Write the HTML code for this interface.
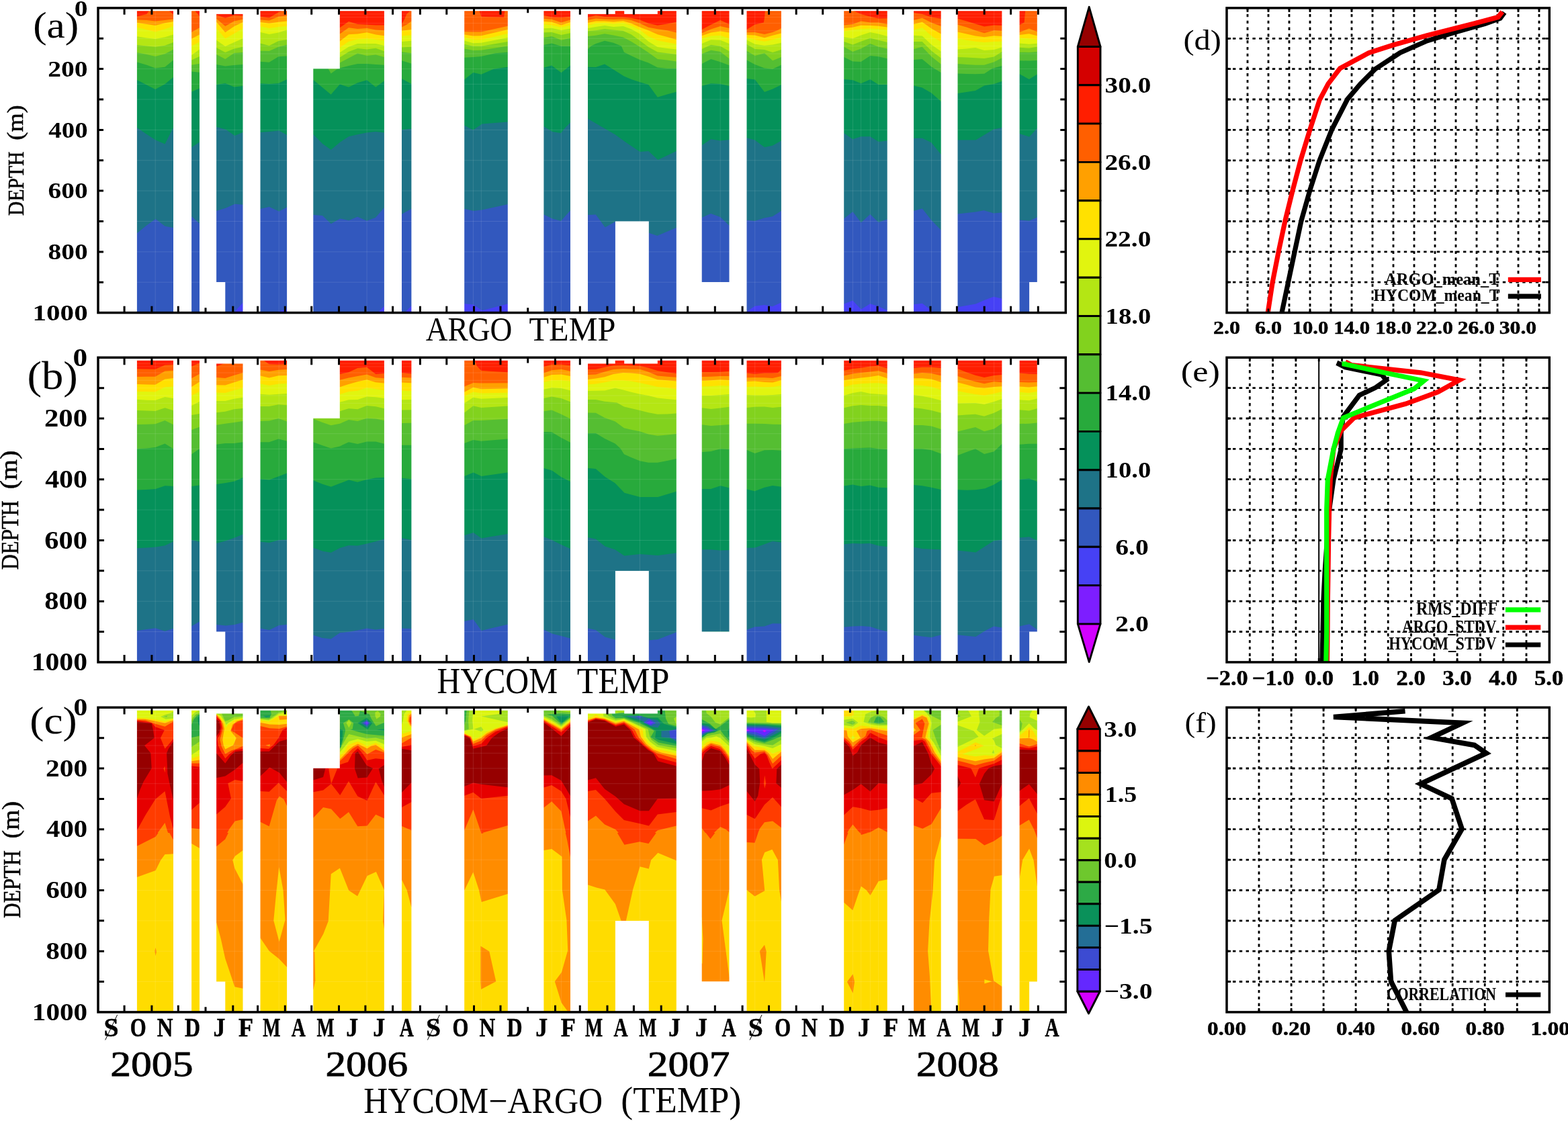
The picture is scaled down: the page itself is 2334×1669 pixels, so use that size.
<!DOCTYPE html>
<html lang="en"><head><meta charset="utf-8"><title>HYCOM vs ARGO temperature</title>
<style>html,body{margin:0;padding:0;background:#fff;overflow:hidden}svg{display:block}text{font-family:"Liberation Serif",serif;fill:#000;white-space:pre}</style>
</head><body>
<svg width="2334" height="1669" viewBox="0 0 2334 1669">
<rect width="2334" height="1669" fill="#fff"/>
<clipPath id="ka1"><rect x="202.4" y="13.3" width="57.1" height="452.3"/></clipPath>
<g clip-path="url(#ka1)">
<rect x="200.9" y="13.3" width="60.1" height="455.3" fill="#FF1E00"/>
<polygon points="199.9,24.6 203.9,24.6 218.4,20.9 221.7,16.1 231.2,12.9 245.5,12.9 251.4,16.1 258,21.5 262,21.5 262,470.6 199.9,470.6" fill="#FF5F00"/>
<polygon points="199.9,29.4 203.9,29.4 218.4,30.1 231.2,31.4 245.5,30.1 258,28.5 262,28.5 262,470.6 199.9,470.6" fill="#FFA000"/>
<polygon points="199.9,33.8 203.9,33.8 218.4,36 231.2,38 245.5,34.3 258,32.1 262,32.1 262,470.6 199.9,470.6" fill="#FFE100"/>
<polygon points="199.9,40.7 203.9,40.7 218.4,44.2 231.2,47.5 245.5,43.3 258,39.1 262,39.1 262,470.6 199.9,470.6" fill="#E1F50F"/>
<polygon points="199.9,54.3 203.9,54.3 218.4,56.5 231.2,58.1 245.5,55.2 258,51.5 262,51.5 262,470.6 199.9,470.6" fill="#B4E614"/>
<polygon points="199.9,67.1 203.9,67.1 218.4,68.4 231.2,69.7 245.5,67.7 258,62.9 262,62.9 262,470.6 199.9,470.6" fill="#82D21E"/>
<polygon points="199.9,78.3 203.9,78.3 218.4,81 231.2,84 245.5,80.3 258,73.7 262,73.7 262,470.6 199.9,470.6" fill="#55BE32"/>
<polygon points="199.9,92.5 203.9,92.5 218.4,96.8 231.2,101.4 245.5,99.8 258,89.5 262,89.5 262,470.6 199.9,470.6" fill="#28AA3C"/>
<polygon points="199.9,118.9 203.9,118.9 218.4,126.5 231.2,133.1 245.5,125.2 258,114.9 262,114.9 262,470.6 199.9,470.6" fill="#05915A"/>
<polygon points="199.9,190 203.9,190 217.7,199.6 231.6,208.5 245.5,214.6 257.5,190.9 262,190.9 262,470.6 199.9,470.6" fill="#1E7387"/>
<polygon points="199.9,347.2 203.9,347.2 217.7,336.1 231.6,325.9 245.5,336.7 257.5,338.9 262,338.9 262,470.6 199.9,470.6" fill="#3258BE"/>
</g>
<clipPath id="ka2"><rect x="283.6" y="13.3" width="14.9" height="452.3"/></clipPath>
<g clip-path="url(#ka2)">
<rect x="282.1" y="13.3" width="17.9" height="455.3" fill="#FF1E00"/>
<polygon points="281.1,12.9 285.1,12.9 290.4,16.2 297,24.2 301,24.2 301,470.6 281.1,470.6" fill="#FF5F00"/>
<polygon points="281.1,47.9 285.1,47.9 297,41.3 301,41.3 301,470.6 281.1,470.6" fill="#FFA000"/>
<polygon points="281.1,57.8 285.1,57.8 297,51.5 301,51.5 301,470.6 281.1,470.6" fill="#FFE100"/>
<polygon points="281.1,68.4 285.1,68.4 297,62.5 301,62.5 301,470.6 281.1,470.6" fill="#E1F50F"/>
<polygon points="281.1,82.3 285.1,82.3 297,73.4 301,73.4 301,470.6 281.1,470.6" fill="#B4E614"/>
<polygon points="281.1,89.5 285.1,89.5 297,84 301,84 301,470.6 281.1,470.6" fill="#82D21E"/>
<polygon points="281.1,96.8 285.1,96.8 297,94.8 301,94.8 301,470.6 281.1,470.6" fill="#55BE32"/>
<polygon points="281.1,106.5 285.1,106.5 297,107.8 301,107.8 301,470.6 281.1,470.6" fill="#28AA3C"/>
<polygon points="281.1,136.8 285.1,136.8 297,131.6 301,131.6 301,470.6 281.1,470.6" fill="#05915A"/>
<polygon points="281.1,219.2 285.2,219.2 296.9,211.8 301,211.8 301,470.6 281.1,470.6" fill="#1E7387"/>
<polygon points="281.1,322.2 285.2,322.2 296.9,332.8 301,332.8 301,470.6 281.1,470.6" fill="#3258BE"/>
</g>
<clipPath id="ka3"><rect x="320.6" y="17.9" width="42.4" height="447.7"/></clipPath>
<g clip-path="url(#ka3)">
<rect x="319.1" y="17.9" width="45.4" height="450.7" fill="#FF1E00"/>
<polygon points="318.1,22.2 322.1,22.2 335.3,26.8 348.5,22.8 361.5,23.5 365.5,23.5 365.5,470.6 318.1,470.6" fill="#FF5F00"/>
<polygon points="318.1,27.7 322.1,27.7 335.3,39.1 348.5,31.4 361.5,28.8 365.5,28.8 365.5,470.6 318.1,470.6" fill="#FFA000"/>
<polygon points="318.1,32.5 322.1,32.5 335.3,48.3 348.5,39.3 361.5,33 365.5,33 365.5,470.6 318.1,470.6" fill="#FFE100"/>
<polygon points="318.1,42 322.1,42 335.3,57.6 348.5,49.9 361.5,42.6 365.5,42.6 365.5,470.6 318.1,470.6" fill="#E1F50F"/>
<polygon points="318.1,59.8 322.1,59.8 335.3,69.1 348.5,63.1 361.5,57.2 365.5,57.2 365.5,470.6 318.1,470.6" fill="#B4E614"/>
<polygon points="318.1,71.1 322.1,71.1 335.3,77.9 348.5,72.4 361.5,69.7 365.5,69.7 365.5,470.6 318.1,470.6" fill="#82D21E"/>
<polygon points="318.1,81 322.1,81 335.3,88 348.5,79 361.5,77.9 365.5,77.9 365.5,470.6 318.1,470.6" fill="#55BE32"/>
<polygon points="318.1,96.1 322.1,96.1 335.3,98.5 348.5,97.1 361.5,96.1 365.5,96.1 365.5,470.6 318.1,470.6" fill="#28AA3C"/>
<polygon points="318.1,125.9 322.1,125.9 335.3,123.9 348.5,129.6 361.5,127.9 365.5,127.9 365.5,470.6 318.1,470.6" fill="#05915A"/>
<polygon points="318.1,189.1 322.2,189.1 336.1,192.8 349.4,202 361.6,197 365.5,197 365.5,470.6 318.1,470.6" fill="#1E7387"/>
<polygon points="318.1,313.9 322.2,313.9 336.1,309.8 349.4,303.7 361.6,304.7 365.5,304.7 365.5,470.6 318.1,470.6" fill="#3258BE"/>
<polygon points="318.1,485.9 322.2,485.9 349.4,464.1 361.6,450.4 365.5,450.4 365.5,470.6 318.1,470.6" fill="#4641F5"/>
</g>
<clipPath id="ka4"><rect x="386" y="13.3" width="42.6" height="452.3"/></clipPath>
<g clip-path="url(#ka4)">
<rect x="384.5" y="13.3" width="45.6" height="455.3" fill="#FF1E00"/>
<polygon points="383.5,24.8 387.5,24.8 400.7,26.4 414.6,18.2 419.9,16.1 427.1,12.9 431.1,12.9 431.1,470.6 383.5,470.6" fill="#FF5F00"/>
<polygon points="383.5,29.4 387.5,29.4 400.7,30.4 414.6,24.8 427.1,23.5 431.1,23.5 431.1,470.6 383.5,470.6" fill="#FFA000"/>
<polygon points="383.5,33 387.5,33 400.7,34.7 414.6,32.7 427.1,31.4 431.1,31.4 431.1,470.6 383.5,470.6" fill="#FFE100"/>
<polygon points="383.5,39.3 387.5,39.3 400.7,42 414.6,40 427.1,39.1 431.1,39.1 431.1,470.6 383.5,470.6" fill="#E1F50F"/>
<polygon points="383.5,47.9 387.5,47.9 400.7,51 414.6,48.6 427.1,44.6 431.1,44.6 431.1,470.6 383.5,470.6" fill="#B4E614"/>
<polygon points="383.5,64.4 387.5,64.4 400.7,68.1 414.6,61.1 427.1,58.9 431.1,58.9 431.1,470.6 383.5,470.6" fill="#82D21E"/>
<polygon points="383.5,75.7 387.5,75.7 400.7,76.1 414.6,69.7 427.1,66.8 431.1,66.8 431.1,470.6 383.5,470.6" fill="#55BE32"/>
<polygon points="383.5,91.8 387.5,91.8 400.7,92.8 414.6,84.3 427.1,83.6 431.1,83.6 431.1,470.6 383.5,470.6" fill="#28AA3C"/>
<polygon points="383.5,124.2 387.5,124.2 400.7,124.9 414.6,123.9 427.1,118.3 431.1,118.3 431.1,470.6 383.5,470.6" fill="#05915A"/>
<polygon points="383.5,197 387.5,197 400.8,195.9 415.3,194.6 427.1,201.1 431.1,201.1 431.1,470.6 383.5,470.6" fill="#1E7387"/>
<polygon points="383.5,311.1 387.5,311.1 400.8,308 415.3,314.8 427.1,308.4 431.1,308.4 431.1,470.6 383.5,470.6" fill="#3258BE"/>
<polygon points="383.5,485.9 387.5,485.9 413.8,464.1 427.1,460 431.1,460 431.1,470.6 383.5,470.6" fill="#4641F5"/>
</g>
<clipPath id="ka5"><rect x="464.8" y="13.3" width="108.6" height="452.3"/></clipPath>
<g clip-path="url(#ka5)">
<rect x="463.3" y="13.3" width="111.6" height="455.3" fill="#FF1E00"/>
<polygon points="462.3,41.3 466.3,41.3 505.8,41.3 519,32.1 532.3,36 546.1,36.7 559.3,37.4 571.9,37.4 575.9,37.4 575.9,470.6 462.3,470.6" fill="#FF5F00"/>
<polygon points="462.3,50.6 466.3,50.6 505.8,50.6 519,41.3 532.3,43 546.1,42 559.3,44.4 571.9,45.3 575.9,45.3 575.9,470.6 462.3,470.6" fill="#FFA000"/>
<polygon points="462.3,61.5 466.3,61.5 505.8,61.5 519,51.2 532.3,50.6 546.1,48.3 559.3,51.5 571.9,53.2 575.9,53.2 575.9,470.6 462.3,470.6" fill="#FFE100"/>
<polygon points="462.3,71.1 466.3,71.1 505.8,71.1 519,61.8 532.3,58.5 546.1,57.6 559.3,58.9 571.9,60.5 575.9,60.5 575.9,470.6 462.3,470.6" fill="#E1F50F"/>
<polygon points="462.3,78.3 466.3,78.3 505.8,78.3 519,69.7 532.3,65.1 546.1,65.1 559.3,65.1 571.9,68.1 575.9,68.1 575.9,470.6 462.3,470.6" fill="#B4E614"/>
<polygon points="462.3,85.6 466.3,85.6 505.8,85.6 519,77 532.3,72.1 546.1,73.4 559.3,71.7 571.9,76.3 575.9,76.3 575.9,470.6 462.3,470.6" fill="#82D21E"/>
<polygon points="462.3,93.5 466.3,93.5 505.8,93.5 519,86.6 532.3,79.6 546.1,82.9 559.3,81.6 571.9,84.9 575.9,84.9 575.9,470.6 462.3,470.6" fill="#55BE32"/>
<polygon points="462.3,97.5 466.3,97.5 488.4,102.1 492.6,109.6 502.3,102.5 505.8,101.4 519,98.1 532.3,95.1 546.1,95.1 559.3,96.1 571.9,96.8 575.9,96.8 575.9,470.6 462.3,470.6" fill="#28AA3C"/>
<polygon points="462.3,118.9 466.3,118.9 479.4,129.8 492.6,140.8 505.8,125.5 519,129.8 532.3,123.2 546.1,119.3 559.3,129.8 571.9,120.6 575.9,120.6 575.9,470.6 462.3,470.6" fill="#05915A"/>
<polygon points="462.3,200.2 466.5,200.2 480,214 492.7,222.9 506.2,211.8 519.2,203.3 532.1,200.2 546,197.4 559,196.1 571.9,197.4 575.9,197.4 575.9,470.6 462.3,470.6" fill="#1E7387"/>
<polygon points="462.3,320 466.5,320 480,320.9 492.7,333.3 506.2,325.4 519.2,328.3 532.1,322.8 546,328.7 559,324.1 571.9,309.3 575.9,309.3 575.9,470.6 462.3,470.6" fill="#3258BE"/>
<polygon points="462.3,504.4 466.5,504.4 563.6,464.1 571.9,455.9 575.9,455.9 575.9,470.6 462.3,470.6" fill="#4641F5"/>
</g>
<clipPath id="ka6"><rect x="596.5" y="13.3" width="17.4" height="452.3"/></clipPath>
<g clip-path="url(#ka6)">
<rect x="595" y="13.3" width="20.4" height="455.3" fill="#FF1E00"/>
<polygon points="594,36 598,36 602,28.8 605.3,20.9 610.6,16.1 612.6,12.9 616.4,12.9 616.4,470.6 594,470.6" fill="#FF5F00"/>
<polygon points="594,40.4 598,40.4 605.3,36.7 612.6,31.4 616.4,31.4 616.4,470.6 594,470.6" fill="#FFA000"/>
<polygon points="594,45.7 598,45.7 612.6,44 616.4,44 616.4,470.6 594,470.6" fill="#FFE100"/>
<polygon points="594,53.6 598,53.6 612.6,52.3 616.4,52.3 616.4,470.6 594,470.6" fill="#E1F50F"/>
<polygon points="594,62.1 598,62.1 612.6,60.7 616.4,60.7 616.4,470.6 594,470.6" fill="#B4E614"/>
<polygon points="594,70.4 598,70.4 612.6,69.7 616.4,69.7 616.4,470.6 594,470.6" fill="#82D21E"/>
<polygon points="594,77.3 598,77.3 612.6,79.2 616.4,79.2 616.4,470.6 594,470.6" fill="#55BE32"/>
<polygon points="594,90.2 598,90.2 612.6,94.8 616.4,94.8 616.4,470.6 594,470.6" fill="#28AA3C"/>
<polygon points="594,117.3 598,117.3 612.6,124.9 616.4,124.9 616.4,470.6 594,470.6" fill="#05915A"/>
<polygon points="594,193.3 597.8,193.3 612.2,191.8 616.4,191.8 616.4,470.6 594,470.6" fill="#1E7387"/>
<polygon points="594,318.9 597.8,318.9 612.2,311.1 616.4,311.1 616.4,470.6 594,470.6" fill="#3258BE"/>
<polygon points="594,471.1 597.8,471.1 603.9,464.1 612.2,455.4 616.4,455.4 616.4,470.6 594,470.6" fill="#4641F5"/>
</g>
<clipPath id="ka7"><rect x="689.7" y="13.3" width="67.6" height="452.3"/></clipPath>
<g clip-path="url(#ka7)">
<rect x="688.2" y="13.3" width="70.6" height="455.3" fill="#FF1E00"/>
<polygon points="687.2,12.9 691.2,12.9 711,12.9 713.6,16.2 716.3,24.8 729.5,25.2 742.7,25.5 750,25.7 751.5,16.1 755.9,12.9 759.8,12.9 759.8,470.6 687.2,470.6" fill="#FF5F00"/>
<polygon points="687.2,47.3 691.2,47.3 704.4,47.5 716.3,47.5 755.9,38.7 759.8,38.7 759.8,470.6 687.2,470.6" fill="#FFA000"/>
<polygon points="687.2,51.5 691.2,51.5 704.4,53.6 716.3,53.2 755.9,44 759.8,44 759.8,470.6 687.2,470.6" fill="#FFE100"/>
<polygon points="687.2,55.5 691.2,55.5 704.4,59.2 716.3,59.2 755.9,49.9 759.8,49.9 759.8,470.6 687.2,470.6" fill="#E1F50F"/>
<polygon points="687.2,60.5 691.2,60.5 704.4,64.2 716.3,63.8 755.9,55.9 759.8,55.9 759.8,470.6 687.2,470.6" fill="#B4E614"/>
<polygon points="687.2,66 691.2,66 704.4,68.7 716.3,68.7 755.9,62.1 759.8,62.1 759.8,470.6 687.2,470.6" fill="#82D21E"/>
<polygon points="687.2,72.6 691.2,72.6 704.4,75 716.3,74.7 755.9,68.4 759.8,68.4 759.8,470.6 687.2,470.6" fill="#55BE32"/>
<polygon points="687.2,85.8 691.2,85.8 704.4,84.9 716.3,84 737.4,79.2 755.9,77.7 759.8,77.7 759.8,470.6 687.2,470.6" fill="#28AA3C"/>
<polygon points="687.2,118.6 691.2,118.6 704.4,108 716.3,110.7 734.8,102.8 755.9,99.8 759.8,99.8 759.8,470.6 687.2,470.6" fill="#05915A"/>
<polygon points="687.2,186.7 691.2,186.7 704.3,193.5 717.6,184.5 755.5,181.5 759.8,181.5 759.8,470.6 687.2,470.6" fill="#1E7387"/>
<polygon points="687.2,311.1 691.2,311.1 704.7,313.9 717.6,312.4 755.5,304.3 759.8,304.3 759.8,470.6 687.2,470.6" fill="#3258BE"/>
<polygon points="687.2,452.2 691.2,452.2 704.7,453.5 717.6,462.2 730.6,459.1 743.5,455.4 755.5,452.6 759.8,452.6 759.8,470.6 687.2,470.6" fill="#4641F5"/>
</g>
<clipPath id="ka8"><rect x="807.9" y="13.3" width="42.6" height="452.3"/></clipPath>
<g clip-path="url(#ka8)">
<rect x="806.4" y="13.3" width="45.6" height="455.3" fill="#FF1E00"/>
<polygon points="805.4,22.8 809.4,22.8 821.2,25.5 835.4,26.1 849,24.8 853,24.8 853,470.6 805.4,470.6" fill="#FF5F00"/>
<polygon points="805.4,27.7 809.4,27.7 821.2,28.8 835.4,33.4 849,29.4 853,29.4 853,470.6 805.4,470.6" fill="#FFA000"/>
<polygon points="805.4,32.1 809.4,32.1 821.2,32.7 835.4,37.4 849,33 853,33 853,470.6 805.4,470.6" fill="#FFE100"/>
<polygon points="805.4,36 809.4,36 821.2,37.4 835.4,40.7 849,37.4 853,37.4 853,470.6 805.4,470.6" fill="#E1F50F"/>
<polygon points="805.4,42.3 809.4,42.3 821.2,41.7 835.4,44.9 849,42.6 853,42.6 853,470.6 805.4,470.6" fill="#B4E614"/>
<polygon points="805.4,48.6 809.4,48.6 821.2,47.9 835.4,51.9 849,49.3 853,49.3 853,470.6 805.4,470.6" fill="#82D21E"/>
<polygon points="805.4,56.1 809.4,56.1 821.2,54.1 835.4,59.8 849,56.8 853,56.8 853,470.6 805.4,470.6" fill="#55BE32"/>
<polygon points="805.4,67.1 809.4,67.1 821.2,64.4 835.4,68.7 849,68.7 853,68.7 853,470.6 805.4,470.6" fill="#28AA3C"/>
<polygon points="805.4,100.8 809.4,100.8 821.2,97.5 835.4,108.3 849,97.5 853,97.5 853,470.6 805.4,470.6" fill="#05915A"/>
<polygon points="805.4,188.2 809.5,188.2 822.1,195.9 835,198.3 841.5,190 848.9,182.6 853,182.6 853,470.6 805.4,470.6" fill="#1E7387"/>
<polygon points="805.4,319.5 809.5,319.5 822.1,325.6 835,329.1 848.9,313.5 853,313.5 853,470.6 805.4,470.6" fill="#3258BE"/>
</g>
<clipPath id="ka9"><rect x="873.5" y="13.3" width="134.8" height="452.3"/></clipPath>
<g clip-path="url(#ka9)">
<rect x="872" y="13.3" width="137.8" height="455.3" fill="#FF1E00"/>
<polygon points="871,26.1 875,26.1 886.9,22.8 900.1,25.1 927.6,25.5 939.5,26.8 952.4,29.4 965.2,34.7 978.8,37.8 993,35.6 1006.8,32.7 1010.8,32.7 1010.8,470.6 871,470.6" fill="#FF5F00"/>
<polygon points="871,30.1 875,30.1 886.9,27.5 900.1,28.5 913.1,29 927.6,28.5 939.5,30.1 952.4,34.7 965.2,40.7 978.8,43.3 993,45.3 1006.8,48.6 1010.8,48.6 1010.8,470.6 871,470.6" fill="#FFA000"/>
<polygon points="871,34.1 875,34.1 886.9,31.4 900.1,31.4 913.1,32.5 927.6,31.2 939.5,34.7 952.4,40.4 965.2,45.3 978.8,51.2 993,54.9 1006.8,58.9 1010.8,58.9 1010.8,470.6 871,470.6" fill="#FFE100"/>
<polygon points="871,37.8 875,37.8 886.9,34.7 900.1,34.3 913.1,35.6 927.6,34.1 939.5,38.3 952.4,44.6 965.2,53.9 978.8,60.2 993,63.1 1006.8,65.8 1010.8,65.8 1010.8,470.6 871,470.6" fill="#E1F50F"/>
<polygon points="871,42 875,42 886.9,40 900.1,38 913.1,40 927.6,39.1 939.5,43.3 952.4,50.6 965.2,61.8 978.8,70 993,72.1 1006.8,73.4 1010.8,73.4 1010.8,470.6 871,470.6" fill="#B4E614"/>
<polygon points="871,46.2 875,46.2 886.9,45.3 900.1,43.3 913.1,44.6 927.6,46 939.5,51.2 952.4,60.5 965.2,70 978.8,77.4 993,79.2 1006.8,81 1010.8,81 1010.8,470.6 871,470.6" fill="#82D21E"/>
<polygon points="871,54.1 875,54.1 886.9,52.8 900.1,50.2 913.1,52.6 927.6,55.5 939.5,61.8 952.4,69.7 965.2,78.3 978.8,88 993,89.5 1006.8,91.5 1010.8,91.5 1010.8,470.6 871,470.6" fill="#55BE32"/>
<polygon points="871,73 875,73 880,68.4 886.9,65.1 900.1,60.7 913.1,63.8 924.9,68.4 928.9,77.7 939.5,82.9 952.4,88.9 965.2,93.5 978.8,100.4 993,102.1 1006.8,102.1 1010.8,102.1 1010.8,470.6 871,470.6" fill="#28AA3C"/>
<polygon points="871,99.8 875,99.8 886.9,100.1 900.1,95.5 913.1,103.4 928.9,113.6 939.5,117.9 952.4,122.3 965.2,125.9 978.8,144.8 993,140.4 1006.8,136.7 1010.8,136.7 1010.8,470.6 871,470.6" fill="#05915A"/>
<polygon points="871,177.1 875.4,177.1 900.7,191.8 915.5,200.2 932.1,212.2 952.5,226.1 965.4,225.1 979.3,238.1 1006.7,225.1 1010.8,225.1 1010.8,470.6 871,470.6" fill="#1E7387"/>
<polygon points="871,320 875.4,320 886.8,319.5 900.7,338.5 915.9,330 965.8,346.8 978.4,350.9 1006.7,338.9 1010.8,338.9 1010.8,470.6 871,470.6" fill="#3258BE"/>
</g>
<clipPath id="ka10"><rect x="1043.2" y="13.3" width="43.8" height="406.7"/></clipPath>
<g clip-path="url(#ka10)">
<rect x="1041.7" y="13.3" width="46.8" height="409.7" fill="#FF1E00"/>
<polygon points="1040.7,44 1044.7,44 1058.3,36.7 1072.2,30.1 1085.4,36 1089.5,36 1089.5,425 1040.7,425" fill="#FF5F00"/>
<polygon points="1040.7,49.3 1044.7,49.3 1058.3,43.6 1072.2,39.1 1085.4,42 1089.5,42 1089.5,425 1040.7,425" fill="#FFA000"/>
<polygon points="1040.7,53.2 1044.7,53.2 1058.3,48.6 1072.2,46.6 1085.4,48.6 1089.5,48.6 1089.5,425 1040.7,425" fill="#FFE100"/>
<polygon points="1040.7,57.2 1044.7,57.2 1058.3,53.6 1072.2,52.8 1085.4,57.2 1089.5,57.2 1089.5,425 1040.7,425" fill="#E1F50F"/>
<polygon points="1040.7,65.1 1044.7,65.1 1058.3,59.2 1072.2,59.8 1085.4,65.1 1089.5,65.1 1089.5,425 1040.7,425" fill="#B4E614"/>
<polygon points="1040.7,73 1044.7,73 1058.3,66.8 1072.2,68.7 1085.4,76.3 1089.5,76.3 1089.5,425 1040.7,425" fill="#82D21E"/>
<polygon points="1040.7,80.3 1044.7,80.3 1058.3,74.7 1072.2,77 1085.4,87.2 1089.5,87.2 1089.5,425 1040.7,425" fill="#55BE32"/>
<polygon points="1040.7,95.1 1044.7,95.1 1058.3,88 1072.2,92.2 1085.4,97.2 1089.5,97.2 1089.5,425 1040.7,425" fill="#28AA3C"/>
<polygon points="1040.7,128.1 1044.7,128.1 1058.3,124.2 1072.2,124.9 1085.4,127.9 1089.5,127.9 1089.5,425 1040.7,425" fill="#05915A"/>
<polygon points="1040.7,216.4 1044.6,216.4 1058.1,207.2 1072.3,209.4 1085.6,208.1 1089.5,208.1 1089.5,425 1040.7,425" fill="#1E7387"/>
<polygon points="1040.7,324.1 1044.6,324.1 1058.1,318 1072.3,323.2 1085.6,336.1 1089.5,336.1 1089.5,425 1040.7,425" fill="#3258BE"/>
</g>
<clipPath id="ka11"><rect x="1110" y="13.3" width="54.4" height="452.3"/></clipPath>
<g clip-path="url(#ka11)">
<rect x="1108.5" y="13.3" width="57.4" height="455.3" fill="#FF1E00"/>
<polygon points="1107.5,44 1111.5,44 1123.7,36.4 1136.9,33.4 1138.2,24.8 1138.9,16.1 1162.9,10.3 1166.9,10.3 1166.9,470.6 1107.5,470.6" fill="#FF5F00"/>
<polygon points="1107.5,48.3 1111.5,48.3 1123.7,47.9 1138,51 1150.1,47.9 1158.7,44.6 1162.9,42 1166.9,42 1166.9,470.6 1107.5,470.6" fill="#FFA000"/>
<polygon points="1107.5,51.9 1111.5,51.9 1123.7,52.6 1138,56.3 1150.1,52.8 1162.9,49.6 1166.9,49.6 1166.9,470.6 1107.5,470.6" fill="#FFE100"/>
<polygon points="1107.5,55.9 1111.5,55.9 1123.7,59.2 1138,61.8 1150.1,59.2 1162.9,55.5 1166.9,55.5 1166.9,470.6 1107.5,470.6" fill="#E1F50F"/>
<polygon points="1107.5,59.4 1111.5,59.4 1123.7,65.8 1138,67.7 1150.1,66.4 1162.9,63.8 1166.9,63.8 1166.9,470.6 1107.5,470.6" fill="#B4E614"/>
<polygon points="1107.5,66 1111.5,66 1123.7,73 1138,74 1150.1,77.9 1162.9,74 1166.9,74 1166.9,470.6 1107.5,470.6" fill="#82D21E"/>
<polygon points="1107.5,75.7 1111.5,75.7 1123.7,82.9 1138,79.2 1150.1,90.2 1162.9,84.9 1166.9,84.9 1166.9,470.6 1107.5,470.6" fill="#55BE32"/>
<polygon points="1107.5,89.5 1111.5,89.5 1123.7,96.1 1138,101.4 1150.1,102.8 1162.9,96.8 1166.9,96.8 1166.9,470.6 1107.5,470.6" fill="#28AA3C"/>
<polygon points="1107.5,117 1111.5,117 1123.7,118.6 1138,137.1 1150.1,132.5 1162.9,126.3 1166.9,126.3 1166.9,470.6 1107.5,470.6" fill="#05915A"/>
<polygon points="1107.5,205.2 1111.5,205.2 1123.5,208.5 1138,219.2 1150,216.8 1162.9,209.4 1166.9,209.4 1166.9,470.6 1107.5,470.6" fill="#1E7387"/>
<polygon points="1107.5,327.8 1111.5,327.8 1123.5,329.1 1138,324.6 1150,322.2 1162.9,313.9 1166.9,313.9 1166.9,470.6 1107.5,470.6" fill="#3258BE"/>
<polygon points="1107.5,464.1 1111.5,464.1 1123.5,455.8 1138,454.1 1150,456.3 1162.9,450.4 1166.9,450.4 1166.9,470.6 1107.5,470.6" fill="#4641F5"/>
</g>
<clipPath id="ka12"><rect x="1254.7" y="13.3" width="67.5" height="452.3"/></clipPath>
<g clip-path="url(#ka12)">
<rect x="1253.2" y="13.3" width="70.5" height="455.3" fill="#FF1E00"/>
<polygon points="1252.2,12.9 1256.2,12.9 1269.7,12.9 1271,16.2 1281.6,20.9 1295.4,24.8 1307.7,27.5 1320.7,27.2 1324.7,27.2 1324.7,470.6 1252.2,470.6" fill="#FF5F00"/>
<polygon points="1252.2,37.4 1256.2,37.4 1269.4,36 1281.6,31.4 1295.4,33.4 1307.7,33.4 1320.7,36 1324.7,36 1324.7,470.6 1252.2,470.6" fill="#FFA000"/>
<polygon points="1252.2,42 1256.2,42 1269.4,40.7 1281.6,37.8 1295.4,38 1307.7,38.7 1320.7,40.4 1324.7,40.4 1324.7,470.6 1252.2,470.6" fill="#FFE100"/>
<polygon points="1252.2,46.6 1256.2,46.6 1269.4,44.4 1281.6,43.3 1295.4,42.6 1307.7,43.3 1320.7,44.6 1324.7,44.6 1324.7,470.6 1252.2,470.6" fill="#E1F50F"/>
<polygon points="1252.2,55.2 1256.2,55.2 1269.4,57.2 1281.6,52.6 1295.4,47.9 1307.7,50.6 1320.7,53.9 1324.7,53.9 1324.7,470.6 1252.2,470.6" fill="#B4E614"/>
<polygon points="1252.2,62.1 1256.2,62.1 1269.4,66.4 1281.6,61.8 1295.4,56.8 1307.7,59.8 1320.7,63.1 1324.7,63.1 1324.7,470.6 1252.2,470.6" fill="#82D21E"/>
<polygon points="1252.2,69.7 1256.2,69.7 1269.4,77 1281.6,72.4 1295.4,65.1 1307.7,69.7 1320.7,72.6 1324.7,72.6 1324.7,470.6 1252.2,470.6" fill="#55BE32"/>
<polygon points="1252.2,84.9 1256.2,84.9 1269.4,91.5 1281.6,91.9 1295.4,82.9 1307.7,84.3 1320.7,87.2 1324.7,87.2 1324.7,470.6 1252.2,470.6" fill="#28AA3C"/>
<polygon points="1252.2,117.9 1256.2,117.9 1269.4,119.3 1281.6,124.2 1295.4,118.3 1307.7,125.9 1320.7,125.9 1324.7,125.9 1324.7,470.6 1252.2,470.6" fill="#05915A"/>
<polygon points="1252.2,198.3 1256.3,198.3 1269.3,207.2 1281.8,203.3 1295.2,203.3 1307.7,210.9 1320.5,209.4 1324.7,209.4 1324.7,470.6 1252.2,470.6" fill="#1E7387"/>
<polygon points="1252.2,325.6 1256.3,325.6 1269.3,315.2 1281.8,331.5 1295.2,318.9 1307.7,330.9 1320.5,326.5 1324.7,326.5 1324.7,470.6 1252.2,470.6" fill="#3258BE"/>
<polygon points="1252.2,452.6 1256.3,452.6 1269.3,447.4 1281.8,460.4 1295.2,452.2 1307.7,456.3 1320.5,461.9 1324.7,461.9 1324.7,470.6 1252.2,470.6" fill="#4641F5"/>
</g>
<clipPath id="ka13"><rect x="1358.6" y="13.3" width="43.6" height="452.3"/></clipPath>
<g clip-path="url(#ka13)">
<rect x="1357.1" y="13.3" width="46.6" height="455.3" fill="#FF1E00"/>
<polygon points="1356.1,18.9 1360.1,18.9 1372.7,20.9 1386.5,25.5 1400.7,27.7 1404.7,27.7 1404.7,470.6 1356.1,470.6" fill="#FF5F00"/>
<polygon points="1356.1,30.1 1360.1,30.1 1372.7,26.8 1386.5,33.8 1400.7,39.1 1404.7,39.1 1404.7,470.6 1356.1,470.6" fill="#FFA000"/>
<polygon points="1356.1,36 1360.1,36 1372.7,32.7 1386.5,42.6 1400.7,50.6 1404.7,50.6 1404.7,470.6 1356.1,470.6" fill="#FFE100"/>
<polygon points="1356.1,44.6 1360.1,44.6 1372.7,41.3 1386.5,53.6 1400.7,62.5 1404.7,62.5 1404.7,470.6 1356.1,470.6" fill="#E1F50F"/>
<polygon points="1356.1,52.8 1360.1,52.8 1372.7,53.6 1386.5,66.4 1400.7,76.6 1404.7,76.6 1404.7,470.6 1356.1,470.6" fill="#B4E614"/>
<polygon points="1356.1,62.1 1360.1,62.1 1372.7,62.1 1386.5,75.7 1400.7,86.6 1404.7,86.6 1404.7,470.6 1356.1,470.6" fill="#82D21E"/>
<polygon points="1356.1,73 1360.1,73 1372.7,69.7 1386.5,84.3 1400.7,95.5 1404.7,95.5 1404.7,470.6 1356.1,470.6" fill="#55BE32"/>
<polygon points="1356.1,88.9 1360.1,88.9 1372.7,88 1386.5,99.5 1400.7,108 1404.7,108 1404.7,470.6 1356.1,470.6" fill="#28AA3C"/>
<polygon points="1356.1,127.6 1360.1,127.6 1372.7,130.5 1386.5,138.4 1400.7,151 1404.7,151 1404.7,470.6 1356.1,470.6" fill="#05915A"/>
<polygon points="1356.1,205.7 1359.9,205.7 1372.8,205.7 1386.3,212.2 1400.6,229.8 1404.7,229.8 1404.7,470.6 1356.1,470.6" fill="#1E7387"/>
<polygon points="1356.1,313.9 1359.9,313.9 1372.8,310.6 1386.3,327.8 1400.6,342.6 1404.7,342.6 1404.7,470.6 1356.1,470.6" fill="#3258BE"/>
<polygon points="1356.1,453.2 1359.9,453.2 1372.8,451.7 1386.3,461.9 1389.5,464.1 1400.6,471.1 1404.7,471.1 1404.7,470.6 1356.1,470.6" fill="#4641F5"/>
</g>
<clipPath id="ka14"><rect x="1424" y="13.3" width="68.9" height="452.3"/></clipPath>
<g clip-path="url(#ka14)">
<rect x="1422.5" y="13.3" width="71.9" height="455.3" fill="#FF1E00"/>
<polygon points="1421.5,27.7 1425.5,27.7 1438.7,31.4 1451.9,35.6 1465.1,39.6 1479.7,37.4 1491.3,38 1495.4,38 1495.4,470.6 1421.5,470.6" fill="#FF5F00"/>
<polygon points="1421.5,36.7 1425.5,36.7 1438.7,40.4 1451.9,45.3 1465.1,49.3 1479.7,45.3 1491.3,46 1495.4,46 1495.4,470.6 1421.5,470.6" fill="#FFA000"/>
<polygon points="1421.5,47.5 1425.5,47.5 1438.7,50.6 1451.9,53.6 1465.1,55.2 1479.7,53.2 1491.3,53.9 1495.4,53.9 1495.4,470.6 1421.5,470.6" fill="#FFE100"/>
<polygon points="1421.5,57.6 1425.5,57.6 1438.7,59.8 1451.9,61.8 1465.1,62.9 1479.7,62.1 1491.3,61.5 1495.4,61.5 1495.4,470.6 1421.5,470.6" fill="#E1F50F"/>
<polygon points="1421.5,73.4 1425.5,73.4 1438.7,72.4 1451.9,71.1 1465.1,75 1479.7,74 1491.3,70.4 1495.4,70.4 1495.4,470.6 1421.5,470.6" fill="#B4E614"/>
<polygon points="1421.5,84.9 1425.5,84.9 1438.7,85.6 1451.9,86.2 1465.1,86.9 1479.7,84.5 1491.3,77 1495.4,77 1495.4,470.6 1421.5,470.6" fill="#82D21E"/>
<polygon points="1421.5,95.1 1425.5,95.1 1438.7,95.9 1451.9,96.8 1465.1,96.8 1479.7,92.2 1491.3,86.2 1495.4,86.2 1495.4,470.6 1421.5,470.6" fill="#55BE32"/>
<polygon points="1421.5,109.4 1425.5,109.4 1438.7,110 1451.9,110.3 1465.1,109.8 1477,102.1 1491.3,97.9 1495.4,97.9 1495.4,470.6 1421.5,470.6" fill="#28AA3C"/>
<polygon points="1421.5,139.1 1425.5,139.1 1438.7,137.1 1451.9,135.1 1465.1,127.6 1479.7,124.9 1491.3,121 1495.4,121 1495.4,470.6 1421.5,470.6" fill="#05915A"/>
<polygon points="1421.5,208.6 1425.7,208.6 1452.4,208.6 1466.2,200.3 1479.1,192.6 1491.6,190 1495.4,190 1495.4,470.6 1421.5,470.6" fill="#1E7387"/>
<polygon points="1421.5,318.4 1425.7,318.4 1452.4,315.5 1464.5,313.3 1479.1,317.6 1491.6,316.4 1495.4,316.4 1495.4,470.6 1421.5,470.6" fill="#3258BE"/>
<polygon points="1421.5,457.2 1425.7,457.2 1452.4,452.4 1466.2,446.6 1479.1,441.7 1491.6,444.8 1495.4,444.8 1495.4,470.6 1421.5,470.6" fill="#4641F5"/>
</g>
<clipPath id="ka15"><rect x="1516.1" y="13.3" width="29.2" height="452.3"/></clipPath>
<g clip-path="url(#ka15)">
<rect x="1514.6" y="13.3" width="32.2" height="455.3" fill="#FF1E00"/>
<polygon points="1513.6,37 1517.6,37 1524.6,33.4 1526.2,16.1 1543.7,10.3 1547.8,10.3 1547.8,470.6 1513.6,470.6" fill="#FF5F00"/>
<polygon points="1513.6,47.9 1517.6,47.9 1531.8,42.6 1543.7,47.3 1547.8,47.3 1547.8,470.6 1513.6,470.6" fill="#FFA000"/>
<polygon points="1513.6,51.9 1517.6,51.9 1531.8,50.2 1543.7,53.2 1547.8,53.2 1547.8,470.6 1513.6,470.6" fill="#FFE100"/>
<polygon points="1513.6,56.5 1517.6,56.5 1531.8,57.6 1543.7,59.2 1547.8,59.2 1547.8,470.6 1513.6,470.6" fill="#E1F50F"/>
<polygon points="1513.6,64.4 1517.6,64.4 1531.8,65.8 1543.7,64.7 1547.8,64.7 1547.8,470.6 1513.6,470.6" fill="#B4E614"/>
<polygon points="1513.6,70.8 1517.6,70.8 1531.8,71.7 1543.7,69.7 1547.8,69.7 1547.8,470.6 1513.6,470.6" fill="#82D21E"/>
<polygon points="1513.6,77.7 1517.6,77.7 1531.8,77.9 1543.7,77 1547.8,77 1547.8,470.6 1513.6,470.6" fill="#55BE32"/>
<polygon points="1513.6,90.2 1517.6,90.2 1531.8,90.5 1543.7,89.9 1547.8,89.9 1547.8,470.6 1513.6,470.6" fill="#28AA3C"/>
<polygon points="1513.6,110.3 1517.6,110.3 1531.8,117.9 1543.7,110.7 1547.8,110.7 1547.8,470.6 1513.6,470.6" fill="#05915A"/>
<polygon points="1513.6,199 1517.6,199 1532.1,203.8 1543.8,190.9 1547.8,190.9 1547.8,470.6 1513.6,470.6" fill="#1E7387"/>
<polygon points="1513.6,327.4 1517.6,327.4 1532.1,328.8 1543.8,323.6 1547.8,323.6 1547.8,470.6 1513.6,470.6" fill="#3258BE"/>
</g>
<path d="M146 21H1586.3 M146 25.5H1586.3 M146 34.6H1586.3 M146 45.9H1586.3 M146 57.3H1586.3 M146 68.6H1586.3 M146 80H1586.3 M146 102.6H1586.3 M146 125.3H1586.3 M146 148H1586.3 M146 193.4H1586.3 M146 238.8H1586.3 M146 284.1H1586.3 M146 329.5H1586.3 M146 374.9H1586.3 M146 420.2H1586.3 M231.2 11.9V465.6 M349.2 11.9V465.6 M415.2 11.9V465.6 M546.1 11.9V465.6 M704.4 11.9V465.6 M716.3 11.9V465.6 M821.2 11.9V465.6 M835.4 11.9V465.6 M952.4 11.9V465.6 M1072.2 11.9V465.6 M1123.7 11.9V465.6 M1269.4 11.9V465.6 M1281.6 11.9V465.6 M1295.4 11.9V465.6 M1307.7 11.9V465.6 M1386.5 11.9V465.6 M1479.7 11.9V465.6" stroke="#fff" stroke-opacity="0.11" stroke-width="1" fill="none"/>
<rect x="146" y="11.9" width="57.9" height="453.7" fill="#fff"/>
<rect x="258" y="11.9" width="27.1" height="453.7" fill="#fff"/>
<rect x="297" y="11.9" width="25.1" height="453.7" fill="#fff"/>
<rect x="361.5" y="11.9" width="26" height="453.7" fill="#fff"/>
<rect x="427.1" y="11.9" width="39.2" height="453.7" fill="#fff"/>
<rect x="571.9" y="11.9" width="26.1" height="453.7" fill="#fff"/>
<rect x="612.4" y="11.9" width="78.8" height="453.7" fill="#fff"/>
<rect x="755.8" y="11.9" width="53.6" height="453.7" fill="#fff"/>
<rect x="849" y="11.9" width="26" height="453.7" fill="#fff"/>
<rect x="1006.8" y="11.9" width="37.9" height="453.7" fill="#fff"/>
<rect x="1085.5" y="11.9" width="26" height="453.7" fill="#fff"/>
<rect x="1162.9" y="11.9" width="93.3" height="453.7" fill="#fff"/>
<rect x="1320.7" y="11.9" width="39.4" height="453.7" fill="#fff"/>
<rect x="1400.7" y="11.9" width="24.8" height="453.7" fill="#fff"/>
<rect x="1491.4" y="11.9" width="26.2" height="453.7" fill="#fff"/>
<rect x="1543.8" y="11.9" width="42.5" height="453.7" fill="#fff"/>
<rect x="146" y="11.9" width="1440.3" height="4.4" fill="#fff"/>
<rect x="321.1" y="11.9" width="41.4" height="9" fill="#fff"/>
<rect x="321.1" y="420" width="14.2" height="45.6" fill="#fff"/>
<rect x="465.3" y="11.9" width="40.5" height="90.4" fill="#fff"/>
<rect x="874" y="11.9" width="41.7" height="9" fill="#fff"/>
<rect x="929.2" y="11.9" width="49.6" height="9" fill="#fff"/>
<rect x="915.9" y="329.5" width="49.9" height="136.1" fill="#fff"/>
<rect x="1043.7" y="420" width="42.8" height="45.6" fill="#fff"/>
<rect x="1532.1" y="420" width="12.7" height="45.6" fill="#fff"/>
<clipPath id="kb1"><rect x="202.4" y="533.8" width="57.1" height="452.3"/></clipPath>
<g clip-path="url(#kb1)">
<rect x="200.9" y="533.8" width="60.1" height="455.3" fill="#FF1E00"/>
<polygon points="199.9,549.2 203.9,549.2 218.4,549.4 231.2,549.8 245.5,543.5 258,542.8 262,542.8 262,991.1 199.9,991.1" fill="#FF5F00"/>
<polygon points="199.9,560.9 203.9,560.9 218.4,560.7 231.2,560.7 245.5,552.5 258,551.7 262,551.7 262,991.1 199.9,991.1" fill="#FFA000"/>
<polygon points="199.9,571.9 203.9,571.9 218.4,572.6 231.2,572.8 245.5,564.4 258,563 262,563 262,991.1 199.9,991.1" fill="#FFE100"/>
<polygon points="199.9,582.9 203.9,582.9 218.4,583.1 231.2,583.4 245.5,576.3 258,575.5 262,575.5 262,991.1 199.9,991.1" fill="#E1F50F"/>
<polygon points="199.9,594.7 203.9,594.7 218.4,595.7 231.2,596.1 245.5,591.1 258,593 262,593 262,991.1 199.9,991.1" fill="#B4E614"/>
<polygon points="199.9,610.9 203.9,610.9 218.4,611.5 231.2,611.9 245.5,607.2 258,611.1 262,611.1 262,991.1 199.9,991.1" fill="#82D21E"/>
<polygon points="199.9,632 203.9,632 218.4,631.7 231.2,631.3 245.5,626.1 258,632.3 262,632.3 262,991.1 199.9,991.1" fill="#55BE32"/>
<polygon points="199.9,668.3 203.9,668.3 218.4,667.4 231.2,666.1 245.5,660.4 258,668.3 262,668.3 262,991.1 199.9,991.1" fill="#28AA3C"/>
<polygon points="199.9,729.4 203.9,729.4 217.7,729 231.6,727.9 245.5,723.3 257.5,723.9 262,723.9 262,991.1 199.9,991.1" fill="#05915A"/>
<polygon points="199.9,816.3 203.9,816.3 217.7,815.4 231.6,814.5 245.5,812.3 257.5,806.5 262,806.5 262,991.1 199.9,991.1" fill="#1E7387"/>
<polygon points="199.9,939 203.9,939 217.7,937.1 231.6,935.3 245.5,939.7 257.5,936 262,936 262,991.1 199.9,991.1" fill="#3258BE"/>
</g>
<clipPath id="kb2"><rect x="283.6" y="533.8" width="14.9" height="452.3"/></clipPath>
<g clip-path="url(#kb2)">
<rect x="282.1" y="533.8" width="17.9" height="455.3" fill="#FF1E00"/>
<polygon points="281.1,545.5 285.1,545.5 297,540.6 301,540.6 301,991.1 281.1,991.1" fill="#FF5F00"/>
<polygon points="281.1,563.3 285.1,563.3 297,556.7 301,556.7 301,991.1 281.1,991.1" fill="#FFA000"/>
<polygon points="281.1,575.9 285.1,575.9 297,568.6 301,568.6 301,991.1 281.1,991.1" fill="#FFE100"/>
<polygon points="281.1,589.1 285.1,589.1 297,583.1 301,583.1 301,991.1 281.1,991.1" fill="#E1F50F"/>
<polygon points="281.1,604 285.1,604 297,597.9 301,597.9 301,991.1 281.1,991.1" fill="#B4E614"/>
<polygon points="281.1,618.1 285.1,618.1 297,615.9 301,615.9 301,991.1 281.1,991.1" fill="#82D21E"/>
<polygon points="281.1,639.9 285.1,639.9 297,635.7 301,635.7 301,991.1 281.1,991.1" fill="#55BE32"/>
<polygon points="281.1,676.3 285.1,676.3 297,667.9 301,667.9 301,991.1 281.1,991.1" fill="#28AA3C"/>
<polygon points="281.1,723.9 285.2,723.9 296.9,722.6 301,722.6 301,991.1 281.1,991.1" fill="#05915A"/>
<polygon points="281.1,803.9 285.2,803.9 296.9,806.5 301,806.5 301,991.1 281.1,991.1" fill="#1E7387"/>
<polygon points="281.1,932.3 285.2,932.3 296.9,925.5 301,925.5 301,991.1 281.1,991.1" fill="#3258BE"/>
</g>
<clipPath id="kb3"><rect x="320.6" y="538.4" width="42.4" height="447.7"/></clipPath>
<g clip-path="url(#kb3)">
<rect x="319.1" y="538.4" width="45.4" height="450.7" fill="#FF1E00"/>
<polygon points="318.1,545.5 322.1,545.5 332.7,541.4 361.5,536.9 365.5,536.9 365.5,991.1 318.1,991.1" fill="#FF5F00"/>
<polygon points="318.1,562 322.1,562 335.3,563 348.5,558.7 361.5,555.1 365.5,555.1 365.5,991.1 318.1,991.1" fill="#FFA000"/>
<polygon points="318.1,573.2 322.1,573.2 335.3,573.6 348.5,569.3 361.5,565.3 365.5,565.3 365.5,991.1 318.1,991.1" fill="#FFE100"/>
<polygon points="318.1,584.4 322.1,584.4 335.3,585.1 348.5,581.1 361.5,577.8 365.5,577.8 365.5,991.1 318.1,991.1" fill="#E1F50F"/>
<polygon points="318.1,597 322.1,597 335.3,597 348.5,593.7 361.5,591.7 365.5,591.7 365.5,991.1 318.1,991.1" fill="#B4E614"/>
<polygon points="318.1,614.2 322.1,614.2 335.3,612.8 348.5,609.3 361.5,608 365.5,608 365.5,991.1 318.1,991.1" fill="#82D21E"/>
<polygon points="318.1,632.7 322.1,632.7 335.3,630.7 348.5,629.1 361.5,627 365.5,627 365.5,991.1 318.1,991.1" fill="#55BE32"/>
<polygon points="318.1,661.7 322.1,661.7 335.3,660 348.5,660 361.5,658.2 365.5,658.2 365.5,991.1 318.1,991.1" fill="#28AA3C"/>
<polygon points="318.1,721.1 322.2,721.1 336.1,718.9 349.4,716.5 361.6,710.9 365.5,710.9 365.5,991.1 318.1,991.1" fill="#05915A"/>
<polygon points="318.1,808.9 322.2,808.9 336.1,805.2 349.4,800.6 361.6,795.4 365.5,795.4 365.5,991.1 318.1,991.1" fill="#1E7387"/>
<polygon points="318.1,930.1 322.2,930.1 336.1,931.6 349.4,930.1 361.6,926.8 365.5,926.8 365.5,991.1 318.1,991.1" fill="#3258BE"/>
</g>
<clipPath id="kb4"><rect x="386" y="533.8" width="42.6" height="452.3"/></clipPath>
<g clip-path="url(#kb4)">
<rect x="384.5" y="533.8" width="45.6" height="455.3" fill="#FF1E00"/>
<polygon points="383.5,532.9 387.5,532.9 393.4,537.2 400.7,542.2 414.6,542.8 427.1,541.9 431.1,541.9 431.1,991.1 383.5,991.1" fill="#FF5F00"/>
<polygon points="383.5,550.4 387.5,550.4 400.7,553 414.6,550.8 427.1,550.1 431.1,550.1 431.1,991.1 383.5,991.1" fill="#FFA000"/>
<polygon points="383.5,559.6 387.5,559.6 400.7,562.6 414.6,559.3 427.1,559.1 431.1,559.1 431.1,991.1 383.5,991.1" fill="#FFE100"/>
<polygon points="383.5,571.2 387.5,571.2 400.7,573.9 414.6,571.5 427.1,571 431.1,571 431.1,991.1 383.5,991.1" fill="#E1F50F"/>
<polygon points="383.5,586.8 387.5,586.8 400.7,587.7 414.6,586.8 427.1,586 431.1,586 431.1,991.1 383.5,991.1" fill="#B4E614"/>
<polygon points="383.5,604.9 387.5,604.9 400.7,604.9 414.6,602.3 427.1,603.2 431.1,603.2 431.1,991.1 383.5,991.1" fill="#82D21E"/>
<polygon points="383.5,627 387.5,627 400.7,626.5 414.6,623 427.1,627.4 431.1,627.4 431.1,991.1 383.5,991.1" fill="#55BE32"/>
<polygon points="383.5,658.2 387.5,658.2 400.7,658.2 414.6,653.4 427.1,656.8 431.1,656.8 431.1,991.1 383.5,991.1" fill="#28AA3C"/>
<polygon points="383.5,713.3 387.5,713.3 400.8,714.6 415.3,709.1 427.1,704.5 431.1,704.5 431.1,991.1 383.5,991.1" fill="#05915A"/>
<polygon points="383.5,806.5 387.5,806.5 400.8,808 415.3,803.9 427.1,803.4 431.1,803.4 431.1,991.1 383.5,991.1" fill="#1E7387"/>
<polygon points="383.5,935.6 387.5,935.6 400.8,938 415.3,931 427.1,930.1 431.1,930.1 431.1,991.1 383.5,991.1" fill="#3258BE"/>
</g>
<clipPath id="kb5"><rect x="464.8" y="533.8" width="108.6" height="452.3"/></clipPath>
<g clip-path="url(#kb5)">
<rect x="463.3" y="533.8" width="111.6" height="455.3" fill="#FF1E00"/>
<polygon points="462.3,557 466.3,557 505.8,557 519,554.3 532.3,548.1 546.1,546.8 559.3,557 571.9,556 575.9,556 575.9,991.1 462.3,991.1" fill="#FF5F00"/>
<polygon points="462.3,565.7 466.3,565.7 505.8,565.7 519,562.6 532.3,560 546.1,557.4 559.3,562.3 571.9,563.3 575.9,563.3 575.9,991.1 462.3,991.1" fill="#FFA000"/>
<polygon points="462.3,576.3 466.3,576.3 505.8,576.3 519,571.9 532.3,568.3 546.1,565.3 559.3,569.3 571.9,570.6 575.9,570.6 575.9,991.1 462.3,991.1" fill="#FFE100"/>
<polygon points="462.3,587.1 466.3,587.1 505.8,587.1 519,583.1 532.3,581.8 546.1,577.2 559.3,579.2 571.9,581.1 575.9,581.1 575.9,991.1 462.3,991.1" fill="#E1F50F"/>
<polygon points="462.3,598.7 466.3,598.7 505.8,598.7 519,595.3 532.3,595 546.1,590.4 559.3,591.3 571.9,593 575.9,593 575.9,991.1 462.3,991.1" fill="#B4E614"/>
<polygon points="462.3,612.2 466.3,612.2 505.8,612.2 519,608.2 532.3,609.3 546.1,604 559.3,605.3 571.9,608.2 575.9,608.2 575.9,991.1 462.3,991.1" fill="#82D21E"/>
<polygon points="462.3,623.4 466.3,623.4 479.4,628.7 492.6,633.3 505.8,630.7 519,625.1 532.3,627 546.1,622.8 559.3,623.4 571.9,626.1 575.9,626.1 575.9,991.1 462.3,991.1" fill="#55BE32"/>
<polygon points="462.3,658.2 466.3,658.2 479.4,663 492.6,667.4 505.8,664.4 519,658.2 532.3,661.1 546.1,657.5 559.3,657.5 571.9,660.8 575.9,660.8 575.9,991.1 462.3,991.1" fill="#28AA3C"/>
<polygon points="462.3,715.2 466.5,715.2 480,720.7 492.7,724.8 506.2,719.6 519.2,714.6 532.1,717.8 546,714.1 559,711.5 571.9,710.9 575.9,710.9 575.9,991.1 462.3,991.1" fill="#05915A"/>
<polygon points="462.3,815.4 466.5,815.4 480,820.6 492.7,822.8 506.2,815.8 519.2,812.1 532.1,812.6 546,809.5 559,806.2 571.9,802.5 575.9,802.5 575.9,991.1 462.3,991.1" fill="#1E7387"/>
<polygon points="462.3,945.8 466.5,945.8 480,950.1 492.7,951.3 506.2,942.1 519.2,940.8 532.1,938.4 546,935.6 559,937.5 571.9,936 575.9,936 575.9,991.1 462.3,991.1" fill="#3258BE"/>
</g>
<clipPath id="kb6"><rect x="596.5" y="533.8" width="17.4" height="452.3"/></clipPath>
<g clip-path="url(#kb6)">
<rect x="595" y="533.8" width="20.4" height="455.3" fill="#FF1E00"/>
<polygon points="594,555.1 598,555.1 612.6,556.4 616.4,556.4 616.4,991.1 594,991.1" fill="#FF5F00"/>
<polygon points="594,561.7 598,561.7 612.6,562.6 616.4,562.6 616.4,991.1 594,991.1" fill="#FFA000"/>
<polygon points="594,569.6 598,569.6 612.6,570.2 616.4,570.2 616.4,991.1 594,991.1" fill="#FFE100"/>
<polygon points="594,581.5 598,581.5 612.6,582.1 616.4,582.1 616.4,991.1 594,991.1" fill="#E1F50F"/>
<polygon points="594,595.3 598,595.3 612.6,595 616.4,595 616.4,991.1 594,991.1" fill="#B4E614"/>
<polygon points="594,610.6 598,610.6 612.6,610.2 616.4,610.2 616.4,991.1 594,991.1" fill="#82D21E"/>
<polygon points="594,630 598,630 612.6,629.8 616.4,629.8 616.4,991.1 594,991.1" fill="#55BE32"/>
<polygon points="594,662.8 598,662.8 612.6,662.8 616.4,662.8 616.4,991.1 594,991.1" fill="#28AA3C"/>
<polygon points="594,711.8 597.8,711.8 612.2,713.3 616.4,713.3 616.4,991.1 594,991.1" fill="#05915A"/>
<polygon points="594,801 597.8,801 612.2,803.9 616.4,803.9 616.4,991.1 594,991.1" fill="#1E7387"/>
<polygon points="594,935.6 597.8,935.6 612.2,936 616.4,936 616.4,991.1 594,991.1" fill="#3258BE"/>
</g>
<clipPath id="kb7"><rect x="689.7" y="533.8" width="67.6" height="452.3"/></clipPath>
<g clip-path="url(#kb7)">
<rect x="688.2" y="533.8" width="70.6" height="455.3" fill="#FF1E00"/>
<polygon points="687.2,532.9 691.2,532.9 705.7,532.9 707,537.2 709.7,544.8 716.3,551.7 729.5,552.7 742.7,553.4 755.9,554.3 759.8,554.3 759.8,991.1 687.2,991.1" fill="#FF5F00"/>
<polygon points="687.2,575.5 691.2,575.5 704.4,569.9 716.3,570.6 755.9,570.2 759.8,570.2 759.8,991.1 687.2,991.1" fill="#FFA000"/>
<polygon points="687.2,583.8 691.2,583.8 704.4,576.8 716.3,579.2 755.9,578.5 759.8,578.5 759.8,991.1 687.2,991.1" fill="#FFE100"/>
<polygon points="687.2,590 691.2,590 704.4,583.4 716.3,585.5 755.9,584.7 759.8,584.7 759.8,991.1 687.2,991.1" fill="#E1F50F"/>
<polygon points="687.2,600.3 691.2,600.3 704.4,591.7 716.3,593.7 755.9,592.1 759.8,592.1 759.8,991.1 687.2,991.1" fill="#B4E614"/>
<polygon points="687.2,614.6 691.2,614.6 704.4,604.3 716.3,606.9 755.9,604.5 759.8,604.5 759.8,991.1 687.2,991.1" fill="#82D21E"/>
<polygon points="687.2,633.3 691.2,633.3 704.4,626.1 716.3,626.1 755.9,623.8 759.8,623.8 759.8,991.1 687.2,991.1" fill="#55BE32"/>
<polygon points="687.2,660 691.2,660 704.4,654.9 716.3,656.8 755.9,653.4 759.8,653.4 759.8,991.1 687.2,991.1" fill="#28AA3C"/>
<polygon points="687.2,708.9 691.2,708.9 704.7,703.5 716.7,708.9 755.5,703.5 759.8,703.5 759.8,991.1 687.2,991.1" fill="#05915A"/>
<polygon points="687.2,796.9 691.2,796.9 704.7,792.9 716.7,801.5 730.6,799.1 743.5,796.9 755.5,795.1 759.8,795.1 759.8,991.1 687.2,991.1" fill="#1E7387"/>
<polygon points="687.2,924.9 691.2,924.9 704.7,922.3 716.7,939 730.6,935.6 743.5,932.5 755.5,929.7 759.8,929.7 759.8,991.1 687.2,991.1" fill="#3258BE"/>
</g>
<clipPath id="kb8"><rect x="807.9" y="533.8" width="42.6" height="452.3"/></clipPath>
<g clip-path="url(#kb8)">
<rect x="806.4" y="533.8" width="45.6" height="455.3" fill="#FF1E00"/>
<polygon points="805.4,546.1 809.4,546.1 821.2,542.8 835.4,542.8 849,544.2 853,544.2 853,991.1 805.4,991.1" fill="#FF5F00"/>
<polygon points="805.4,555.4 809.4,555.4 821.2,551.2 835.4,549.8 849,552.7 853,552.7 853,991.1 805.4,991.1" fill="#FFA000"/>
<polygon points="805.4,561.7 809.4,561.7 821.2,558 835.4,557.4 849,560 853,560 853,991.1 805.4,991.1" fill="#FFE100"/>
<polygon points="805.4,568.9 809.4,568.9 821.2,566.2 835.4,566.2 849,567.5 853,567.5 853,991.1 805.4,991.1" fill="#E1F50F"/>
<polygon points="805.4,579.8 809.4,579.8 821.2,577.2 835.4,578.1 849,581.5 853,581.5 853,991.1 805.4,991.1" fill="#B4E614"/>
<polygon points="805.4,593 809.4,593 821.2,590.4 835.4,593 849,598.3 853,598.3 853,991.1 805.4,991.1" fill="#82D21E"/>
<polygon points="805.4,612.2 809.4,612.2 821.2,610.6 835.4,616.8 849,623.4 853,623.4 853,991.1 805.4,991.1" fill="#55BE32"/>
<polygon points="805.4,643 809.4,643 821.2,643.2 835.4,651.8 849,658.7 853,658.7 853,991.1 805.4,991.1" fill="#28AA3C"/>
<polygon points="805.4,697.1 809.5,697.1 822.1,700.8 835,710 848.9,717 853,717 853,991.1 805.4,991.1" fill="#05915A"/>
<polygon points="805.4,799.1 809.5,799.1 822.1,804.3 835,810.8 848.9,816.9 853,816.9 853,991.1 805.4,991.1" fill="#1E7387"/>
<polygon points="805.4,937.5 809.5,937.5 822.1,943.4 835,946.7 848.9,950.4 853,950.4 853,991.1 805.4,991.1" fill="#3258BE"/>
</g>
<clipPath id="kb9"><rect x="873.5" y="533.8" width="134.8" height="452.3"/></clipPath>
<g clip-path="url(#kb9)">
<rect x="872" y="533.8" width="137.8" height="455.3" fill="#FF1E00"/>
<polygon points="871,550.1 875,550.1 886.9,549.8 900.1,546.8 913.1,544.2 927.6,543.8 939.5,544.2 952.4,544.8 965.2,547.7 978.8,552.1 993,554.3 1006.8,556 1010.8,556 1010.8,991.1 871,991.1" fill="#FF5F00"/>
<polygon points="871,558 875,558 886.9,557.4 900.1,553.4 913.1,550.1 927.6,549 939.5,549.4 952.4,549.8 965.2,553.8 978.8,559.6 993,560.7 1006.8,561.7 1010.8,561.7 1010.8,991.1 871,991.1" fill="#FFA000"/>
<polygon points="871,564.9 875,564.9 886.9,563.6 900.1,561.3 913.1,557 927.6,555.1 939.5,555.4 952.4,556.7 965.2,560.4 978.8,565.3 993,566.2 1006.8,567.5 1010.8,567.5 1010.8,991.1 871,991.1" fill="#FFE100"/>
<polygon points="871,572.6 875,572.6 886.9,571.5 900.1,569.3 913.1,566.6 927.6,566.6 939.5,567.5 952.4,569.9 965.2,572.8 978.8,575.9 993,577.2 1006.8,579.4 1010.8,579.4 1010.8,991.1 871,991.1" fill="#E1F50F"/>
<polygon points="871,582.1 875,582.1 886.9,581.8 900.1,581.5 915.7,577.8 927.6,580.5 939.5,583.8 952.4,586.8 965.2,589.1 978.8,592.6 993,594 1006.8,595.3 1010.8,595.3 1010.8,991.1 871,991.1" fill="#B4E614"/>
<polygon points="871,595 875,595 886.9,595 900.1,597.7 918.3,599.6 928.9,605.6 939.5,608 952.4,610.9 965.2,614.2 978.8,616.8 993,616.4 1006.8,615.5 1010.8,615.5 1010.8,991.1 871,991.1" fill="#82D21E"/>
<polygon points="871,614.6 875,614.6 886.9,614.8 900.1,622.1 915.7,627.4 928.9,637.3 939.5,639.7 952.4,642.3 965.2,646.5 978.8,648.8 993,647.6 1006.8,646.1 1010.8,646.1 1010.8,991.1 871,991.1" fill="#55BE32"/>
<polygon points="871,644.9 875,644.9 886.9,644.9 900.1,653.1 915.7,660.4 923.6,667.7 928.9,676.3 939.5,680.9 952.4,686.2 965.2,688.8 978.8,688.8 993,685.9 1006.8,682.9 1010.8,682.9 1010.8,991.1 871,991.1" fill="#28AA3C"/>
<polygon points="871,697.1 875.4,697.1 886.8,698 900.7,710 915.5,719.2 929.4,733.7 952.5,740 979.3,740 1006.7,731.8 1010.8,731.8 1010.8,991.1 871,991.1" fill="#05915A"/>
<polygon points="871,800.3 875.4,800.3 886.8,802.5 900.7,813.6 915.5,818.2 929.4,827.4 952.5,825 979.3,826.9 1006.7,823.2 1010.8,823.2 1010.8,991.1 871,991.1" fill="#1E7387"/>
<polygon points="871,935.6 875.4,935.6 886.8,938 900.7,948.6 915.9,952.6 965.8,953.2 979.3,951.9 1006.7,941.2 1010.8,941.2 1010.8,991.1 871,991.1" fill="#3258BE"/>
</g>
<clipPath id="kb10"><rect x="1043.2" y="533.8" width="43.8" height="406.7"/></clipPath>
<g clip-path="url(#kb10)">
<rect x="1041.7" y="533.8" width="46.8" height="409.7" fill="#FF1E00"/>
<polygon points="1040.7,554.1 1044.7,554.1 1058.3,554.1 1072.2,553.8 1085.4,552.7 1089.5,552.7 1089.5,945.5 1040.7,945.5" fill="#FF5F00"/>
<polygon points="1040.7,560.9 1044.7,560.9 1058.3,560.7 1072.2,560 1085.4,560 1089.5,560 1089.5,945.5 1040.7,945.5" fill="#FFA000"/>
<polygon points="1040.7,567 1044.7,567 1058.3,566.2 1072.2,565.3 1085.4,566 1089.5,566 1089.5,945.5 1040.7,945.5" fill="#FFE100"/>
<polygon points="1040.7,575.2 1044.7,575.2 1058.3,574.9 1072.2,573.9 1085.4,574.5 1089.5,574.5 1089.5,945.5 1040.7,945.5" fill="#E1F50F"/>
<polygon points="1040.7,589.1 1044.7,589.1 1058.3,589.1 1072.2,588.1 1085.4,587.1 1089.5,587.1 1089.5,945.5 1040.7,945.5" fill="#B4E614"/>
<polygon points="1040.7,607.2 1044.7,607.2 1058.3,608.9 1072.2,607.6 1085.4,605.8 1089.5,605.8 1089.5,945.5 1040.7,945.5" fill="#82D21E"/>
<polygon points="1040.7,632.3 1044.7,632.3 1058.3,634 1072.2,633.1 1085.4,632 1089.5,632 1089.5,945.5 1040.7,945.5" fill="#55BE32"/>
<polygon points="1040.7,673 1044.7,673 1058.3,671.9 1072.2,668.3 1085.4,668.7 1089.5,668.7 1089.5,945.5 1040.7,945.5" fill="#28AA3C"/>
<polygon points="1040.7,728.1 1044.6,728.1 1058.1,727.9 1072.3,723.3 1085.6,726.3 1089.5,726.3 1089.5,945.5 1040.7,945.5" fill="#05915A"/>
<polygon points="1040.7,818.2 1044.6,818.2 1058.1,818.2 1072.3,819.5 1085.6,819.1 1089.5,819.1 1089.5,945.5 1040.7,945.5" fill="#1E7387"/>
<polygon points="1040.7,940.4 1044.6,940.4 1085.6,941.5 1089.5,941.5 1089.5,945.5 1040.7,945.5" fill="#3258BE"/>
</g>
<clipPath id="kb11"><rect x="1110" y="533.8" width="54.4" height="452.3"/></clipPath>
<g clip-path="url(#kb11)">
<rect x="1108.5" y="533.8" width="57.4" height="455.3" fill="#FF1E00"/>
<polygon points="1107.5,555.6 1111.5,555.6 1123.7,556.7 1138,555.6 1150.1,555.4 1158,555.1 1162.9,550.1 1166.9,550.1 1166.9,991.1 1107.5,991.1" fill="#FF5F00"/>
<polygon points="1107.5,562.3 1111.5,562.3 1123.7,562 1138,562.3 1150.1,563 1162.9,560 1166.9,560 1166.9,991.1 1107.5,991.1" fill="#FFA000"/>
<polygon points="1107.5,567.9 1111.5,567.9 1123.7,567.5 1138,568.9 1150.1,569.6 1162.9,566 1166.9,566 1166.9,991.1 1107.5,991.1" fill="#FFE100"/>
<polygon points="1107.5,575.9 1111.5,575.9 1123.7,575.5 1138,576.3 1150.1,575.9 1162.9,573.9 1166.9,573.9 1166.9,991.1 1107.5,991.1" fill="#E1F50F"/>
<polygon points="1107.5,588.1 1111.5,588.1 1123.7,588.4 1138,588.4 1150.1,588.1 1162.9,587.1 1166.9,587.1 1166.9,991.1 1107.5,991.1" fill="#B4E614"/>
<polygon points="1107.5,606.9 1111.5,606.9 1123.7,605.8 1138,605.6 1150.1,606.9 1162.9,605.8 1166.9,605.8 1166.9,991.1 1107.5,991.1" fill="#82D21E"/>
<polygon points="1107.5,630.7 1111.5,630.7 1123.7,630.7 1138,631.1 1150.1,631.7 1162.9,632 1166.9,632 1166.9,991.1 1107.5,991.1" fill="#55BE32"/>
<polygon points="1107.5,670 1111.5,670 1123.7,674.9 1138,670.3 1150.1,670 1162.9,670.7 1166.9,670.7 1166.9,991.1 1107.5,991.1" fill="#28AA3C"/>
<polygon points="1107.5,728.5 1111.5,728.5 1123.5,731.3 1138,725.7 1150,722.9 1162.9,724.8 1166.9,724.8 1166.9,991.1 1107.5,991.1" fill="#05915A"/>
<polygon points="1107.5,815.8 1111.5,815.8 1123.5,815.4 1138,810.2 1150,805.8 1162.9,807.6 1166.9,807.6 1166.9,991.1 1107.5,991.1" fill="#1E7387"/>
<polygon points="1107.5,937.8 1111.5,937.8 1123.5,933.2 1138,932.5 1150,928.2 1162.9,928.6 1166.9,928.6 1166.9,991.1 1107.5,991.1" fill="#3258BE"/>
</g>
<clipPath id="kb12"><rect x="1254.7" y="533.8" width="67.5" height="452.3"/></clipPath>
<g clip-path="url(#kb12)">
<rect x="1253.2" y="533.8" width="70.5" height="455.3" fill="#FF1E00"/>
<polygon points="1252.2,551.7 1256.2,551.7 1269.4,549 1281.6,547.7 1295.4,545.5 1307.7,544.8 1320.7,548.5 1324.7,548.5 1324.7,991.1 1252.2,991.1" fill="#FF5F00"/>
<polygon points="1252.2,559.6 1256.2,559.6 1269.4,556.4 1281.6,555.1 1295.4,553.4 1307.7,552.1 1320.7,556 1324.7,556 1324.7,991.1 1252.2,991.1" fill="#FFA000"/>
<polygon points="1252.2,566.2 1256.2,566.2 1269.4,564 1281.6,562.6 1295.4,560.9 1307.7,559.1 1320.7,563.3 1324.7,563.3 1324.7,991.1 1252.2,991.1" fill="#FFE100"/>
<polygon points="1252.2,575.9 1256.2,575.9 1269.4,572.6 1281.6,571.2 1295.4,570.6 1307.7,570.2 1320.7,572.3 1324.7,572.3 1324.7,991.1 1252.2,991.1" fill="#E1F50F"/>
<polygon points="1252.2,589.1 1256.2,589.1 1269.4,585.1 1281.6,583.1 1295.4,586 1307.7,586.8 1320.7,587.7 1324.7,587.7 1324.7,991.1 1252.2,991.1" fill="#B4E614"/>
<polygon points="1252.2,607.2 1256.2,607.2 1269.4,604.3 1281.6,602.9 1295.4,604 1307.7,604 1320.7,605.6 1324.7,605.6 1324.7,991.1 1252.2,991.1" fill="#82D21E"/>
<polygon points="1252.2,630.9 1256.2,630.9 1269.4,628.7 1281.6,627.8 1295.4,626.7 1307.7,626.7 1320.7,628.3 1324.7,628.3 1324.7,991.1 1252.2,991.1" fill="#55BE32"/>
<polygon points="1252.2,668.3 1256.2,668.3 1269.4,667.4 1281.6,667 1295.4,666.6 1307.7,668.3 1320.7,669 1324.7,669 1324.7,991.1 1252.2,991.1" fill="#28AA3C"/>
<polygon points="1252.2,723.5 1256.3,723.5 1269.3,721.5 1281.8,723.9 1295.2,722.6 1307.7,725.7 1320.5,726.3 1324.7,726.3 1324.7,991.1 1252.2,991.1" fill="#05915A"/>
<polygon points="1252.2,810.2 1256.3,810.2 1269.3,808.9 1281.8,809.5 1295.2,808.9 1307.7,812.6 1320.5,813.9 1324.7,813.9 1324.7,991.1 1252.2,991.1" fill="#1E7387"/>
<polygon points="1252.2,933.8 1256.3,933.8 1269.3,932.5 1281.8,931.9 1295.2,932.9 1307.7,937.1 1320.5,940.3 1324.7,940.3 1324.7,991.1 1252.2,991.1" fill="#3258BE"/>
</g>
<clipPath id="kb13"><rect x="1358.6" y="533.8" width="43.6" height="452.3"/></clipPath>
<g clip-path="url(#kb13)">
<rect x="1357.1" y="533.8" width="46.6" height="455.3" fill="#FF1E00"/>
<polygon points="1356.1,548.1 1360.1,548.1 1372.7,546.8 1386.5,546.8 1400.7,548.1 1404.7,548.1 1404.7,991.1 1356.1,991.1" fill="#FF5F00"/>
<polygon points="1356.1,556.4 1360.1,556.4 1372.7,555.1 1386.5,556 1400.7,559.3 1404.7,559.3 1404.7,991.1 1356.1,991.1" fill="#FFA000"/>
<polygon points="1356.1,563.3 1360.1,563.3 1372.7,563.3 1386.5,564.4 1400.7,568.9 1404.7,568.9 1404.7,991.1 1356.1,991.1" fill="#FFE100"/>
<polygon points="1356.1,573.2 1360.1,573.2 1372.7,574.1 1386.5,575.9 1400.7,580.5 1404.7,580.5 1404.7,991.1 1356.1,991.1" fill="#E1F50F"/>
<polygon points="1356.1,588.1 1360.1,588.1 1372.7,589.7 1386.5,592.4 1400.7,596.3 1404.7,596.3 1404.7,991.1 1356.1,991.1" fill="#B4E614"/>
<polygon points="1356.1,606.9 1360.1,606.9 1372.7,608.5 1386.5,610.9 1400.7,614.8 1404.7,614.8 1404.7,991.1 1356.1,991.1" fill="#82D21E"/>
<polygon points="1356.1,633.1 1360.1,633.1 1372.7,633.1 1386.5,634.4 1400.7,638.9 1404.7,638.9 1404.7,991.1 1356.1,991.1" fill="#55BE32"/>
<polygon points="1356.1,668.3 1360.1,668.3 1372.7,668.3 1386.5,670.3 1400.7,675.6 1404.7,675.6 1404.7,991.1 1356.1,991.1" fill="#28AA3C"/>
<polygon points="1356.1,722 1359.9,722 1372.8,723.3 1386.3,725.7 1400.6,729 1404.7,729 1404.7,991.1 1356.1,991.1" fill="#05915A"/>
<polygon points="1356.1,814.5 1359.9,814.5 1372.8,816.9 1386.3,817.8 1400.6,818.2 1404.7,818.2 1404.7,991.1 1356.1,991.1" fill="#1E7387"/>
<polygon points="1356.1,945.8 1359.9,945.8 1372.8,947.6 1386.3,948.9 1400.6,945.2 1404.7,945.2 1404.7,991.1 1356.1,991.1" fill="#3258BE"/>
</g>
<clipPath id="kb14"><rect x="1424" y="533.8" width="68.9" height="452.3"/></clipPath>
<g clip-path="url(#kb14)">
<rect x="1422.5" y="533.8" width="71.9" height="455.3" fill="#FF1E00"/>
<polygon points="1421.5,549 1425.5,549 1438.7,554.3 1451.9,558.7 1465.1,562 1479.7,559.1 1491.3,558 1495.4,558 1495.4,991.1 1421.5,991.1" fill="#FF5F00"/>
<polygon points="1421.5,560 1425.5,560 1438.7,564.6 1451.9,568.3 1465.1,571.2 1479.7,568.3 1491.3,569.3 1495.4,569.3 1495.4,991.1 1421.5,991.1" fill="#FFA000"/>
<polygon points="1421.5,569.3 1425.5,569.3 1438.7,572.8 1451.9,576.5 1465.1,577.8 1479.7,575.9 1491.3,575.2 1495.4,575.2 1495.4,991.1 1421.5,991.1" fill="#FFE100"/>
<polygon points="1421.5,582.1 1425.5,582.1 1438.7,584.7 1451.9,587.1 1465.1,588.7 1479.7,586 1491.3,583.1 1495.4,583.1 1495.4,991.1 1421.5,991.1" fill="#E1F50F"/>
<polygon points="1421.5,600.6 1425.5,600.6 1438.7,600.3 1451.9,600 1465.1,601.9 1479.7,597.9 1491.3,594 1495.4,594 1495.4,991.1 1421.5,991.1" fill="#B4E614"/>
<polygon points="1421.5,618.5 1425.5,618.5 1438.7,617.5 1451.9,616.8 1465.1,619.8 1479.7,614.8 1491.3,608.9 1495.4,608.9 1495.4,991.1 1421.5,991.1" fill="#82D21E"/>
<polygon points="1421.5,642.6 1425.5,642.6 1438.7,639.3 1451.9,636 1465.1,642.3 1479.7,638.6 1491.3,630.4 1495.4,630.4 1495.4,991.1 1421.5,991.1" fill="#55BE32"/>
<polygon points="1421.5,678 1425.5,678 1438.7,673 1451.9,668.3 1465.1,676 1479.7,672.3 1491.3,661.1 1495.4,661.1 1495.4,991.1 1421.5,991.1" fill="#28AA3C"/>
<polygon points="1421.5,729.3 1425.7,729.3 1439.5,729.8 1452.4,729.3 1466.2,727.2 1479.1,721.7 1491.6,714.3 1495.4,714.3 1495.4,991.1 1421.5,991.1" fill="#05915A"/>
<polygon points="1421.5,819.5 1425.7,819.5 1439.5,820.9 1452.4,822.6 1466.2,813.4 1479.1,805.2 1491.6,803.4 1495.4,803.4 1495.4,991.1 1421.5,991.1" fill="#1E7387"/>
<polygon points="1421.5,945.3 1425.7,945.3 1439.5,946.7 1452.4,947.9 1466.2,939.3 1479.1,932.4 1491.6,934.5 1495.4,934.5 1495.4,991.1 1421.5,991.1" fill="#3258BE"/>
</g>
<clipPath id="kb15"><rect x="1516.1" y="533.8" width="29.2" height="452.3"/></clipPath>
<g clip-path="url(#kb15)">
<rect x="1514.6" y="533.8" width="32.2" height="455.3" fill="#FF1E00"/>
<polygon points="1513.6,555.6 1517.6,555.6 1531.8,556.7 1543.7,557 1547.8,557 1547.8,991.1 1513.6,991.1" fill="#FF5F00"/>
<polygon points="1513.6,568.9 1517.6,568.9 1531.8,569.6 1543.7,568.9 1547.8,568.9 1547.8,991.1 1513.6,991.1" fill="#FFA000"/>
<polygon points="1513.6,575.5 1517.6,575.5 1531.8,576.5 1543.7,575.2 1547.8,575.2 1547.8,991.1 1513.6,991.1" fill="#FFE100"/>
<polygon points="1513.6,583.8 1517.6,583.8 1531.8,585.1 1543.7,583.1 1547.8,583.1 1547.8,991.1 1513.6,991.1" fill="#E1F50F"/>
<polygon points="1513.6,595.3 1517.6,595.3 1531.8,596.3 1543.7,593.4 1547.8,593.4 1547.8,991.1 1513.6,991.1" fill="#B4E614"/>
<polygon points="1513.6,610.2 1517.6,610.2 1531.8,611.5 1543.7,608.2 1547.8,608.2 1547.8,991.1 1513.6,991.1" fill="#82D21E"/>
<polygon points="1513.6,631.1 1517.6,631.1 1531.8,630.7 1543.7,629.4 1547.8,629.4 1547.8,991.1 1513.6,991.1" fill="#55BE32"/>
<polygon points="1513.6,661.7 1517.6,661.7 1531.8,660.8 1543.7,660.8 1547.8,660.8 1547.8,991.1 1513.6,991.1" fill="#28AA3C"/>
<polygon points="1513.6,713.8 1517.6,713.8 1532.1,712.6 1543.8,716.9 1547.8,716.9 1547.8,991.1 1513.6,991.1" fill="#05915A"/>
<polygon points="1513.6,800.5 1517.6,800.5 1532.1,799.3 1543.8,804.8 1547.8,804.8 1547.8,991.1 1513.6,991.1" fill="#1E7387"/>
<polygon points="1513.6,932.4 1517.6,932.4 1532.1,929.3 1543.8,937.2 1547.8,937.2 1547.8,991.1 1513.6,991.1" fill="#3258BE"/>
</g>
<path d="M146 541.4H1586.3 M146 545.9H1586.3 M146 555H1586.3 M146 566.3H1586.3 M146 577.7H1586.3 M146 589H1586.3 M146 600.3H1586.3 M146 623H1586.3 M146 645.7H1586.3 M146 668.4H1586.3 M146 713.7H1586.3 M146 759.1H1586.3 M146 804.5H1586.3 M146 849.8H1586.3 M146 895.2H1586.3 M146 940.5H1586.3 M231.2 532.3V985.9 M349.2 532.3V985.9 M415.2 532.3V985.9 M546.1 532.3V985.9 M704.4 532.3V985.9 M716.3 532.3V985.9 M821.2 532.3V985.9 M835.4 532.3V985.9 M952.4 532.3V985.9 M1072.2 532.3V985.9 M1123.7 532.3V985.9 M1269.4 532.3V985.9 M1281.6 532.3V985.9 M1295.4 532.3V985.9 M1307.7 532.3V985.9 M1386.5 532.3V985.9 M1479.7 532.3V985.9" stroke="#fff" stroke-opacity="0.11" stroke-width="1" fill="none"/>
<rect x="146" y="532.3" width="57.9" height="453.6" fill="#fff"/>
<rect x="258" y="532.3" width="27.1" height="453.6" fill="#fff"/>
<rect x="297" y="532.3" width="25.1" height="453.6" fill="#fff"/>
<rect x="361.5" y="532.3" width="26" height="453.6" fill="#fff"/>
<rect x="427.1" y="532.3" width="39.2" height="453.6" fill="#fff"/>
<rect x="571.9" y="532.3" width="26.1" height="453.6" fill="#fff"/>
<rect x="612.4" y="532.3" width="78.8" height="453.6" fill="#fff"/>
<rect x="755.8" y="532.3" width="53.6" height="453.6" fill="#fff"/>
<rect x="849" y="532.3" width="26" height="453.6" fill="#fff"/>
<rect x="1006.8" y="532.3" width="37.9" height="453.6" fill="#fff"/>
<rect x="1085.5" y="532.3" width="26" height="453.6" fill="#fff"/>
<rect x="1162.9" y="532.3" width="93.3" height="453.6" fill="#fff"/>
<rect x="1320.7" y="532.3" width="39.4" height="453.6" fill="#fff"/>
<rect x="1400.7" y="532.3" width="24.8" height="453.6" fill="#fff"/>
<rect x="1491.4" y="532.3" width="26.2" height="453.6" fill="#fff"/>
<rect x="1543.8" y="532.3" width="42.5" height="453.6" fill="#fff"/>
<rect x="146" y="532.3" width="1440.3" height="4.5" fill="#fff"/>
<rect x="321.1" y="532.3" width="41.4" height="9.1" fill="#fff"/>
<rect x="321.1" y="940.5" width="14.2" height="45.4" fill="#fff"/>
<rect x="465.3" y="532.3" width="40.5" height="90.5" fill="#fff"/>
<rect x="874" y="532.3" width="41.7" height="9.1" fill="#fff"/>
<rect x="929.2" y="532.3" width="49.6" height="9.1" fill="#fff"/>
<rect x="915.9" y="850" width="49.9" height="135.9" fill="#fff"/>
<rect x="1043.7" y="940.5" width="42.8" height="45.4" fill="#fff"/>
<rect x="1532.1" y="940.5" width="12.7" height="45.4" fill="#fff"/>
<clipPath id="kc1t"><rect x="202.4" y="1054.8" width="57.1" height="185.2"/></clipPath>
<clipPath id="kc1b"><rect x="202.4" y="1240" width="57.1" height="267.1"/></clipPath>
<g clip-path="url(#kc1t)">
<rect x="200.9" y="1054.8" width="60.1" height="187.2" fill="#E60000"/>
<polygon points="203.9,1074.4 213.8,1075.7 225.7,1077 228.3,1088.3 229.6,1098.8 215.1,1110.1 224.3,1121.3 225.7,1143.8 213.8,1163.6 208.5,1175.5 203.9,1188.7 199.9,1188.7 199.9,1074.4" fill="#960000"/>
<polygon points="258,1104.1 250.8,1114.7 248.1,1121.3 249.4,1151.7 252.1,1164.9 258,1191.3 262,1191.3 262,1104.1" fill="#960000"/>
<polygon points="203.9,1057.9 199.9,1053.8 262,1053.8 258,1057.9 262,1053.8 262,1100.2 258,1100.2 245.5,1114.7 238.9,1098.8 244.8,1087 231.2,1082.3 225.7,1076.1 216.4,1074.4 203.9,1073.1 199.9,1073.1 199.9,1053.8" fill="#FF3C00"/>
<polygon points="203.9,1057.9 199.9,1053.8 262,1053.8 258,1057.9 262,1053.8 262,1074.4 258,1074.4 245.5,1081.7 231.2,1077.7 216.4,1072.4 203.9,1071.8 199.9,1071.8 199.9,1053.8" fill="#FF8C00"/>
<polygon points="203.9,1057.9 199.9,1053.8 262,1053.8 258,1057.9 262,1053.8 262,1072.4 258,1072.4 245.5,1076.4 231.2,1073.7 216.4,1070.8 203.9,1070.4 199.9,1070.4 199.9,1053.8" fill="#FFDC00"/>
<polygon points="203.9,1057.9 199.9,1053.8 262,1053.8 258,1057.9 262,1053.8 262,1070.4 258,1070.4 245.5,1074 231.2,1071.1 216.4,1069.5 203.9,1069.1 199.9,1069.1 199.9,1053.8" fill="#DCF50F"/>
<polygon points="238.9,1067.1 246.8,1063.8 253.4,1061.9 258,1059.2 262,1059.2 262,1069.5 258,1069.5 246.8,1070.8" fill="#A5E11E"/>
<polygon points="243.5,1066.5 249.4,1065.6 248.1,1067.8" fill="#6EC82D"/>
<polygon points="203.9,1236.2 216.4,1213.8 231.2,1190 245.5,1178.1 248.1,1191.3 253.4,1217.7 258,1233.6 262,1233.6 262,1241.5 258,1241.5 203.9,1241.5 199.9,1241.5 199.9,1236.2" fill="#FF3C00"/>
<polygon points="233.6,1241.5 245.5,1225 248.8,1236.2 250.8,1241.5" fill="#FF8C00"/>
<polygon points="243.5,1144.4 245.5,1140.5 246.1,1150.4" fill="#FF3C00"/>
</g>
<g clip-path="url(#kc1b)">
<rect x="200.9" y="1239" width="60.1" height="272.1" fill="#FFDC00"/>
<polygon points="203.9,1231 257.5,1231 262,1231 262,1271.3 257.5,1271.3 245.5,1272.1 239,1280.9 231.6,1296.1 217.7,1300.9 203.9,1305.9 199.9,1305.9 199.9,1231" fill="#FF8C00"/>
<polygon points="203.9,1231 241.8,1231 231.6,1245.8 217.7,1252.8 203.9,1259.7 199.9,1259.7 199.9,1231" fill="#FF3C00"/>
<polygon points="247.3,1231 257.5,1231 262,1231 262,1249.5 257.5,1249.5 249.2,1234.7" fill="#FF3C00"/>
<polygon points="203.9,1231 207.6,1231 203.9,1235.6 199.9,1235.6 199.9,1231" fill="#E60000"/>
<polygon points="230.3,1415.9 231.6,1410.8 232.9,1416.9 231.6,1423.3" fill="#FF8C00"/>
</g>
<clipPath id="kc2t"><rect x="283.6" y="1054.8" width="14.9" height="185.2"/></clipPath>
<clipPath id="kc2b"><rect x="283.6" y="1240" width="14.9" height="267.1"/></clipPath>
<g clip-path="url(#kc2t)">
<rect x="282.1" y="1054.8" width="17.9" height="187.2" fill="#E60000"/>
<polygon points="285.1,1057.9 281.1,1053.8 301,1053.8 297,1057.9 301,1053.8 301,1141.8 297,1141.8 285.1,1140.5 281.1,1140.5 281.1,1053.8" fill="#FF3C00"/>
<polygon points="285.1,1057.9 281.1,1053.8 301,1053.8 297,1057.9 301,1053.8 301,1136.5 297,1136.5 285.1,1136.5 281.1,1136.5 281.1,1053.8" fill="#FF8C00"/>
<polygon points="285.1,1057.9 281.1,1053.8 301,1053.8 297,1057.9 301,1053.8 301,1131.6 297,1131.6 285.1,1133.2 281.1,1133.2 281.1,1053.8" fill="#FFDC00"/>
<polygon points="285.1,1057.9 281.1,1053.8 301,1053.8 297,1057.9 301,1053.8 301,1125.3 297,1125.3 285.1,1129.2 281.1,1129.2 281.1,1053.8" fill="#DCF50F"/>
<polygon points="285.1,1057.9 281.1,1053.8 301,1053.8 297,1057.9 301,1053.8 301,1116 297,1116 285.1,1123.9 281.1,1123.9 281.1,1053.8" fill="#A5E11E"/>
<polygon points="285.1,1057.9 281.1,1053.8 301,1053.8 297,1057.9 301,1053.8 301,1104.1 297,1104.1 289.1,1109.4 285.1,1112.1 281.1,1112.1 281.1,1053.8" fill="#6EC82D"/>
<polygon points="285.1,1057.9 281.1,1053.8 301,1053.8 297,1057.9 301,1053.8 301,1095.5 297,1095.5 285.1,1098.2 281.1,1098.2 281.1,1053.8" fill="#2DAA46"/>
<polygon points="285.1,1057.9 281.1,1053.8 301,1053.8 297,1057.9 301,1053.8 301,1063.8 297,1063.8 293,1065.8 288.4,1071.1 285.1,1079 281.1,1079 281.1,1053.8" fill="#6EC82D"/>
<polygon points="285.1,1057.9 281.1,1053.8 301,1053.8 297,1057.9 301,1053.8 301,1061.2 297,1061.2 291.7,1063.8 287.8,1067.8 285.1,1072.4 281.1,1072.4 281.1,1053.8" fill="#A5E11E"/>
<polygon points="285.1,1057.9 281.1,1053.8 295.7,1053.8 295.7,1057.9 290.4,1060.5 287.1,1063.8 285.1,1065.8 281.1,1065.8 281.1,1053.8" fill="#DCF50F"/>
<polygon points="297,1064.5 294.4,1069.1 295,1076.4 297,1081 301,1081 301,1064.5" fill="#0A915A"/>
<polygon points="285.1,1205.8 297,1195.3 301,1195.3 301,1241.5 297,1241.5 285.1,1241.5 281.1,1241.5 281.1,1205.8" fill="#FF3C00"/>
<polygon points="285.1,1232.9 297,1234.2 301,1234.2 301,1241.5 297,1241.5 285.1,1241.5 281.1,1241.5 281.1,1232.9" fill="#FF8C00"/>
</g>
<g clip-path="url(#kc2b)">
<rect x="282.1" y="1239" width="17.9" height="272.1" fill="#FFDC00"/>
<polygon points="285.2,1231 296.9,1231 301,1231 301,1262.8 296.9,1262.8 285.2,1256 281.1,1256 281.1,1231" fill="#FF8C00"/>
<polygon points="285.2,1231 296.9,1231 301,1231 301,1234.3 296.9,1234.3 285.2,1232.5 281.1,1232.5 281.1,1231" fill="#FF3C00"/>
</g>
<clipPath id="kc3t"><rect x="320.6" y="1059.4" width="42.4" height="180.6"/></clipPath>
<clipPath id="kc3b"><rect x="320.6" y="1240" width="42.4" height="267.1"/></clipPath>
<g clip-path="url(#kc3t)">
<rect x="319.1" y="1059.4" width="45.4" height="182.6" fill="#E60000"/>
<polygon points="322.1,1071.1 326.1,1073.7 328,1083 326.1,1090.9 322.1,1096.2 318.1,1096.2 318.1,1071.1" fill="#960000"/>
<polygon points="322.1,1121.3 335.3,1136.5 343.2,1125.3 349.8,1119.3 361.5,1118 365.5,1118 365.5,1135.8 361.5,1135.8 349.8,1145.7 335.3,1155.6 322.1,1158.3 318.1,1158.3 318.1,1121.3" fill="#960000"/>
<polygon points="322.1,1062.5 318.1,1058.4 365.5,1058.4 361.5,1062.5 365.5,1058.4 365.5,1114.7 361.5,1114.7 349.8,1116.7 341.9,1122.6 335.3,1129.2 328.7,1118.7 324.7,1109.4 323.4,1100.2 327.4,1093.6 330,1083 328,1072.4 323.4,1068.5 322.1,1065.8 318.1,1065.8 318.1,1058.4" fill="#FF3C00"/>
<polygon points="322.1,1062.5 318.1,1058.4 365.5,1058.4 361.5,1062.5 365.5,1058.4 365.5,1072.4 361.5,1072.4 353.8,1074.4 348.5,1077.7 343.9,1087.6 349.8,1090.9 361.5,1098.8 365.5,1098.8 365.5,1110.7 361.5,1110.7 352.5,1114.7 344.6,1117.3 335.3,1122.6 330,1112.1 327.4,1101.5 328.7,1096.2 332,1084.3 329.4,1073.7 324.7,1068.5 322.1,1064.5 318.1,1064.5 318.1,1058.4" fill="#FF8C00"/>
<polygon points="322.1,1062.5 318.1,1058.4 365.5,1058.4 361.5,1062.5 365.5,1058.4 365.5,1071.1 361.5,1071.1 352.5,1073.7 345.9,1079 343.2,1088.3 351.8,1098.8 347.2,1109.4 335.3,1115.4 332.7,1109.4 331.3,1101.5 332.7,1092.2 334,1085.6 332,1076.4 326.1,1067.8 322.1,1063.8 318.1,1063.8 318.1,1058.4" fill="#FFDC00"/>
<polygon points="322.1,1062.5 318.1,1058.4 365.5,1058.4 361.5,1062.5 365.5,1058.4 365.5,1069.8 361.5,1069.8 348.5,1072.4 339.3,1079 336,1084.3 334,1075.1 327.4,1067.1 322.1,1063.2 318.1,1058.4 318.1,1058.4" fill="#DCF50F"/>
<polygon points="322.1,1062.5 318.1,1058.4 365.5,1058.4 361.5,1062.5 365.5,1058.4 365.5,1068.5 361.5,1068.5 348.5,1071.1 340.6,1075.7 336.6,1079 334.6,1074.4 328.7,1065.8 322.1,1062.9 318.1,1058.4 318.1,1058.4" fill="#A5E11E"/>
<polygon points="330,1062.5 330,1058.4 365.5,1058.4 361.5,1062.5 365.5,1058.4 365.5,1066.5 361.5,1066.5 348.5,1067.8 339.3,1072.4 335.3,1073.7" fill="#6EC82D"/>
<polygon points="339.3,1166.2 349.8,1160.9 361.5,1162.9 365.5,1162.9 365.5,1241.5 361.5,1241.5 322.1,1241.5 318.1,1241.5 318.1,1212.4 322.1,1212.4 335.3,1201.2 343.9,1188.7" fill="#FF3C00"/>
<polygon points="337.3,1241.5 341.9,1233.6 349.8,1222.4 361.5,1220.1 365.5,1220.1 365.5,1241.5 361.5,1241.5" fill="#FF8C00"/>
</g>
<g clip-path="url(#kc3b)">
<rect x="319.1" y="1239" width="45.4" height="272.1" fill="#FF8C00"/>
<polygon points="322.2,1373.4 328.7,1397.4 335.2,1427 349.4,1469.2 361.6,1471.8 365.5,1471.8 365.5,1506.6 361.6,1506.6 322.2,1506.6 318.1,1506.6 318.1,1373.4" fill="#FFDC00"/>
<polygon points="361.6,1266.1 350,1274.5 346.3,1280.6 349.4,1293 361.6,1316.4 365.5,1316.4 365.5,1266.1" fill="#FFDC00"/>
<polygon points="322.2,1231 344.4,1231 335.2,1249.5 322.2,1260.2 318.1,1260.2 318.1,1231" fill="#FF3C00"/>
</g>
<clipPath id="kc4t"><rect x="386" y="1054.8" width="42.6" height="185.2"/></clipPath>
<clipPath id="kc4b"><rect x="386" y="1240" width="42.6" height="267.1"/></clipPath>
<g clip-path="url(#kc4t)">
<rect x="384.5" y="1054.8" width="45.6" height="187.2" fill="#E60000"/>
<polygon points="387.5,1118.7 400.7,1118.7 415.9,1104.1 427.1,1100.8 431.1,1100.8 431.1,1164.2 427.1,1164.2 415.9,1150.4 401.4,1142.4 387.5,1155.6 383.5,1155.6 383.5,1118.7" fill="#960000"/>
<polygon points="387.5,1057.9 383.5,1053.8 431.1,1053.8 427.1,1057.9 431.1,1053.8 431.1,1083.6 427.1,1083.6 420.5,1087 414.6,1098.8 408,1108.1 400,1115 387.5,1114 383.5,1114 383.5,1053.8" fill="#FF3C00"/>
<polygon points="387.5,1057.9 383.5,1053.8 431.1,1053.8 427.1,1057.9 431.1,1053.8 431.1,1081.7 427.1,1081.7 415.9,1085 401.4,1084.3 387.5,1081 383.5,1081 383.5,1053.8" fill="#FF8C00"/>
<polygon points="395.4,1109.4 402,1108.1 401.4,1111.4" fill="#FF8C00"/>
<polygon points="387.5,1057.9 383.5,1053.8 431.1,1053.8 427.1,1057.9 431.1,1053.8 431.1,1077.7 427.1,1077.7 415.9,1079 401.4,1078.4 387.5,1075.7 383.5,1075.7 383.5,1053.8" fill="#FFDC00"/>
<polygon points="414.6,1065.8 427.1,1065.8 431.1,1065.8 431.1,1071.1 427.1,1071.1 415.9,1071.8" fill="#FF8C00"/>
<polygon points="387.5,1057.9 383.5,1053.8 431.1,1053.8 427.1,1057.9 431.1,1053.8 431.1,1065.2 427.1,1065.2 414.6,1065.6 408,1069.8 400,1074.4 387.5,1072.4 383.5,1072.4 383.5,1053.8" fill="#DCF50F"/>
<polygon points="387.5,1057.9 383.5,1053.8 431.1,1053.8 427.1,1057.9 431.1,1053.8 431.1,1060.5 427.1,1060.5 414.6,1063.2 406.6,1069.1 400,1072.4 387.5,1071.1 383.5,1071.1 383.5,1053.8" fill="#A5E11E"/>
<polygon points="387.5,1057.9 383.5,1053.8 425.1,1053.8 425.1,1057.9 414.6,1061.2 406.6,1067.1 400,1071.1 387.5,1069.8 383.5,1069.8 383.5,1053.8" fill="#6EC82D"/>
<polygon points="387.5,1057.9 383.5,1053.8 402.7,1053.8 402.7,1057.9 404,1063.2 401.4,1069.1 387.5,1068.5 383.5,1068.5 383.5,1053.8" fill="#2DAA46"/>
<polygon points="392.1,1065.8 401.4,1065.2 402,1067.1 396.1,1068.2" fill="#0A915A"/>
<polygon points="387.5,1178.1 400.7,1178.8 414.6,1165.6 427.1,1178.1 431.1,1178.1 431.1,1241.5 427.1,1241.5 387.5,1241.5 383.5,1241.5 383.5,1178.1" fill="#FF3C00"/>
<polygon points="387.5,1223.7 400.7,1230.3 411.9,1191.3 415.9,1185.4 422.5,1190 427.1,1199.9 431.1,1199.9 431.1,1241.5 427.1,1241.5 387.5,1241.5 383.5,1241.5 383.5,1223.7" fill="#FF8C00"/>
</g>
<g clip-path="url(#kc4b)">
<rect x="384.5" y="1239" width="45.6" height="272.1" fill="#FF8C00"/>
<polygon points="387.5,1396.5 400.8,1415.9 415.3,1427.4 427.1,1440 431.1,1440 431.1,1506.6 427.1,1506.6 387.5,1506.6 383.5,1506.6 383.5,1396.5" fill="#FFDC00"/>
<polygon points="415.3,1291.1 421.5,1325.3 424.5,1369.7 415.6,1402.1 407.3,1370.6 411,1330.9" fill="#FFDC00"/>
</g>
<clipPath id="kc5t"><rect x="464.8" y="1054.8" width="108.6" height="185.2"/></clipPath>
<clipPath id="kc5b"><rect x="464.8" y="1240" width="108.6" height="267.1"/></clipPath>
<g clip-path="url(#kc5t)">
<rect x="463.3" y="1054.8" width="111.6" height="187.2" fill="#E60000"/>
<polygon points="466.3,1144 484.4,1144 481.1,1157 466.3,1161.6 462.3,1161.6 462.3,1144" fill="#960000"/>
<polygon points="528.7,1121.3 532.7,1118.7 536.6,1125.3 545.9,1139.8 555.1,1143.8 546.5,1157.6 532.7,1158.5 528,1144.4" fill="#960000"/>
<polygon points="571.9,1139.1 563.7,1144.4 568.3,1162.2 571.9,1171.5 575.9,1171.5 575.9,1139.1" fill="#960000"/>
<polygon points="505.8,1057.9 505.8,1053.8 575.9,1053.8 571.9,1057.9 575.9,1053.8 575.9,1130.5 571.9,1130.5 559.1,1129.2 546.5,1131.9 539.3,1121.3 532.7,1114 524.7,1121.3 518.1,1134.5 505.8,1138.5" fill="#FF3C00"/>
<polygon points="489.1,1144 502.3,1144 493,1166.9" fill="#FF3C00"/>
<polygon points="466.3,1179.2 481.1,1176.5 493,1166.9 506.2,1184 519,1162.9 532.3,1185.4 546.5,1192 559.3,1164.2 571.9,1184 575.9,1184 575.9,1241.5 571.9,1241.5 466.3,1241.5 462.3,1241.5 462.3,1179.2" fill="#FF3C00"/>
<polygon points="505.8,1057.9 505.8,1053.8 575.9,1053.8 571.9,1057.9 575.9,1053.8 575.9,1120.6 571.9,1120.6 559.3,1116 546.5,1122.9 539.3,1116 532.7,1110.1 524.7,1114.7 519.4,1120 512.8,1126.6 505.8,1133.2" fill="#FF8C00"/>
<polygon points="505.8,1057.9 505.8,1053.8 575.9,1053.8 571.9,1057.9 575.9,1053.8 575.9,1118 571.9,1118 565.7,1113.4 559.3,1109.1 552.5,1110.7 546.5,1114.4 539.3,1110.7 532.7,1107.4 526.1,1110.7 519.4,1116 512.8,1123.3 505.8,1130.5" fill="#FFDC00"/>
<polygon points="505.8,1057.9 505.8,1053.8 575.9,1053.8 571.9,1057.9 575.9,1053.8 575.9,1114.7 571.9,1114.7 565.7,1109.4 559.3,1106.1 546.5,1110.7 539.3,1107 532.7,1104.1 526.1,1106.1 518.1,1109.4 512.8,1118.7 505.8,1125.3" fill="#DCF50F"/>
<polygon points="505.8,1057.9 505.8,1053.8 575.9,1053.8 571.9,1057.9 575.9,1053.8 575.9,1108.1 571.9,1108.1 559.3,1102.8 545.9,1104.1 532.7,1100.2 526.1,1102.1 519.4,1104.1 512.8,1112.1 505.8,1120" fill="#A5E11E"/>
<polygon points="505.8,1057.9 505.8,1053.8 575.9,1053.8 571.9,1057.9 575.9,1053.8 575.9,1101.5 571.9,1101.5 559.3,1098.6 545.9,1099.5 532.7,1096.2 519.4,1092.9 515.5,1098.8 511.5,1105.4 505.8,1116" fill="#6EC82D"/>
<polygon points="505.8,1057.9 505.8,1053.8 575.9,1053.8 571.9,1057.9 575.9,1053.8 575.9,1095.5 571.9,1095.5 559.3,1094.2 545.9,1092.9 532.7,1089.6 519.4,1085.6 514.2,1087 511.5,1098.8 507.6,1112.1 505.8,1114.7" fill="#2DAA46"/>
<polygon points="505.8,1085.6 510.2,1087 509.5,1101.5 506.9,1112.1 505.8,1113.4" fill="#0A915A"/>
<polygon points="510.9,1076.4 519.4,1071.1 526.1,1076.4 524.7,1085.6 514.2,1087" fill="#6EC82D"/>
<polygon points="515.5,1076.4 519.4,1071.8 523.1,1076.6 519.4,1083.6" fill="#A5E11E"/>
<polygon points="523.4,1057.9 523.4,1053.8 575.9,1053.8 571.9,1057.9 575.9,1053.8 575.9,1075.7 571.9,1075.7 559.7,1081 552.5,1069.8 549.8,1063.2 536,1058.5 534,1065.8 528.7,1066.5 526.1,1061.9" fill="#6EC82D"/>
<polygon points="558.4,1060.5 562.4,1058.2 566.7,1063.2 565.7,1067.1 560.4,1070.4 558.4,1065.8" fill="#A5E11E"/>
<polygon points="532.4,1076.6 545.9,1068.7 554.5,1076.6 547.2,1085.9" fill="#0A915A"/>
<polygon points="560.4,1086.3 571.9,1085.4 575.9,1085.4 575.9,1088 571.9,1088" fill="#0A915A"/>
<polygon points="537.3,1076.4 545.9,1071.4 551.8,1076.4 546.5,1083" fill="#236E96"/>
<polygon points="540.6,1076.4 545.9,1073.1 549.6,1076.4 546.1,1080.6" fill="#3C4BD2"/>
<polygon points="543.5,1076.4 545.9,1074.4 548.2,1076.4 546.1,1078.8" fill="#6428FF"/>
<polygon points="466.3,1217.7 481.1,1201.9 493,1204.5 506.2,1219.1 519,1209.1 532.3,1230.3 546.5,1229.6 559.3,1212.7 571.9,1218.4 575.9,1218.4 575.9,1241.5 571.9,1241.5 466.3,1241.5 462.3,1241.5 462.3,1217.7" fill="#FF8C00"/>
</g>
<g clip-path="url(#kc5b)">
<rect x="463.3" y="1239" width="111.6" height="272.1" fill="#FFDC00"/>
<polygon points="466.5,1231 571.9,1231 575.9,1231 575.9,1325.3 571.9,1325.3 559.9,1297.9 546.6,1304.1 532.1,1334.2 519.2,1325.7 505.9,1292.4 492.7,1301.3 488.7,1371.6 481.3,1390.4 466.5,1416.9 462.3,1416.9 462.3,1231" fill="#FF8C00"/>
<polygon points="466.5,1416.9 468.3,1416.9 469.3,1460.3 466.5,1473.3 462.3,1473.3 462.3,1416.9" fill="#FF8C00"/>
<polygon points="571.9,1325.3 570.1,1371.6 571.9,1382.7 575.9,1382.7 575.9,1325.3" fill="#FF8C00"/>
</g>
<clipPath id="kc6t"><rect x="596.5" y="1054.8" width="17.4" height="185.2"/></clipPath>
<clipPath id="kc6b"><rect x="596.5" y="1240" width="17.4" height="267.1"/></clipPath>
<g clip-path="url(#kc6t)">
<rect x="595" y="1054.8" width="20.4" height="187.2" fill="#E60000"/>
<polygon points="598,1114.7 612.6,1117.3 616.4,1117.3 616.4,1164.9 612.6,1164.9 598,1180.1 594,1180.1 594,1114.7" fill="#960000"/>
<polygon points="598,1057.9 594,1053.8 616.4,1053.8 612.6,1057.9 616.4,1053.8 616.4,1109.1 612.6,1109.1 598,1112.1 594,1112.1 594,1053.8" fill="#FF3C00"/>
<polygon points="598,1057.9 594,1053.8 616.4,1053.8 612.6,1057.9 616.4,1053.8 616.4,1098.2 612.6,1098.2 598,1106.8 594,1106.8 594,1053.8" fill="#FF8C00"/>
<polygon points="598,1057.9 594,1053.8 616.4,1053.8 612.6,1057.9 616.4,1053.8 616.4,1092.9 612.6,1092.9 598,1098.2 594,1098.2 594,1053.8" fill="#FFDC00"/>
<polygon points="598,1057.9 594,1053.8 616.4,1053.8 612.6,1057.9 616.4,1053.8 616.4,1088.3 612.6,1088.3 598,1092.9 594,1092.9 594,1053.8" fill="#DCF50F"/>
<polygon points="598,1057.9 594,1053.8 605.3,1053.8 605.3,1057.9 601.3,1063.2 600,1072.4 598,1079 594,1079 594,1053.8" fill="#A5E11E"/>
<polygon points="612.6,1059.2 606.6,1063.2 605.3,1072.4 609.3,1080.3 612.6,1084.3 616.4,1084.3 616.4,1059.2" fill="#FFDC00"/>
<polygon points="612.6,1061.9 608.6,1065.8 607.7,1073.7 610.6,1079.7 612.6,1081.7 616.4,1081.7 616.4,1061.9" fill="#FF8C00"/>
<polygon points="612.6,1064.5 609.9,1068.5 609.3,1074.4 611.9,1078.4 616.4,1078.4 616.4,1079 612.6,1079 616.4,1079 616.4,1064.5" fill="#FF3C00"/>
<polygon points="598,1201.9 612.6,1194 616.4,1194 616.4,1241.5 612.6,1241.5 598,1241.5 594,1241.5 594,1201.9" fill="#FF3C00"/>
<polygon points="598,1229.9 612.6,1236.2 616.4,1236.2 616.4,1241.5 612.6,1241.5 598,1241.5 594,1241.5 594,1229.9" fill="#FF8C00"/>
</g>
<g clip-path="url(#kc6b)">
<rect x="595" y="1239" width="20.4" height="272.1" fill="#FFDC00"/>
<polygon points="597.8,1231 612.2,1231 616.4,1231 616.4,1350.3 612.2,1350.3 605.7,1325.3 597.8,1309.6 594,1309.6 594,1231" fill="#FF8C00"/>
<polygon points="602,1231 612.2,1231 616.4,1231 616.4,1236.2 612.2,1236.2" fill="#FF3C00"/>
</g>
<clipPath id="kc7t"><rect x="689.7" y="1054.8" width="67.6" height="185.2"/></clipPath>
<clipPath id="kc7b"><rect x="689.7" y="1240" width="67.6" height="267.1"/></clipPath>
<g clip-path="url(#kc7t)">
<rect x="688.2" y="1054.8" width="70.6" height="187.2" fill="#960000"/>
<polygon points="691.2,1170.8 704.4,1165.6 716.3,1167.8 755.9,1172.2 759.8,1172.2 759.8,1241.5 755.9,1241.5 691.2,1241.5 687.2,1241.5 687.2,1170.8" fill="#E60000"/>
<polygon points="691.2,1184.7 704.4,1179.7 716.3,1188.9 755.9,1184.7 759.8,1184.7 759.8,1241.5 755.9,1241.5 691.2,1241.5 687.2,1241.5 687.2,1184.7" fill="#FF3C00"/>
<polygon points="691.2,1236.2 704.4,1205.2 712.3,1228.3 716.3,1240.2 716.3,1241.5 691.2,1241.5 687.2,1241.5 687.2,1236.2" fill="#FF8C00"/>
<polygon points="716.3,1240.5 755.9,1229 759.8,1229 759.8,1241.5 755.9,1241.5 716.3,1241.5" fill="#FF8C00"/>
<polygon points="691.2,1057.9 687.2,1053.8 759.8,1053.8 755.9,1057.9 759.8,1053.8 759.8,1084.3 755.9,1084.3 742.7,1090.9 732.1,1098.8 724.2,1110.1 716.3,1112.1 704.4,1114.7 699.1,1098.8 691.2,1095.5 687.2,1095.5 687.2,1053.8" fill="#E60000"/>
<polygon points="691.2,1057.9 687.2,1053.8 759.8,1053.8 755.9,1057.9 759.8,1053.8 759.8,1082.3 755.9,1082.3 737.4,1089.6 724.2,1098.8 716.3,1107.4 704.4,1110.7 699.8,1098.2 691.2,1094.2 687.2,1094.2 687.2,1053.8" fill="#FF3C00"/>
<polygon points="691.2,1057.9 687.2,1053.8 759.8,1053.8 755.9,1057.9 759.8,1053.8 759.8,1081 755.9,1081 737.4,1087 724.2,1094.9 716.3,1102.8 704.4,1107.4 700.4,1097.5 691.2,1093.3 687.2,1093.3 687.2,1053.8" fill="#FF8C00"/>
<polygon points="691.2,1057.9 687.2,1053.8 759.8,1053.8 755.9,1057.9 759.8,1053.8 759.8,1079.7 755.9,1079.7 737.4,1085.6 724.2,1092.2 716.3,1098.8 704.4,1104.1 701.1,1096.9 691.2,1092.2 687.2,1092.2 687.2,1053.8" fill="#FFDC00"/>
<polygon points="691.2,1057.9 687.2,1053.8 759.8,1053.8 755.9,1057.9 759.8,1053.8 759.8,1078.4 755.9,1078.4 737.4,1084.3 724.2,1089.6 716.3,1096.2 704.4,1101.5 701.7,1095.5 691.2,1090.9 687.2,1090.9 687.2,1053.8" fill="#DCF50F"/>
<polygon points="691.2,1057.9 687.2,1053.8 704.4,1053.8 704.4,1057.9 703.1,1072.4 704.4,1085.6 691.2,1088.3 687.2,1088.3 687.2,1053.8" fill="#A5E11E"/>
<polygon points="691.2,1057.9 687.2,1053.8 698.4,1053.8 698.4,1057.9 697.1,1072.4 697.8,1085.6 691.2,1087.6 687.2,1087.6 687.2,1053.8" fill="#6EC82D"/>
<polygon points="691.2,1057.9 687.2,1053.8 694.5,1053.8 694.5,1057.9 693.2,1072.4 691.2,1079 687.2,1079 687.2,1053.8" fill="#2DAA46"/>
<polygon points="716.3,1066.5 742.7,1062.9 748,1057.9 748,1053.8 759.8,1053.8 755.9,1057.9 759.8,1053.8 759.8,1075.3 755.9,1075.3" fill="#A5E11E"/>
<polygon points="705.7,1085.6 716.3,1081.9 719.6,1087 716.3,1089.3" fill="#A5E11E"/>
</g>
<g clip-path="url(#kc7b)">
<rect x="688.2" y="1239" width="70.6" height="272.1" fill="#FFDC00"/>
<polygon points="691.2,1231 755.5,1231 759.8,1231 759.8,1330.9 755.5,1330.9 716.7,1342.9 713,1325.3 704.3,1298.5 691.2,1325.7 687.2,1325.7 687.2,1231" fill="#FF8C00"/>
<polygon points="713,1231 749,1231 734.3,1235.1 716.7,1241.2" fill="#FF3C00"/>
<polygon points="715.4,1408.5 728.3,1416.5 738.3,1461.3 716.1,1472.9 715.4,1462.2" fill="#FF8C00"/>
<polygon points="691.2,1231 693.6,1231 691.2,1236.5 687.2,1236.5 687.2,1231" fill="#E60000"/>
</g>
<clipPath id="kc8t"><rect x="807.9" y="1054.8" width="42.6" height="185.2"/></clipPath>
<clipPath id="kc8b"><rect x="807.9" y="1240" width="42.6" height="267.1"/></clipPath>
<g clip-path="url(#kc8t)">
<rect x="806.4" y="1054.8" width="45.6" height="187.2" fill="#960000"/>
<polygon points="809.4,1154.6 821.2,1154.3 835.4,1162 849,1185 853,1185 853,1241.5 849,1241.5 809.4,1241.5 805.4,1241.5 805.4,1154.6" fill="#E60000"/>
<polygon points="809.4,1172.4 821.2,1169.1 835.4,1178.1 842.4,1189.3 849,1216.4 853,1216.4 853,1241.5 849,1241.5 809.4,1241.5 805.4,1241.5 805.4,1172.4" fill="#FF3C00"/>
<polygon points="809.4,1202.5 821.2,1193.3 835.4,1207.8 842.4,1240.2 842.4,1241.5 809.4,1241.5 805.4,1241.5 805.4,1202.5" fill="#FF8C00"/>
<polygon points="809.4,1057.9 805.4,1053.8 853,1053.8 849,1057.9 853,1053.8 853,1081.9 849,1081.9 835.4,1095.9 821.2,1084.6 809.4,1075.7 805.4,1075.7 805.4,1053.8" fill="#E60000"/>
<polygon points="809.4,1057.9 805.4,1053.8 853,1053.8 849,1057.9 853,1053.8 853,1078.4 849,1078.4 835.4,1090.3 821.2,1081.4 809.4,1073.7 805.4,1073.7 805.4,1053.8" fill="#FF3C00"/>
<polygon points="809.4,1057.9 805.4,1053.8 853,1053.8 849,1057.9 853,1053.8 853,1076.4 849,1076.4 835.4,1087.6 821.2,1079.3 809.4,1072.4 805.4,1072.4 805.4,1053.8" fill="#FF8C00"/>
<polygon points="809.4,1057.9 805.4,1053.8 853,1053.8 849,1057.9 853,1053.8 853,1074.4 849,1074.4 835.4,1085.6 821.2,1077.4 809.4,1071.1 805.4,1071.1 805.4,1053.8" fill="#FFDC00"/>
<polygon points="809.4,1057.9 805.4,1053.8 853,1053.8 849,1057.9 853,1053.8 853,1072.4 849,1072.4 835.4,1083.6 821.2,1075.3 809.4,1069.5 805.4,1069.5 805.4,1053.8" fill="#DCF50F"/>
<polygon points="809.4,1057.9 805.4,1053.8 853,1053.8 849,1057.9 853,1053.8 853,1070.8 849,1070.8 835.4,1081.7 821.2,1073.1 809.4,1067.8 805.4,1067.8 805.4,1053.8" fill="#A5E11E"/>
<polygon points="809.4,1057.9 805.4,1053.8 853,1053.8 849,1057.9 853,1053.8 853,1069.1 849,1069.1 835.4,1079.7 821.2,1070.4 809.4,1065.8 805.4,1065.8 805.4,1053.8" fill="#6EC82D"/>
<polygon points="814,1063.8 821.9,1065.8 835.4,1078.1 849,1067.8 853,1067.8 853,1063.2 849,1063.2 835.4,1061.9 821.9,1062.9" fill="#2DAA46"/>
<polygon points="827.8,1066.5 837.8,1065.2 847.7,1066.1 836,1076.6" fill="#0A915A"/>
<polygon points="832.5,1057.9 832.5,1053.8 853,1053.8 849,1057.9 853,1053.8 853,1060.5 849,1060.5 837.8,1059.2" fill="#A5E11E"/>
</g>
<g clip-path="url(#kc8b)">
<rect x="806.4" y="1239" width="45.6" height="272.1" fill="#FFDC00"/>
<polygon points="809.5,1231 848.9,1231 853,1231 853,1506.6 848.9,1506.6 844.3,1504.7 835.6,1492.7 825.8,1461.3 836,1447.4 845.2,1415 843.4,1369.7 836.9,1325.3 836.5,1275.4 821.2,1263.9 809.5,1266.1 805.4,1266.1 805.4,1231" fill="#FF8C00"/>
<polygon points="839.7,1231 848.9,1231 853,1231 853,1275.4 848.9,1275.4 844.3,1251.3" fill="#FF3C00"/>
</g>
<clipPath id="kc9t"><rect x="873.5" y="1054.8" width="134.8" height="185.2"/></clipPath>
<clipPath id="kc9b"><rect x="873.5" y="1240" width="134.8" height="267.1"/></clipPath>
<g clip-path="url(#kc9t)">
<rect x="872" y="1054.8" width="137.8" height="187.2" fill="#960000"/>
<polygon points="875,1161.6 886.9,1158.3 900.1,1174.8 916.4,1186 928.9,1197.3 952.4,1207.2 965.9,1207.2 978.8,1189.3 1006.8,1188.7 1010.8,1188.7 1010.8,1241.5 1006.8,1241.5 875,1241.5 871,1241.5 871,1161.6" fill="#E60000"/>
<polygon points="875,1178.1 886.9,1176.1 900.1,1189.3 916.4,1208.5 928.9,1221 952.4,1226.3 965.9,1229.6 978.8,1212.4 1006.8,1209.1 1010.8,1209.1 1010.8,1241.5 1006.8,1241.5 875,1241.5 871,1241.5 871,1178.1" fill="#FF3C00"/>
<polygon points="875,1222.4 886.9,1214.4 900.1,1227.6 916.4,1234.9 921,1240.2 921,1241.5 875,1241.5 871,1241.5 871,1222.4" fill="#FF8C00"/>
<polygon points="974.5,1241.5 974.5,1240.2 978.8,1236.2 1006.8,1229.4 1010.8,1229.4 1010.8,1241.5 1006.8,1241.5" fill="#FF8C00"/>
<polygon points="875,1057.9 871,1053.8 1010.8,1053.8 1006.8,1057.9 1010.8,1053.8 1010.8,1140.5 1006.8,1140.5 979.1,1133.2 972.5,1121.3 964.6,1116.7 952.7,1106.1 943.4,1098.2 938.2,1087 928.9,1078.4 916.4,1081.7 900.1,1073.1 886.9,1071.1 875,1075.7 871,1075.7 871,1053.8" fill="#E60000"/>
<polygon points="875,1057.9 871,1053.8 1010.8,1053.8 1006.8,1057.9 1010.8,1053.8 1010.8,1135.2 1006.8,1135.2 980.4,1127.9 975.1,1122 967.2,1116.7 956.6,1108.1 946.1,1097.5 940.8,1087 928.9,1076.6 916.4,1080.1 900.1,1072.2 886.9,1070 875,1074.4 871,1074.4 871,1053.8" fill="#FF3C00"/>
<polygon points="875,1057.9 871,1053.8 1010.8,1053.8 1006.8,1057.9 1010.8,1053.8 1010.8,1129.9 1006.8,1129.9 977.8,1121.3 969.9,1116.7 959.3,1108.1 950,1096.9 944.8,1086.3 928.9,1075.1 916.4,1078.4 900.1,1071.1 886.9,1069.1 875,1073.1 871,1073.1 871,1053.8" fill="#FF8C00"/>
<polygon points="875,1057.9 871,1053.8 1010.8,1053.8 1006.8,1057.9 1010.8,1053.8 1010.8,1125.3 1006.8,1125.3 984.4,1120.6 972.5,1116 961.9,1107.4 954,1096.9 951.4,1086.3 928.9,1073.7 916.4,1076.6 900.1,1070 886.9,1068.2 875,1071.8 871,1071.8 871,1053.8" fill="#FFDC00"/>
<polygon points="875,1057.9 871,1053.8 1010.8,1053.8 1006.8,1057.9 1010.8,1053.8 1010.8,1122 1006.8,1122 991,1118 975.1,1114.7 964.6,1106.1 958,1096.9 956.6,1086.3 928.9,1072.2 916.4,1075.1 900.1,1069.1 891.9,1067.1 886.9,1063.2 882.7,1067.1 875,1069.8 871,1069.8 871,1053.8" fill="#DCF50F"/>
<polygon points="897.2,1057.9 897.2,1053.8 1010.8,1053.8 1006.8,1057.9 1010.8,1053.8 1010.8,1118 1006.8,1118 977.8,1112.1 967.2,1104.1 961.9,1096.9 960.6,1085.6 928.9,1070.8 916.4,1073.1 898.5,1067.1" fill="#A5E11E"/>
<polygon points="902.5,1057.9 902.5,1053.8 1010.8,1053.8 1006.8,1057.9 1010.8,1053.8 1010.8,1114 1006.8,1114 980.4,1109.4 969.9,1101.5 967.2,1096.9 964.6,1085.6 928.9,1069.8 916.4,1071.1 905.1,1065.8" fill="#6EC82D"/>
<polygon points="909.1,1057.9 909.1,1053.8 1010.8,1053.8 1006.8,1057.9 1010.8,1053.8 1010.8,1110.7 1006.8,1110.7 980.4,1105.4 968.5,1097.5 973.8,1088.3 969.9,1085.6 951.4,1076.4 928.9,1068.7 916.4,1069.1 911.7,1065.8" fill="#2DAA46"/>
<polygon points="915.7,1057.9 915.7,1053.8 929.2,1053.8 929.2,1057.9 929.2,1061.2 922.3,1061.6 915.7,1062.5" fill="#A5E11E"/>
<polygon points="989.7,1057.9 989.7,1053.8 1010.8,1053.8 1006.8,1057.9 1010.8,1053.8 1010.8,1081 1006.8,1081 995,1077.7 991,1069.8" fill="#6EC82D"/>
<polygon points="1002.9,1069.8 1006.8,1067.1 1010.8,1067.1 1010.8,1079 1006.8,1079" fill="#A5E11E"/>
<polygon points="924.9,1065.8 951.4,1065.2 964.6,1068.5 979.1,1068.5 988.3,1077.7 1006.8,1083 1010.8,1083 1010.8,1107.4 1006.8,1107.4 980.4,1101.5 975.1,1098.8 976.5,1088.3 969.9,1084.3 951.4,1074.4 931.5,1067.8" fill="#0A915A"/>
<polygon points="931.5,1065.8 951.4,1065.8 959.3,1067.8 967.2,1069.8 979.1,1072.4 983.1,1077.7 979.1,1083.6 969.9,1081.7 956.6,1073.7 951.4,1071.8" fill="#236E96"/>
<polygon points="984.4,1088.3 996.3,1087.6 1006.8,1085.6 1010.8,1085.6 1010.8,1104.1 1006.8,1104.1 997.6,1098.8 984.4,1097.5" fill="#236E96"/>
<polygon points="946.1,1066.5 956.6,1066.1 951.4,1069.1" fill="#3C4BD2"/>
<polygon points="958,1075.7 965.9,1069.8 976.5,1076.4 968.5,1080.6" fill="#3C4BD2"/>
<polygon points="996.3,1088.3 1006.8,1086.3 1010.8,1086.3 1010.8,1100.2 1006.8,1100.2 997.6,1098.2" fill="#3C4BD2"/>
<polygon points="962.6,1075.7 967.2,1073.1 972.5,1076.1 967.9,1078.8" fill="#6428FF"/>
</g>
<g clip-path="url(#kc9b)">
<rect x="872" y="1239" width="137.8" height="272.1" fill="#FFDC00"/>
<polygon points="875.4,1231 1006.7,1231 1010.8,1231 1010.8,1281.3 1006.7,1281.3 979.3,1269.8 969.1,1280.6 965.8,1293.5 952.5,1290.2 942.3,1323.5 931.8,1371 924.7,1371 915.9,1346 900.3,1324.4 887.8,1321.6 875.4,1317.6 871,1317.6 871,1231" fill="#FF8C00"/>
<polygon points="907.2,1231 996.9,1231 979.3,1236.5 965.4,1256 951.9,1253.2 929.4,1257.8 915.9,1235.1" fill="#FF3C00"/>
</g>
<clipPath id="kc10t"><rect x="1043.2" y="1054.8" width="43.8" height="185.2"/></clipPath>
<clipPath id="kc10b"><rect x="1043.2" y="1240" width="43.8" height="221.5"/></clipPath>
<g clip-path="url(#kc10t)">
<rect x="1041.7" y="1054.8" width="46.8" height="187.2" fill="#960000"/>
<polygon points="1044.7,1177.4 1058.3,1177 1072.2,1175.2 1085.4,1168.9 1089.5,1168.9 1089.5,1241.5 1085.4,1241.5 1044.7,1241.5 1040.7,1241.5 1040.7,1177.4" fill="#E60000"/>
<polygon points="1044.7,1203.2 1058.3,1206.5 1072.2,1200.6 1085.4,1195.9 1089.5,1195.9 1089.5,1241.5 1085.4,1241.5 1044.7,1241.5 1040.7,1241.5 1040.7,1203.2" fill="#FF3C00"/>
<polygon points="1044.7,1232.9 1051,1241.5 1044.7,1241.5 1040.7,1241.5 1040.7,1232.9" fill="#FF8C00"/>
<polygon points="1061,1241.5 1072.2,1230.9 1080.8,1234.9 1085.4,1238.9 1089.5,1238.9 1089.5,1241.5 1085.4,1241.5" fill="#FF8C00"/>
<polygon points="1044.7,1057.9 1040.7,1053.8 1089.5,1053.8 1085.4,1057.9 1089.5,1053.8 1089.5,1138.5 1085.4,1138.5 1079.4,1127.9 1072.2,1118 1058.3,1114 1049.1,1121.3 1044.7,1133.2 1040.7,1133.2 1040.7,1053.8" fill="#E60000"/>
<polygon points="1044.7,1057.9 1040.7,1053.8 1089.5,1053.8 1085.4,1057.9 1089.5,1053.8 1089.5,1133.2 1085.4,1133.2 1079.4,1123.9 1072.2,1115.4 1058.3,1110.7 1050.4,1116 1044.7,1121.3 1040.7,1121.3 1040.7,1053.8" fill="#FF3C00"/>
<polygon points="1044.7,1057.9 1040.7,1053.8 1089.5,1053.8 1085.4,1057.9 1089.5,1053.8 1089.5,1129.2 1085.4,1129.2 1079.4,1120 1072.2,1112.1 1058.3,1108.1 1051.7,1112.1 1044.7,1118 1040.7,1118 1040.7,1053.8" fill="#FF8C00"/>
<polygon points="1044.7,1057.9 1040.7,1053.8 1089.5,1053.8 1085.4,1057.9 1089.5,1053.8 1089.5,1125.9 1085.4,1125.9 1079.4,1117.3 1072.2,1109.4 1058.3,1106.1 1051.7,1109.4 1044.7,1115.4 1040.7,1115.4 1040.7,1053.8" fill="#FFDC00"/>
<polygon points="1044.7,1057.9 1040.7,1053.8 1089.5,1053.8 1085.4,1057.9 1089.5,1053.8 1089.5,1121.3 1085.4,1121.3 1079.4,1113.4 1072.2,1106.1 1066.2,1104.1 1058.3,1102.8 1051.7,1105.4 1044.7,1112.1 1040.7,1112.1 1040.7,1053.8" fill="#DCF50F"/>
<polygon points="1044.7,1057.9 1040.7,1053.8 1089.5,1053.8 1085.4,1057.9 1089.5,1053.8 1089.5,1110.7 1085.4,1110.7 1079.4,1105.4 1072.2,1098.8 1066.2,1096.2 1058.3,1098.2 1051.7,1098.8 1044.7,1104.1 1040.7,1104.1 1040.7,1053.8" fill="#A5E11E"/>
<polygon points="1044.7,1057.9 1040.7,1053.8 1089.5,1053.8 1085.4,1057.9 1089.5,1053.8 1089.5,1106.1 1085.4,1106.1 1079.4,1100.2 1072.2,1092.2 1059.6,1094.2 1051.7,1096.2 1044.7,1101.5 1040.7,1101.5 1040.7,1053.8" fill="#6EC82D"/>
<polygon points="1044.7,1071.1 1057,1077.7 1064.9,1085.6 1072.2,1081 1085.4,1071.1 1089.5,1071.1 1089.5,1102.8 1085.4,1102.8 1078.1,1094.9 1072.2,1087 1063.6,1090.3 1053,1092.2 1044.7,1098.8 1040.7,1098.8 1040.7,1071.1" fill="#2DAA46"/>
<polygon points="1051,1057.9 1051,1053.8 1089.5,1053.8 1085.4,1057.9 1089.5,1053.8 1089.5,1068.5 1085.4,1068.5 1072.2,1078.4 1064.9,1075.7 1058.3,1067.1 1051.7,1061.9" fill="#A5E11E"/>
<polygon points="1044.7,1076.4 1055.7,1078.4 1063.6,1084.3 1068.9,1087 1063.6,1090.3 1053,1092.2 1044.7,1098.2 1040.7,1098.2 1040.7,1076.4" fill="#0A915A"/>
<polygon points="1044.7,1079 1054.3,1081 1061,1085.6 1066.2,1087.2 1059.6,1089.6 1051.7,1091.6 1044.7,1095.5 1040.7,1095.5 1040.7,1079" fill="#236E96"/>
<polygon points="1044.7,1080.6 1053,1083 1058.3,1086.3 1062.3,1087.3 1057,1088.9 1050.4,1090.6 1044.7,1093.8 1040.7,1093.8 1040.7,1080.6" fill="#3C4BD2"/>
<polygon points="1044.7,1083 1051.7,1085 1057,1087.2 1051.7,1089.3 1044.7,1091.6 1040.7,1091.6 1040.7,1083" fill="#6428FF"/>
<polygon points="1044.7,1085.6 1049.7,1087.2 1044.7,1088.9 1040.7,1088.9 1040.7,1085.6" fill="#D200FF"/>
<polygon points="1085.4,1084.3 1083.4,1088.3 1084.1,1094.9 1085.4,1097.5 1089.5,1097.5 1089.5,1084.3" fill="#0A915A"/>
</g>
<g clip-path="url(#kc10b)">
<rect x="1041.7" y="1239" width="46.8" height="226.5" fill="#FF8C00"/>
<polygon points="1085.6,1324.4 1074.5,1370.6 1085.6,1454.8 1089.5,1454.8 1089.5,1324.4" fill="#FFDC00"/>
<polygon points="1044.6,1366 1046.4,1397.4 1045.5,1434.4 1040.7,1434.4 1040.7,1443.7 1044.6,1443.7 1040.7,1443.7 1040.7,1366" fill="#FFDC00"/>
<polygon points="1044.6,1231 1085.6,1231 1089.5,1231 1089.5,1238.8 1085.6,1238.8 1079.7,1234.7 1072.3,1231.4 1069.5,1233.2 1057.5,1249.1 1045.5,1233.2 1040.7,1233.2 1040.7,1231" fill="#FF3C00"/>
</g>
<clipPath id="kc11t"><rect x="1110" y="1054.8" width="54.4" height="185.2"/></clipPath>
<clipPath id="kc11b"><rect x="1110" y="1240" width="54.4" height="267.1"/></clipPath>
<g clip-path="url(#kc11t)">
<rect x="1108.5" y="1054.8" width="57.4" height="187.2" fill="#E60000"/>
<polygon points="1111.5,1114.7 1123.7,1138.5 1130.3,1144.4 1131.2,1164.9 1128.3,1184.7 1123.7,1193.3 1111.5,1178.1 1107.5,1178.1 1107.5,1114.7" fill="#960000"/>
<polygon points="1162.9,1138.5 1156.3,1145.1 1155.4,1166.2 1162.9,1172.8 1166.9,1172.8 1166.9,1138.5" fill="#960000"/>
<polygon points="1136.9,1166.2 1138.2,1154.3 1140.2,1166.2 1138.2,1174.1" fill="#FF3C00"/>
<polygon points="1111.5,1213.1 1123.7,1219.3 1138,1197.9 1150.1,1187.1 1162.9,1201.2 1166.9,1201.2 1166.9,1241.5 1162.9,1241.5 1111.5,1241.5 1107.5,1241.5 1107.5,1213.1" fill="#FF3C00"/>
<polygon points="1127.7,1241.5 1131,1233.6 1138,1224.3 1150.1,1222.4 1162.9,1232.3 1166.9,1232.3 1166.9,1241.5 1162.9,1241.5" fill="#FF8C00"/>
<polygon points="1111.5,1057.9 1107.5,1053.8 1166.9,1053.8 1162.9,1057.9 1166.9,1053.8 1166.9,1131.9 1162.9,1131.9 1156.1,1138.5 1149.5,1144.4 1145.5,1135.8 1141.5,1125.3 1138,1120.6 1132.3,1122.6 1123.7,1129.2 1117.8,1121.3 1111.5,1109.4 1107.5,1109.4 1107.5,1053.8" fill="#FF3C00"/>
<polygon points="1111.5,1057.9 1107.5,1053.8 1166.9,1053.8 1162.9,1057.9 1166.9,1053.8 1166.9,1125.3 1162.9,1125.3 1150.1,1137.1 1142.9,1123.9 1138,1118.7 1123.7,1120.6 1119.1,1117.3 1111.5,1106.8 1107.5,1106.8 1107.5,1053.8" fill="#FF8C00"/>
<polygon points="1111.5,1057.9 1107.5,1053.8 1166.9,1053.8 1162.9,1057.9 1166.9,1053.8 1166.9,1119.3 1162.9,1119.3 1150.1,1129.9 1144.2,1121.3 1138,1116.7 1123.7,1116.7 1120.4,1113.4 1111.5,1104.8 1107.5,1104.8 1107.5,1053.8" fill="#FFDC00"/>
<polygon points="1111.5,1057.9 1107.5,1053.8 1166.9,1053.8 1162.9,1057.9 1166.9,1053.8 1166.9,1117.3 1162.9,1117.3 1150.1,1122 1138,1114 1121.7,1110.7 1111.5,1102.8 1107.5,1102.8 1107.5,1053.8" fill="#DCF50F"/>
<polygon points="1111.5,1057.9 1107.5,1053.8 1166.9,1053.8 1162.9,1057.9 1166.9,1053.8 1166.9,1108.1 1162.9,1108.1 1150.1,1114 1138,1110.7 1123.7,1108.1 1111.5,1100.8 1107.5,1100.8 1107.5,1053.8" fill="#A5E11E"/>
<polygon points="1111.5,1057.9 1107.5,1053.8 1166.9,1053.8 1162.9,1057.9 1166.9,1053.8 1166.9,1101.5 1162.9,1101.5 1150.1,1109.4 1138,1108.1 1123.7,1104.8 1111.5,1098.8 1107.5,1098.8 1107.5,1053.8" fill="#6EC82D"/>
<polygon points="1111.5,1077 1138,1077.7 1162.9,1079 1166.9,1079 1166.9,1096.2 1162.9,1096.2 1150.1,1101.5 1138,1106.1 1123.7,1102.1 1111.5,1096.9 1107.5,1096.9 1107.5,1077" fill="#2DAA46"/>
<polygon points="1111.5,1078.4 1138,1079 1162.9,1081 1166.9,1081 1166.9,1091.6 1162.9,1091.6 1150.1,1098.8 1138,1104.1 1123.7,1100.2 1111.5,1094.9 1107.5,1094.9 1107.5,1078.4" fill="#0A915A"/>
<polygon points="1111.5,1080.3 1138,1080.6 1162.9,1083.6 1166.9,1083.6 1166.9,1088.3 1162.9,1088.3 1150.1,1094.9 1138,1100.8 1123.7,1096.9 1111.5,1092.9 1107.5,1092.9 1107.5,1080.3" fill="#236E96"/>
<polygon points="1111.5,1082.3 1138,1083 1158.7,1085.6 1150.1,1090.9 1138,1098.2 1123.7,1093.6 1111.5,1090.9 1107.5,1090.9 1107.5,1082.3" fill="#3C4BD2"/>
<polygon points="1111.5,1084.3 1138,1085 1152.1,1087 1145.5,1090.3 1138,1095.5 1125.7,1090.3 1111.5,1089.3 1107.5,1089.3 1107.5,1084.3" fill="#6428FF"/>
<polygon points="1111.5,1085.9 1116.4,1087.2 1111.5,1088.5 1107.5,1088.5 1107.5,1085.9" fill="#D200FF"/>
<polygon points="1134.9,1088 1138,1087 1140.9,1088.3 1138,1089.9" fill="#D200FF"/>
<polygon points="1111.5,1057.9 1107.5,1053.8 1166.9,1053.8 1162.9,1057.9 1166.9,1053.8 1166.9,1076.6 1162.9,1076.6 1138,1076.1 1111.5,1075.3 1107.5,1075.3 1107.5,1053.8" fill="#A5E11E"/>
<polygon points="1111.5,1057.9 1107.5,1053.8 1121.7,1053.8 1121.7,1057.9 1125,1063.2 1124.4,1067.8 1117.8,1068.5 1111.5,1067.8 1107.5,1067.8 1107.5,1053.8" fill="#DCF50F"/>
<polygon points="1140.9,1057.9 1140.9,1053.8 1166.9,1053.8 1162.9,1057.9 1166.9,1053.8 1166.9,1076.6 1162.9,1076.6 1149.5,1076.4 1140.9,1075.1" fill="#DCF50F"/>
<polygon points="1161.3,1057.9 1161.3,1053.8 1166.9,1053.8 1162.9,1057.9 1166.9,1053.8 1166.9,1063.2 1162.9,1063.2" fill="#FFDC00"/>
</g>
<g clip-path="url(#kc11b)">
<rect x="1108.5" y="1239" width="57.4" height="272.1" fill="#FFDC00"/>
<polygon points="1111.5,1231 1162.9,1231 1166.9,1231 1166.9,1342 1162.9,1342 1160.1,1325.3 1157.9,1280.6 1149.4,1264.7 1138.3,1268.9 1133.9,1280 1138.3,1326.2 1123.5,1334.6 1111.5,1324.9 1107.5,1324.9 1107.5,1231" fill="#FF8C00"/>
<polygon points="1111.5,1231 1132.4,1231 1129.6,1236.5 1123.5,1254.7 1111.5,1254.1 1107.5,1254.1 1107.5,1231" fill="#FF3C00"/>
<polygon points="1130.9,1415.9 1138,1406.7 1140.7,1416.5 1138,1462.2" fill="#FF8C00"/>
</g>
<clipPath id="kc12t"><rect x="1254.7" y="1054.8" width="67.5" height="185.2"/></clipPath>
<clipPath id="kc12b"><rect x="1254.7" y="1240" width="67.5" height="267.1"/></clipPath>
<g clip-path="url(#kc12t)">
<rect x="1253.2" y="1054.8" width="70.5" height="187.2" fill="#960000"/>
<polygon points="1256.2,1183.4 1269.4,1176.1 1281.6,1167.3 1295.4,1178.5 1307.7,1165.9 1320.7,1167.3 1324.7,1167.3 1324.7,1241.5 1320.7,1241.5 1256.2,1241.5 1252.2,1241.5 1252.2,1183.4" fill="#E60000"/>
<polygon points="1256.2,1213.5 1269.4,1201.2 1281.6,1203.2 1295.4,1206.9 1307.7,1205.8 1320.7,1203.2 1324.7,1203.2 1324.7,1241.5 1320.7,1241.5 1256.2,1241.5 1252.2,1241.5 1252.2,1213.5" fill="#FF3C00"/>
<polygon points="1260.4,1241.5 1263.1,1236.2 1269.4,1227.6 1277.6,1237.5 1281.6,1241.5" fill="#FF8C00"/>
<polygon points="1282.2,1241.5 1295.4,1238.9 1307.7,1232 1320.7,1238.9 1324.7,1238.9 1324.7,1241.5 1320.7,1241.5" fill="#FF8C00"/>
<polygon points="1256.2,1057.9 1252.2,1053.8 1324.7,1053.8 1320.7,1057.9 1324.7,1053.8 1324.7,1108.7 1320.7,1108.7 1307.7,1105.4 1295.4,1098.2 1281.6,1109.4 1276.3,1120 1269.4,1125.3 1264.4,1112.1 1256.2,1104.1 1252.2,1104.1 1252.2,1053.8" fill="#E60000"/>
<polygon points="1256.2,1057.9 1252.2,1053.8 1324.7,1053.8 1320.7,1057.9 1324.7,1053.8 1324.7,1102.8 1320.7,1102.8 1307.7,1097.5 1295.4,1090.9 1289.5,1098.8 1281.6,1104.1 1276.3,1109.4 1269.4,1116 1264.4,1108.1 1256.2,1100.2 1252.2,1100.2 1252.2,1053.8" fill="#FF3C00"/>
<polygon points="1256.2,1057.9 1252.2,1053.8 1324.7,1053.8 1320.7,1057.9 1324.7,1053.8 1324.7,1094.9 1320.7,1094.9 1307.7,1090.9 1295.4,1086.3 1290.8,1088.3 1288.2,1096.2 1281.6,1100.8 1276.3,1105.4 1269.4,1112.1 1264.4,1104.1 1256.2,1097.5 1252.2,1097.5 1252.2,1053.8" fill="#FF8C00"/>
<polygon points="1256.2,1057.9 1252.2,1053.8 1324.7,1053.8 1320.7,1057.9 1324.7,1053.8 1324.7,1088.3 1320.7,1088.3 1307.7,1086.3 1295.4,1084.3 1281.6,1085 1275,1088.3 1280.9,1098.8 1269.4,1105.4 1261.7,1096.2 1260.4,1087.6 1256.2,1087 1252.2,1087 1252.2,1053.8" fill="#FFDC00"/>
<polygon points="1256.2,1057.9 1252.2,1053.8 1324.7,1053.8 1320.7,1057.9 1324.7,1053.8 1324.7,1085.6 1320.7,1085.6 1307.7,1083.6 1295.4,1082.3 1281.6,1080.3 1271,1085 1256.2,1083.6 1252.2,1083.6 1252.2,1053.8" fill="#DCF50F"/>
<polygon points="1256.2,1057.9 1252.2,1053.8 1270.3,1053.8 1270.3,1057.9 1271,1064.5 1265.7,1066.5 1256.2,1067.1 1252.2,1067.1 1252.2,1053.8" fill="#FFDC00"/>
<polygon points="1267,1098.2 1269.7,1094.9 1273,1098.2 1269.7,1100.8" fill="#DCF50F"/>
<polygon points="1256.2,1071.8 1269.4,1069.8 1277.6,1076.1 1269.4,1081.7 1256.2,1079.7 1252.2,1079.7 1252.2,1071.8" fill="#A5E11E"/>
<polygon points="1259.1,1075.7 1269.4,1073.1 1273.6,1076.1 1269.4,1079" fill="#6EC82D"/>
<polygon points="1285.5,1075.1 1288.2,1063.2 1297.4,1059.2 1306.7,1057.9 1306.7,1053.8 1324.7,1053.8 1320.7,1057.9 1324.7,1053.8 1324.7,1080.3 1320.7,1080.3 1307.7,1080.6 1295.4,1078.4" fill="#A5E11E"/>
<polygon points="1292.1,1075.7 1295.4,1069.1 1301.4,1065.8 1306.7,1064.5 1314.6,1067.1 1320.7,1072.4 1324.7,1072.4 1324.7,1078.4 1320.7,1078.4 1307.7,1078.4" fill="#6EC82D"/>
<polygon points="1300.7,1075.7 1304,1068.5 1306.7,1066.5 1310.6,1067.8 1316.6,1075.3 1308,1077" fill="#2DAA46"/>
</g>
<g clip-path="url(#kc12b)">
<rect x="1253.2" y="1239" width="70.5" height="272.1" fill="#FFDC00"/>
<polygon points="1256.3,1231 1320.5,1231 1324.7,1231 1324.7,1309.6 1320.5,1309.6 1307.7,1312 1295.5,1333.1 1289.6,1325.3 1281.8,1319.4 1277.6,1330.9 1269.3,1355.3 1256.3,1343.8 1252.2,1343.8 1252.2,1231" fill="#FF8C00"/>
<polygon points="1256.3,1231 1267.4,1231 1263.7,1236.5 1256.3,1256.9 1252.2,1256.9 1252.2,1231" fill="#FF3C00"/>
<polygon points="1273,1231 1320.5,1231 1324.7,1231 1324.7,1239.9 1320.5,1239.9 1314.6,1234.7 1307.7,1231.9 1295.5,1238.8 1281.8,1243 1278.5,1235.1" fill="#FF3C00"/>
<polygon points="1260.9,1461.8 1269.6,1450.2 1272,1461.8 1269.6,1478.8" fill="#FF8C00"/>
</g>
<clipPath id="kc13t"><rect x="1358.6" y="1054.8" width="43.6" height="185.2"/></clipPath>
<clipPath id="kc13b"><rect x="1358.6" y="1240" width="43.6" height="267.1"/></clipPath>
<g clip-path="url(#kc13t)">
<rect x="1357.1" y="1054.8" width="46.6" height="187.2" fill="#E60000"/>
<polygon points="1360.1,1110.7 1372.7,1104.8 1381.9,1122.6 1385.9,1135.8 1391.1,1144.4 1386.5,1153 1372.7,1166.2 1360.1,1168.9 1356.1,1168.9 1356.1,1110.7" fill="#960000"/>
<polygon points="1360.1,1188 1373.3,1195.3 1386.5,1180.7 1400.7,1179.2 1404.7,1179.2 1404.7,1241.5 1400.7,1241.5 1360.1,1241.5 1356.1,1241.5 1356.1,1188" fill="#FF3C00"/>
<polygon points="1360.1,1229 1373.3,1233.8 1386.5,1227 1400.7,1203.2 1404.7,1203.2 1404.7,1241.5 1400.7,1241.5 1360.1,1241.5 1356.1,1241.5 1356.1,1229" fill="#FF8C00"/>
<polygon points="1360.1,1057.9 1356.1,1053.8 1404.7,1053.8 1400.7,1057.9 1404.7,1053.8 1404.7,1141.1 1400.7,1141.1 1392.5,1130.5 1385.9,1122.6 1376.6,1104.1 1372.7,1101.5 1360.1,1102.8 1356.1,1102.8 1356.1,1053.8" fill="#FF3C00"/>
<polygon points="1360.1,1057.9 1356.1,1053.8 1404.7,1053.8 1400.7,1057.9 1404.7,1053.8 1404.7,1137.1 1400.7,1137.1 1387.2,1120 1377.9,1101.5 1372.7,1098.8 1360.1,1098.8 1356.1,1098.8 1356.1,1053.8" fill="#FF8C00"/>
<polygon points="1360.1,1057.9 1356.1,1053.8 1404.7,1053.8 1400.7,1057.9 1404.7,1053.8 1404.7,1133.8 1400.7,1133.8 1391.1,1120 1383.2,1104.1 1377.3,1098.2 1379.3,1089.6 1382.6,1077 1379.3,1068.5 1372.7,1065.4 1360.1,1071.8 1356.1,1071.8 1356.1,1053.8" fill="#FFDC00"/>
<polygon points="1360.1,1057.9 1356.1,1053.8 1404.7,1053.8 1400.7,1057.9 1404.7,1053.8 1404.7,1130.5 1400.7,1130.5 1393.8,1120 1385.9,1104.1 1380.6,1097.5 1381.9,1089.6 1384.5,1077 1380.6,1067.1 1372.7,1063.8 1360.1,1069.8 1356.1,1069.8 1356.1,1053.8" fill="#DCF50F"/>
<polygon points="1375.3,1057.9 1375.3,1053.8 1404.7,1053.8 1400.7,1057.9 1404.7,1053.8 1404.7,1125.3 1400.7,1125.3 1389.8,1105.4 1384.5,1098.8 1384.5,1089.6 1386.5,1077 1384.5,1068.5 1379.3,1061.9" fill="#A5E11E"/>
<polygon points="1375.3,1057.9 1375.3,1053.8 1404.7,1053.8 1400.7,1057.9 1404.7,1053.8 1404.7,1072.4 1400.7,1072.4 1386.5,1065.8 1384.5,1063.2" fill="#6EC82D"/>
<polygon points="1400.7,1079 1388.5,1087 1392.5,1098.8 1397.8,1112.1 1400.7,1118 1404.7,1118 1404.7,1079" fill="#6EC82D"/>
<polygon points="1362.7,1076.4 1372.7,1070.4 1376.4,1077 1374,1089.6 1372.4,1098.2 1360.1,1098.8 1356.1,1098.8 1356.1,1094.2 1360.1,1094.2 1370,1087" fill="#FF3C00"/>
<polygon points="1360.1,1083.6 1363.1,1087 1360.1,1089.6 1356.1,1089.6 1356.1,1083.6" fill="#FFDC00"/>
</g>
<g clip-path="url(#kc13b)">
<rect x="1357.1" y="1239" width="46.6" height="272.1" fill="#FF8C00"/>
<polygon points="1400.6,1245.8 1391,1280.9 1388.5,1327.2 1383.6,1371.6 1381.1,1415.9 1383.9,1452.9 1386.3,1506.6 1400.6,1506.6 1404.7,1506.6 1404.7,1245.8" fill="#FFDC00"/>
<polygon points="1365.4,1231 1380.2,1231 1373.2,1234.3" fill="#FF3C00"/>
</g>
<clipPath id="kc14t"><rect x="1424" y="1054.8" width="68.9" height="185.2"/></clipPath>
<clipPath id="kc14b"><rect x="1424" y="1240" width="68.9" height="267.1"/></clipPath>
<g clip-path="url(#kc14t)">
<rect x="1422.5" y="1054.8" width="71.9" height="187.2" fill="#E60000"/>
<polygon points="1471.7,1143.8 1479.7,1140.5 1491.3,1138.5 1495.4,1138.5 1495.4,1167.5 1491.3,1167.5 1479.7,1193.3 1465.1,1191.3 1457.9,1166.9 1465.1,1151.7" fill="#960000"/>
<polygon points="1425.5,1155.6 1430.1,1166.2 1425.5,1173.5 1421.5,1173.5 1421.5,1155.6" fill="#960000"/>
<polygon points="1425.5,1207.4 1438.7,1197.9 1451.9,1190 1465.1,1220.1 1479.7,1221 1487.6,1195.3 1491.3,1184.7 1495.4,1184.7 1495.4,1241.5 1491.3,1241.5 1425.5,1241.5 1421.5,1241.5 1421.5,1207.4" fill="#FF3C00"/>
<polygon points="1425.5,1057.9 1421.5,1053.8 1495.4,1053.8 1491.3,1057.9 1495.4,1053.8 1495.4,1131.2 1491.3,1131.2 1479.7,1137.1 1457.2,1143.8 1451.9,1157.6 1445.3,1143.8 1425.5,1139.1 1421.5,1139.1 1421.5,1053.8" fill="#FF3C00"/>
<polygon points="1425.5,1057.9 1421.5,1053.8 1495.4,1053.8 1491.3,1057.9 1495.4,1053.8 1495.4,1123.9 1491.3,1123.9 1479.7,1132.5 1465.1,1135.8 1451.9,1139.5 1438.7,1135.8 1425.5,1132.5 1421.5,1132.5 1421.5,1053.8" fill="#FF8C00"/>
<polygon points="1425.5,1057.9 1421.5,1053.8 1495.4,1053.8 1491.3,1057.9 1495.4,1053.8 1495.4,1120 1491.3,1120 1479.7,1128.6 1465.1,1130.5 1451.9,1133.2 1438.7,1130.5 1425.5,1127.2 1421.5,1127.2 1421.5,1053.8" fill="#FFDC00"/>
<polygon points="1425.5,1057.9 1421.5,1053.8 1495.4,1053.8 1491.3,1057.9 1495.4,1053.8 1495.4,1117.3 1491.3,1117.3 1479.7,1125.3 1465.1,1124.6 1451.9,1126.3 1438.7,1123.9 1425.5,1122 1421.5,1122 1421.5,1053.8" fill="#DCF50F"/>
<polygon points="1425.5,1119.3 1440,1112.1 1451.9,1105.2 1464.5,1110.3 1451.9,1115.7 1434.7,1122 1425.5,1125.3 1421.5,1125.3 1421.5,1119.3" fill="#FFDC00"/>
<polygon points="1450.9,1110.1 1451.9,1109.1 1453,1110.1 1451.9,1111" fill="#FF8C00"/>
<polygon points="1425.5,1057.9 1421.5,1053.8 1441.3,1053.8 1441.3,1057.9 1446,1066.5 1425.5,1074.4 1421.5,1074.4 1421.5,1053.8" fill="#A5E11E"/>
<polygon points="1425.5,1079.7 1449.3,1088.3 1456.5,1096.9 1425.5,1112.1 1421.5,1112.1 1421.5,1079.7" fill="#A5E11E"/>
<polygon points="1457.2,1057.9 1457.2,1053.8 1495.4,1053.8 1491.3,1057.9 1495.4,1053.8 1495.4,1084.3 1491.3,1084.3 1479.7,1085.6 1465.1,1095.5 1453.9,1087 1458.5,1075.1 1457.2,1063.2" fill="#A5E11E"/>
<polygon points="1477,1099.5 1491.3,1092.9 1495.4,1092.9 1495.4,1114 1491.3,1114 1482.3,1109.4 1479.7,1102.8" fill="#A5E11E"/>
<polygon points="1487.6,1057.9 1487.6,1053.8 1495.4,1053.8 1491.3,1057.9 1495.4,1053.8 1495.4,1080.1 1491.3,1080.1 1477,1075.1 1482.3,1069.1 1487.6,1065.8" fill="#6EC82D"/>
<polygon points="1425.5,1064.5 1430.1,1066.5 1425.5,1067.8 1421.5,1067.8 1421.5,1064.5" fill="#6EC82D"/>
<polygon points="1476.4,1121.3 1479,1116 1480.3,1122" fill="#A5E11E"/>
</g>
<g clip-path="url(#kc14b)">
<rect x="1422.5" y="1239" width="71.9" height="272.1" fill="#FF8C00"/>
<polygon points="1425.7,1231 1491.6,1231 1495.4,1231 1495.4,1243.9 1491.6,1243.9 1479.1,1252.6 1465.3,1258.6 1452.4,1249.1 1425.7,1248.8 1421.5,1248.8 1421.5,1231" fill="#FF3C00"/>
<polygon points="1491.6,1303.1 1480,1304.8 1474.5,1324.1 1472.2,1368.9 1471,1415.5 1479.1,1460.3 1491.6,1468.9 1495.4,1468.9 1495.4,1303.1" fill="#FFDC00"/>
<polygon points="1465.3,1458.2 1476.6,1461.2 1465.3,1464.6" fill="#FFDC00"/>
<polygon points="1425.7,1458.6 1427.9,1489.6 1427.4,1506.9 1425.7,1506.9 1421.5,1506.9 1421.5,1458.6" fill="#FFDC00"/>
</g>
<clipPath id="kc15t"><rect x="1516.1" y="1054.8" width="29.2" height="185.2"/></clipPath>
<clipPath id="kc15b"><rect x="1516.1" y="1240" width="29.2" height="267.1"/></clipPath>
<g clip-path="url(#kc15t)">
<rect x="1514.6" y="1054.8" width="32.2" height="187.2" fill="#960000"/>
<polygon points="1517.6,1177.4 1531.8,1167.5 1543.7,1182.1 1547.8,1182.1 1547.8,1241.5 1543.7,1241.5 1517.6,1241.5 1513.6,1241.5 1513.6,1177.4" fill="#E60000"/>
<polygon points="1517.6,1199.9 1531.8,1188.4 1543.7,1211.1 1547.8,1211.1 1547.8,1241.5 1543.7,1241.5 1517.6,1241.5 1513.6,1241.5 1513.6,1199.9" fill="#FF3C00"/>
<polygon points="1517.6,1229 1531.8,1220.4 1539.1,1234.9 1541.7,1241.5 1517.6,1241.5 1513.6,1241.5 1513.6,1229" fill="#FF8C00"/>
<polygon points="1517.6,1057.9 1513.6,1053.8 1547.8,1053.8 1543.7,1057.9 1547.8,1053.8 1547.8,1116.7 1543.7,1116.7 1517.6,1116 1513.6,1116 1513.6,1053.8" fill="#E60000"/>
<polygon points="1517.6,1057.9 1513.6,1053.8 1547.8,1053.8 1543.7,1057.9 1547.8,1053.8 1547.8,1111.4 1543.7,1111.4 1531.8,1114 1517.6,1112.1 1513.6,1112.1 1513.6,1053.8" fill="#FF3C00"/>
<polygon points="1517.6,1057.9 1513.6,1053.8 1547.8,1053.8 1543.7,1057.9 1547.8,1053.8 1547.8,1108.1 1543.7,1108.1 1531.8,1111.4 1517.6,1107 1513.6,1107 1513.6,1053.8" fill="#FF8C00"/>
<polygon points="1517.6,1057.9 1513.6,1053.8 1547.8,1053.8 1543.7,1057.9 1547.8,1053.8 1547.8,1104.1 1543.7,1104.1 1537.8,1100.8 1531.8,1098.8 1517.6,1099.5 1513.6,1099.5 1513.6,1053.8" fill="#FFDC00"/>
<polygon points="1517.6,1057.9 1513.6,1053.8 1547.8,1053.8 1543.7,1057.9 1547.8,1053.8 1547.8,1098.8 1543.7,1098.8 1537.8,1088.3 1531.8,1082.3 1524.6,1089.6 1517.6,1094.9 1513.6,1094.9 1513.6,1053.8" fill="#DCF50F"/>
<polygon points="1517.6,1057.9 1513.6,1053.8 1547.8,1053.8 1543.7,1057.9 1547.8,1053.8 1547.8,1087 1543.7,1087 1539.1,1084.3 1531.8,1077 1524.6,1084.3 1517.6,1090.9 1513.6,1090.9 1513.6,1053.8" fill="#A5E11E"/>
<polygon points="1536.5,1057.9 1536.5,1053.8 1547.8,1053.8 1543.7,1057.9 1547.8,1053.8 1547.8,1073.1 1543.7,1073.1 1532.5,1067.8 1533.2,1063.2" fill="#DCF50F"/>
<polygon points="1517.6,1071.1 1521.7,1077 1519.9,1087 1517.6,1088.9 1513.6,1088.9 1513.6,1071.1" fill="#6EC82D"/>
<polygon points="1531.2,1087 1532.5,1086.3 1532.2,1098.2 1530.9,1098.2" fill="#FF8C00"/>
</g>
<g clip-path="url(#kc15b)">
<rect x="1514.6" y="1239" width="32.2" height="272.1" fill="#FFDC00"/>
<polygon points="1517.6,1231 1543.8,1231 1547.8,1231 1547.8,1318.9 1543.8,1318.9 1538.6,1281 1532.1,1263.4 1522.2,1280.1 1517.6,1307.7 1513.6,1307.7 1513.6,1231" fill="#FF8C00"/>
<polygon points="1537.8,1231 1543.8,1231 1547.8,1231 1547.8,1247.4 1543.8,1247.4" fill="#FF3C00"/>
</g>
<path d="M146 1062.4H1586.3 M146 1066.9H1586.3 M146 1076H1586.3 M146 1087.3H1586.3 M146 1098.7H1586.3 M146 1110H1586.3 M146 1121.3H1586.3 M146 1144H1586.3 M146 1166.7H1586.3 M146 1189.4H1586.3 M146 1234.7H1586.3 M146 1280.1H1586.3 M146 1325.5H1586.3 M146 1370.8H1586.3 M146 1416.2H1586.3 M146 1461.5H1586.3 M231.2 1053.3V1506.9 M349.2 1053.3V1506.9 M415.2 1053.3V1506.9 M546.1 1053.3V1506.9 M704.4 1053.3V1506.9 M716.3 1053.3V1506.9 M821.2 1053.3V1506.9 M835.4 1053.3V1506.9 M952.4 1053.3V1506.9 M1072.2 1053.3V1506.9 M1123.7 1053.3V1506.9 M1269.4 1053.3V1506.9 M1281.6 1053.3V1506.9 M1295.4 1053.3V1506.9 M1307.7 1053.3V1506.9 M1386.5 1053.3V1506.9 M1479.7 1053.3V1506.9" stroke="#fff" stroke-opacity="0.11" stroke-width="1" fill="none"/>
<rect x="146" y="1053.3" width="57.9" height="453.6" fill="#fff"/>
<rect x="258" y="1053.3" width="27.1" height="453.6" fill="#fff"/>
<rect x="297" y="1053.3" width="25.1" height="453.6" fill="#fff"/>
<rect x="361.5" y="1053.3" width="26" height="453.6" fill="#fff"/>
<rect x="427.1" y="1053.3" width="39.2" height="453.6" fill="#fff"/>
<rect x="571.9" y="1053.3" width="26.1" height="453.6" fill="#fff"/>
<rect x="612.4" y="1053.3" width="78.8" height="453.6" fill="#fff"/>
<rect x="755.8" y="1053.3" width="53.6" height="453.6" fill="#fff"/>
<rect x="849" y="1053.3" width="26" height="453.6" fill="#fff"/>
<rect x="1006.8" y="1053.3" width="37.9" height="453.6" fill="#fff"/>
<rect x="1085.5" y="1053.3" width="26" height="453.6" fill="#fff"/>
<rect x="1162.9" y="1053.3" width="93.3" height="453.6" fill="#fff"/>
<rect x="1320.7" y="1053.3" width="39.4" height="453.6" fill="#fff"/>
<rect x="1400.7" y="1053.3" width="24.8" height="453.6" fill="#fff"/>
<rect x="1491.4" y="1053.3" width="26.2" height="453.6" fill="#fff"/>
<rect x="1543.8" y="1053.3" width="42.5" height="453.6" fill="#fff"/>
<rect x="146" y="1053.3" width="1440.3" height="4.5" fill="#fff"/>
<rect x="321.1" y="1053.3" width="41.4" height="9.1" fill="#fff"/>
<rect x="321.1" y="1461.5" width="14.2" height="45.4" fill="#fff"/>
<rect x="465.3" y="1053.3" width="40.5" height="90.5" fill="#fff"/>
<rect x="874" y="1053.3" width="41.7" height="9.1" fill="#fff"/>
<rect x="929.2" y="1053.3" width="49.6" height="9.1" fill="#fff"/>
<rect x="915.9" y="1371" width="49.9" height="135.9" fill="#fff"/>
<rect x="1043.7" y="1461.5" width="42.8" height="45.4" fill="#fff"/>
<rect x="1532.1" y="1461.5" width="12.7" height="45.4" fill="#fff"/>
<path d="M185.1 11.9v9.8 M185.1 465.6v-9.8 M225.9 11.9v9.8 M225.9 465.6v-9.8 M265.3 11.9v9.8 M265.3 465.6v-9.8 M306 11.9v7.4 M306 465.6v-7.4 M346.8 11.9v9.8 M346.8 465.6v-9.8 M383.6 11.9v9.8 M383.6 465.6v-9.8 M424.3 11.9v9.8 M424.3 465.6v-9.8 M463.7 11.9v9.8 M463.7 465.6v-9.8 M504.5 11.9v9.8 M504.5 465.6v-9.8 M543.9 11.9v9.8 M543.9 465.6v-9.8 M584.6 11.9v9.8 M584.6 465.6v-9.8 M625.4 11.9v9.8 M625.4 465.6v-9.8 M664.8 11.9v9.8 M664.8 465.6v-9.8 M705.5 11.9v9.8 M705.5 465.6v-9.8 M745 11.9v9.8 M745 465.6v-9.8 M785.7 11.9v7.4 M785.7 465.6v-7.4 M826.5 11.9v9.8 M826.5 465.6v-9.8 M863.3 11.9v9.8 M863.3 465.6v-9.8 M904 11.9v9.8 M904 465.6v-9.8 M943.4 11.9v9.8 M943.4 465.6v-9.8 M984.2 11.9v9.8 M984.2 465.6v-9.8 M1023.6 11.9v9.8 M1023.6 465.6v-9.8 M1064.3 11.9v9.8 M1064.3 465.6v-9.8 M1105.1 11.9v9.8 M1105.1 465.6v-9.8 M1144.5 11.9v9.8 M1144.5 465.6v-9.8 M1185.2 11.9v9.8 M1185.2 465.6v-9.8 M1224.7 11.9v9.8 M1224.7 465.6v-9.8 M1265.4 11.9v7.4 M1265.4 465.6v-7.4 M1306.1 11.9v9.8 M1306.1 465.6v-9.8 M1344.3 11.9v9.8 M1344.3 465.6v-9.8 M1385 11.9v9.8 M1385 465.6v-9.8 M1424.4 11.9v9.8 M1424.4 465.6v-9.8 M1465.2 11.9v9.8 M1465.2 465.6v-9.8 M1504.6 11.9v9.8 M1504.6 465.6v-9.8 M1545.3 11.9v9.8 M1545.3 465.6v-9.8 M146 57.3h8 M1586.3 57.3h-8 M146 102.6h8 M1586.3 102.6h-8 M146 148h8 M1586.3 148h-8 M146 193.4h8 M1586.3 193.4h-8 M146 238.8h8 M1586.3 238.8h-8 M146 284.1h8 M1586.3 284.1h-8 M146 329.5h8 M1586.3 329.5h-8 M146 374.9h8 M1586.3 374.9h-8 M146 420.2h8 M1586.3 420.2h-8" stroke="#000" stroke-width="3" fill="none"/>
<rect x="146" y="11.9" width="1440.3" height="453.7" fill="none" stroke="#000" stroke-width="3.5"/>
<path d="M185.1 532.3v11 M185.1 985.9v-11 M225.9 532.3v11 M225.9 985.9v-11 M265.3 532.3v11 M265.3 985.9v-11 M306 532.3v8.2 M306 985.9v-8.2 M346.8 532.3v11 M346.8 985.9v-11 M383.6 532.3v11 M383.6 985.9v-11 M424.3 532.3v11 M424.3 985.9v-11 M463.7 532.3v11 M463.7 985.9v-11 M504.5 532.3v11 M504.5 985.9v-11 M543.9 532.3v11 M543.9 985.9v-11 M584.6 532.3v11 M584.6 985.9v-11 M625.4 532.3v11 M625.4 985.9v-11 M664.8 532.3v11 M664.8 985.9v-11 M705.5 532.3v11 M705.5 985.9v-11 M745 532.3v11 M745 985.9v-11 M785.7 532.3v8.2 M785.7 985.9v-8.2 M826.5 532.3v11 M826.5 985.9v-11 M863.3 532.3v11 M863.3 985.9v-11 M904 532.3v11 M904 985.9v-11 M943.4 532.3v11 M943.4 985.9v-11 M984.2 532.3v11 M984.2 985.9v-11 M1023.6 532.3v11 M1023.6 985.9v-11 M1064.3 532.3v11 M1064.3 985.9v-11 M1105.1 532.3v11 M1105.1 985.9v-11 M1144.5 532.3v11 M1144.5 985.9v-11 M1185.2 532.3v11 M1185.2 985.9v-11 M1224.7 532.3v11 M1224.7 985.9v-11 M1265.4 532.3v8.2 M1265.4 985.9v-8.2 M1306.1 532.3v11 M1306.1 985.9v-11 M1344.3 532.3v11 M1344.3 985.9v-11 M1385 532.3v11 M1385 985.9v-11 M1424.4 532.3v11 M1424.4 985.9v-11 M1465.2 532.3v11 M1465.2 985.9v-11 M1504.6 532.3v11 M1504.6 985.9v-11 M1545.3 532.3v11 M1545.3 985.9v-11 M146 577.7h9 M1586.3 577.7h-9 M146 623h9 M1586.3 623h-9 M146 668.4h9 M1586.3 668.4h-9 M146 713.7h9 M1586.3 713.7h-9 M146 759.1h9 M1586.3 759.1h-9 M146 804.5h9 M1586.3 804.5h-9 M146 849.8h9 M1586.3 849.8h-9 M146 895.2h9 M1586.3 895.2h-9 M146 940.5h9 M1586.3 940.5h-9" stroke="#000" stroke-width="3" fill="none"/>
<rect x="146" y="532.3" width="1440.3" height="453.6" fill="none" stroke="#000" stroke-width="3.5"/>
<path d="M185.1 1053.3v10.2 M185.1 1506.9v-10.2 M225.9 1053.3v10.2 M225.9 1506.9v-10.2 M265.3 1053.3v10.2 M265.3 1506.9v-10.2 M306 1053.3v7.6 M306 1506.9v-7.6 M346.8 1053.3v10.2 M346.8 1506.9v-10.2 M383.6 1053.3v10.2 M383.6 1506.9v-10.2 M424.3 1053.3v10.2 M424.3 1506.9v-10.2 M463.7 1053.3v10.2 M463.7 1506.9v-10.2 M504.5 1053.3v10.2 M504.5 1506.9v-10.2 M543.9 1053.3v10.2 M543.9 1506.9v-10.2 M584.6 1053.3v10.2 M584.6 1506.9v-10.2 M625.4 1053.3v10.2 M625.4 1506.9v-10.2 M664.8 1053.3v10.2 M664.8 1506.9v-10.2 M705.5 1053.3v10.2 M705.5 1506.9v-10.2 M745 1053.3v10.2 M745 1506.9v-10.2 M785.7 1053.3v7.6 M785.7 1506.9v-7.6 M826.5 1053.3v10.2 M826.5 1506.9v-10.2 M863.3 1053.3v10.2 M863.3 1506.9v-10.2 M904 1053.3v10.2 M904 1506.9v-10.2 M943.4 1053.3v10.2 M943.4 1506.9v-10.2 M984.2 1053.3v10.2 M984.2 1506.9v-10.2 M1023.6 1053.3v10.2 M1023.6 1506.9v-10.2 M1064.3 1053.3v10.2 M1064.3 1506.9v-10.2 M1105.1 1053.3v10.2 M1105.1 1506.9v-10.2 M1144.5 1053.3v10.2 M1144.5 1506.9v-10.2 M1185.2 1053.3v10.2 M1185.2 1506.9v-10.2 M1224.7 1053.3v10.2 M1224.7 1506.9v-10.2 M1265.4 1053.3v7.6 M1265.4 1506.9v-7.6 M1306.1 1053.3v10.2 M1306.1 1506.9v-10.2 M1344.3 1053.3v10.2 M1344.3 1506.9v-10.2 M1385 1053.3v10.2 M1385 1506.9v-10.2 M1424.4 1053.3v10.2 M1424.4 1506.9v-10.2 M1465.2 1053.3v10.2 M1465.2 1506.9v-10.2 M1504.6 1053.3v10.2 M1504.6 1506.9v-10.2 M1545.3 1053.3v10.2 M1545.3 1506.9v-10.2 M146 1098.7h9 M1586.3 1098.7h-9 M146 1144h9 M1586.3 1144h-9 M146 1189.4h9 M1586.3 1189.4h-9 M146 1234.7h9 M1586.3 1234.7h-9 M146 1280.1h9 M1586.3 1280.1h-9 M146 1325.5h9 M1586.3 1325.5h-9 M146 1370.8h9 M1586.3 1370.8h-9 M146 1416.2h9 M1586.3 1416.2h-9 M146 1461.5h9 M1586.3 1461.5h-9" stroke="#000" stroke-width="3" fill="none"/>
<rect x="146" y="1053.3" width="1440.3" height="453.6" fill="none" stroke="#000" stroke-width="3.5"/>
<text transform="translate(110.848 23.606) scale(1.15 1)" font-size="34.433" font-weight="bold">0</text>
<text transform="translate(71.215 113.946) scale(1.151 1)" font-size="34.433" font-weight="bold">200</text>
<text transform="translate(72.281 204.686) scale(1.13 1)" font-size="34.433" font-weight="bold">400</text>
<text transform="translate(71.485 295.426) scale(1.145 1)" font-size="34.433" font-weight="bold">600</text>
<text transform="translate(71.485 386.166) scale(1.145 1)" font-size="34.433" font-weight="bold">800</text>
<text transform="translate(48.512 476.906) scale(1.194 1)" font-size="34.433" font-weight="bold">1000</text>
<text transform="translate(35.39 321.293) rotate(-90) scale(0.901 1)" font-size="33.046" stroke="#000" stroke-width="0.5">DEPTH</text>
<text transform="translate(34.053 208.671) rotate(-90) scale(1.068 1)" font-size="33.971" stroke="#000" stroke-width="0.5">(m)</text>
<text transform="translate(108.41 544.928) scale(1.164 1)" font-size="37.241" font-weight="bold">0</text>
<text transform="translate(65.991 635.248) scale(1.147 1)" font-size="37.241" font-weight="bold">200</text>
<text transform="translate(67.141 725.968) scale(1.126 1)" font-size="37.241" font-weight="bold">400</text>
<text transform="translate(66.283 816.688) scale(1.142 1)" font-size="37.241" font-weight="bold">600</text>
<text transform="translate(66.283 907.408) scale(1.142 1)" font-size="37.241" font-weight="bold">800</text>
<text transform="translate(46.665 998.128) scale(1.119 1)" font-size="37.241" font-weight="bold">1000</text>
<text transform="translate(26.681 848.158) rotate(-90) scale(0.896 1)" font-size="35.635" stroke="#000" stroke-width="0.5">DEPTH</text>
<text transform="translate(25.376 728.231) rotate(-90) scale(1.118 1)" font-size="35.735" stroke="#000" stroke-width="0.5">(m)</text>
<text transform="translate(109.379 1065.345) scale(1.17 1)" font-size="35.468" font-weight="bold">0</text>
<text transform="translate(67.942 1155.665) scale(1.169 1)" font-size="35.468" font-weight="bold">200</text>
<text transform="translate(69.057 1246.385) scale(1.147 1)" font-size="35.468" font-weight="bold">400</text>
<text transform="translate(68.225 1337.105) scale(1.163 1)" font-size="35.468" font-weight="bold">600</text>
<text transform="translate(68.225 1427.825) scale(1.163 1)" font-size="35.468" font-weight="bold">800</text>
<text transform="translate(47.808 1518.545) scale(1.16 1)" font-size="35.468" font-weight="bold">1000</text>
<text transform="translate(29.683 1366.94) rotate(-90) scale(0.894 1)" font-size="35.025" stroke="#000" stroke-width="0.5">DEPTH</text>
<text transform="translate(27.941 1248.571) rotate(-90) scale(1.103 1)" font-size="34.963" stroke="#000" stroke-width="0.5">(m)</text>
<text transform="translate(154.441 1542.8) scale(0.981 1)" font-size="40.561" font-weight="bold" stroke="#000" stroke-width="0.5">S</text>
<path d="M156.7 1548.4L174.7 1510.8" stroke="#000" stroke-width="1" fill="none"/>
<text transform="translate(193.809 1542.8) scale(0.758 1)" font-size="40.561" font-weight="bold" stroke="#000" stroke-width="0.5">O</text>
<text transform="translate(233.871 1542.8) scale(0.811 1)" font-size="40.561" font-weight="bold" stroke="#000" stroke-width="0.5">N</text>
<text transform="translate(274.929 1542.8) scale(0.788 1)" font-size="40.561" font-weight="bold" stroke="#000" stroke-width="0.5">D</text>
<text transform="translate(317.451 1542.8) scale(0.883 1)" font-size="40.561" font-weight="bold" stroke="#000" stroke-width="0.5">J</text>
<text transform="translate(354.968 1542.8) scale(0.893 1)" font-size="40.561" font-weight="bold" stroke="#000" stroke-width="0.5">F</text>
<text transform="translate(391.277 1542.8) scale(0.685 1)" font-size="40.561" font-weight="bold" stroke="#000" stroke-width="0.5">M</text>
<text transform="translate(433.732 1542.8) scale(0.719 1)" font-size="40.561" font-weight="bold" stroke="#000" stroke-width="0.5">A</text>
<text transform="translate(471.444 1542.8) scale(0.685 1)" font-size="40.561" font-weight="bold" stroke="#000" stroke-width="0.5">M</text>
<text transform="translate(515.238 1542.8) scale(0.883 1)" font-size="40.561" font-weight="bold" stroke="#000" stroke-width="0.5">J</text>
<text transform="translate(555.321 1542.8) scale(0.883 1)" font-size="40.561" font-weight="bold" stroke="#000" stroke-width="0.5">J</text>
<text transform="translate(594.721 1542.8) scale(0.719 1)" font-size="40.561" font-weight="bold" stroke="#000" stroke-width="0.5">A</text>
<text transform="translate(634.124 1542.8) scale(0.981 1)" font-size="40.561" font-weight="bold" stroke="#000" stroke-width="0.5">S</text>
<path d="M636.4 1548.4L654.4 1510.8" stroke="#000" stroke-width="1" fill="none"/>
<text transform="translate(673.492 1542.8) scale(0.758 1)" font-size="40.561" font-weight="bold" stroke="#000" stroke-width="0.5">O</text>
<text transform="translate(713.554 1542.8) scale(0.811 1)" font-size="40.561" font-weight="bold" stroke="#000" stroke-width="0.5">N</text>
<text transform="translate(754.612 1542.8) scale(0.788 1)" font-size="40.561" font-weight="bold" stroke="#000" stroke-width="0.5">D</text>
<text transform="translate(797.134 1542.8) scale(0.883 1)" font-size="40.561" font-weight="bold" stroke="#000" stroke-width="0.5">J</text>
<text transform="translate(834.651 1542.8) scale(0.893 1)" font-size="40.561" font-weight="bold" stroke="#000" stroke-width="0.5">F</text>
<text transform="translate(870.96 1542.8) scale(0.685 1)" font-size="40.561" font-weight="bold" stroke="#000" stroke-width="0.5">M</text>
<text transform="translate(913.415 1542.8) scale(0.719 1)" font-size="40.561" font-weight="bold" stroke="#000" stroke-width="0.5">A</text>
<text transform="translate(951.127 1542.8) scale(0.685 1)" font-size="40.561" font-weight="bold" stroke="#000" stroke-width="0.5">M</text>
<text transform="translate(994.921 1542.8) scale(0.883 1)" font-size="40.561" font-weight="bold" stroke="#000" stroke-width="0.5">J</text>
<text transform="translate(1035.004 1542.8) scale(0.883 1)" font-size="40.561" font-weight="bold" stroke="#000" stroke-width="0.5">J</text>
<text transform="translate(1074.404 1542.8) scale(0.719 1)" font-size="40.561" font-weight="bold" stroke="#000" stroke-width="0.5">A</text>
<text transform="translate(1113.807 1542.8) scale(0.981 1)" font-size="40.561" font-weight="bold" stroke="#000" stroke-width="0.5">S</text>
<path d="M1116.1 1548.4L1134.1 1510.8" stroke="#000" stroke-width="1" fill="none"/>
<text transform="translate(1153.175 1542.8) scale(0.758 1)" font-size="40.561" font-weight="bold" stroke="#000" stroke-width="0.5">O</text>
<text transform="translate(1193.237 1542.8) scale(0.811 1)" font-size="40.561" font-weight="bold" stroke="#000" stroke-width="0.5">N</text>
<text transform="translate(1234.295 1542.8) scale(0.788 1)" font-size="40.561" font-weight="bold" stroke="#000" stroke-width="0.5">D</text>
<text transform="translate(1276.817 1542.8) scale(0.883 1)" font-size="40.561" font-weight="bold" stroke="#000" stroke-width="0.5">J</text>
<text transform="translate(1314.991 1542.8) scale(0.893 1)" font-size="40.561" font-weight="bold" stroke="#000" stroke-width="0.5">F</text>
<text transform="translate(1351.958 1542.8) scale(0.685 1)" font-size="40.561" font-weight="bold" stroke="#000" stroke-width="0.5">M</text>
<text transform="translate(1394.412 1542.8) scale(0.719 1)" font-size="40.561" font-weight="bold" stroke="#000" stroke-width="0.5">A</text>
<text transform="translate(1432.124 1542.8) scale(0.685 1)" font-size="40.561" font-weight="bold" stroke="#000" stroke-width="0.5">M</text>
<text transform="translate(1475.918 1542.8) scale(0.883 1)" font-size="40.561" font-weight="bold" stroke="#000" stroke-width="0.5">J</text>
<text transform="translate(1516.001 1542.8) scale(0.883 1)" font-size="40.561" font-weight="bold" stroke="#000" stroke-width="0.5">J</text>
<text transform="translate(1555.402 1542.8) scale(0.719 1)" font-size="40.561" font-weight="bold" stroke="#000" stroke-width="0.5">A</text>
<text transform="translate(164.228 1602.474) scale(1.172 1)" font-size="52.611" stroke="#000" stroke-width="0.8">2005</text>
<text transform="translate(484.442 1602.474) scale(1.166 1)" font-size="52.611" stroke="#000" stroke-width="0.8">2006</text>
<text transform="translate(963.742 1602.474) scale(1.166 1)" font-size="52.611" stroke="#000" stroke-width="0.8">2007</text>
<text transform="translate(1363.732 1602.474) scale(1.17 1)" font-size="52.611" stroke="#000" stroke-width="0.8">2008</text>
<text transform="translate(633.645 507.2) scale(0.892 1)" font-size="50.969">ARGO</text>
<text transform="translate(787.393 507.2) scale(0.95 1)" font-size="50.969">TEMP</text>
<text transform="translate(650.453 1031.6) scale(0.866 1)" font-size="55.714">HYCOM</text>
<text transform="translate(858.74 1031.6) scale(0.926 1)" font-size="55.714">TEMP</text>
<text transform="translate(541.201 1656.7) scale(0.928 1)" font-size="53.878">HYCOM&#8722;ARGO</text>
<text transform="translate(924.272 1655.7) scale(0.988 1)" font-size="54.375">(TEMP)</text>
<text transform="translate(49.136 56.388) scale(1.11 1)" font-size="55.368">(a)</text>
<text transform="translate(40.499 579.218) scale(1.087 1)" font-size="59.449">(b)</text>
<text transform="translate(44.248 1091.694) scale(1.101 1)" font-size="57.684">(c)</text>
<text transform="translate(1761.402 73.612) scale(1.149 1)" font-size="42.132">(d)</text>
<text transform="translate(1757.73 567.788) scale(1.187 1)" font-size="44.118">(e)</text>
<text transform="translate(1763.55 1089.918) scale(1.111 1)" font-size="42.574">(f)</text>
<g stroke="#000" stroke-width="2.9" stroke-linejoin="round">
<polygon points="1604.3,69.5 1621.2,10.3 1638,69.5" fill="#960000"/>
<polygon points="1604.3,928.9 1621.2,985.6 1638,928.9" fill="#D200FF"/>
<rect x="1604.3" y="69.5" width="33.7" height="57.3" fill="#D40000"/>
<rect x="1604.3" y="126.8" width="33.7" height="57.3" fill="#FF1E00"/>
<rect x="1604.3" y="184.1" width="33.7" height="57.3" fill="#FF5F00"/>
<rect x="1604.3" y="241.4" width="33.7" height="57.3" fill="#FFA000"/>
<rect x="1604.3" y="298.7" width="33.7" height="57.3" fill="#FFE100"/>
<rect x="1604.3" y="355.9" width="33.7" height="57.3" fill="#E1F50F"/>
<rect x="1604.3" y="413.2" width="33.7" height="57.3" fill="#B4E614"/>
<rect x="1604.3" y="470.5" width="33.7" height="57.3" fill="#82D21E"/>
<rect x="1604.3" y="527.8" width="33.7" height="57.3" fill="#55BE32"/>
<rect x="1604.3" y="585.1" width="33.7" height="57.3" fill="#28AA3C"/>
<rect x="1604.3" y="642.4" width="33.7" height="57.3" fill="#05915A"/>
<rect x="1604.3" y="699.7" width="33.7" height="57.3" fill="#1E7387"/>
<rect x="1604.3" y="757" width="33.7" height="57.3" fill="#3258BE"/>
<rect x="1604.3" y="814.3" width="33.7" height="57.3" fill="#4641F5"/>
<rect x="1604.3" y="871.6" width="33.7" height="57.3" fill="#7D1EFF"/>
</g>
<text transform="translate(1644.559 138.053) scale(1.166 1)" font-size="33.695" font-weight="bold">30.0</text>
<text transform="translate(1644.425 252.633) scale(1.169 1)" font-size="33.695" font-weight="bold">26.0</text>
<text transform="translate(1644.425 367.213) scale(1.169 1)" font-size="33.695" font-weight="bold">22.0</text>
<text transform="translate(1645.604 481.793) scale(1.148 1)" font-size="33.695" font-weight="bold">18.0</text>
<text transform="translate(1645.604 596.373) scale(1.148 1)" font-size="33.695" font-weight="bold">14.0</text>
<text transform="translate(1645.604 710.953) scale(1.148 1)" font-size="33.695" font-weight="bold">10.0</text>
<text transform="translate(1660.278 825.533) scale(1.177 1)" font-size="33.695" font-weight="bold">6.0</text>
<text transform="translate(1660.005 940.113) scale(1.184 1)" font-size="33.695" font-weight="bold">2.0</text>
<g stroke="#000" stroke-width="2.9" stroke-linejoin="round">
<polygon points="1603.8,1085.4 1620.5,1052 1637.3,1085.4" fill="#960000"/>
<polygon points="1603.8,1476 1620.5,1509 1637.3,1476" fill="#D200FF"/>
<rect x="1603.8" y="1085.4" width="33.5" height="32.5" fill="#E60000"/>
<rect x="1603.8" y="1118" width="33.5" height="32.5" fill="#FF3C00"/>
<rect x="1603.8" y="1150.5" width="33.5" height="32.5" fill="#FF8C00"/>
<rect x="1603.8" y="1183.1" width="33.5" height="32.5" fill="#FFDC00"/>
<rect x="1603.8" y="1215.6" width="33.5" height="32.5" fill="#DCF50F"/>
<rect x="1603.8" y="1248.2" width="33.5" height="32.5" fill="#A5E11E"/>
<rect x="1603.8" y="1280.7" width="33.5" height="32.5" fill="#6EC82D"/>
<rect x="1603.8" y="1313.2" width="33.5" height="32.5" fill="#2DAA46"/>
<rect x="1603.8" y="1345.8" width="33.5" height="32.5" fill="#0A915A"/>
<rect x="1603.8" y="1378.4" width="33.5" height="32.5" fill="#236E96"/>
<rect x="1603.8" y="1410.9" width="33.5" height="32.5" fill="#3C4BD2"/>
<rect x="1603.8" y="1443.5" width="33.5" height="32.5" fill="#6428FF"/>
</g>
<text transform="translate(1643.367 1096.763) scale(1.16 1)" font-size="33.695" font-weight="bold">3.0</text>
<text transform="translate(1644.765 1194.413) scale(1.126 1)" font-size="33.695" font-weight="bold">1.5</text>
<text transform="translate(1643.367 1292.063) scale(1.16 1)" font-size="33.695" font-weight="bold">0.0</text>
<text transform="translate(1643.491 1389.713) scale(1.173 1)" font-size="33.695" font-weight="bold">&#8722;1.5</text>
<text transform="translate(1643.491 1487.363) scale(1.173 1)" font-size="33.695" font-weight="bold">&#8722;3.0</text>
<clipPath id="rd"><rect x="1826" y="11.9" width="480.3" height="453.7"/></clipPath>
<clipPath id="re"><rect x="1826" y="532.3" width="480.3" height="453.6"/></clipPath>
<clipPath id="rf"><rect x="1826" y="1053.3" width="480.3" height="453.6"/></clipPath>
<path d="M1857 11.9V465.6 M1888 11.9V465.6 M1919 11.9V465.6 M1950 11.9V465.6 M1981 11.9V465.6 M2012 11.9V465.6 M2043 11.9V465.6 M2074 11.9V465.6 M2105 11.9V465.6 M2136 11.9V465.6 M2167 11.9V465.6 M2198 11.9V465.6 M2229 11.9V465.6 M2260 11.9V465.6 M2291 11.9V465.6 M1826 57.3H2306.3 M1826 102.6H2306.3 M1826 148H2306.3 M1826 193.4H2306.3 M1826 238.8H2306.3 M1826 284.1H2306.3 M1826 329.5H2306.3 M1826 374.9H2306.3 M1826 420.2H2306.3" stroke="#000" stroke-width="2.8" stroke-dasharray="4.4 5.4" stroke-dashoffset="0.8" fill="none"/>
<polyline points="2239.5,18.6 2233.1,27.2 2210.7,35.2 2165.9,48 2124.3,60.8 2084.2,78.5 2047.4,102.5 2025,124.9 2005.8,147.6 1982.4,193.1 1964.2,238.6 1949.7,283.7 1936.9,328.9 1927.3,374 1917.7,419.5 1908.1,465" fill="none" stroke="#000" stroke-width="7.2" stroke-linejoin="miter" stroke-miterlimit="5" clip-path="url(#rd)"/>
<polyline points="2236.3,17.6 2229.9,25.6 2196.3,34.6 2124.3,52.8 2073,67.2 2037.8,78.5 1994.6,101.8 1977,124.9 1964.2,148.9 1949.7,193.7 1936,238.6 1924.1,283.7 1912.9,328.9 1903.3,374 1894.3,419.5 1887.3,465" fill="none" stroke="#FF0000" stroke-width="7.2" stroke-linejoin="miter" stroke-miterlimit="5" clip-path="url(#rd)"/>
<path d="M1860.3 532.3V985.9 M1894.6 532.3V985.9 M1928.9 532.3V985.9 M1997.5 532.3V985.9 M2031.9 532.3V985.9 M2066.2 532.3V985.9 M2100.5 532.3V985.9 M2134.8 532.3V985.9 M2169.1 532.3V985.9 M2203.4 532.3V985.9 M2237.7 532.3V985.9 M2272 532.3V985.9 M1826 577.7H2306.3 M1826 623H2306.3 M1826 668.4H2306.3 M1826 713.7H2306.3 M1826 759.1H2306.3 M1826 804.5H2306.3 M1826 849.8H2306.3 M1826 895.2H2306.3 M1826 940.5H2306.3" stroke="#000" stroke-width="2.8" stroke-dasharray="4.4 5.4" stroke-dashoffset="0.8" fill="none"/>
<path d="M1963.2 532.3V985.9" stroke="#000" stroke-width="2" fill="none"/>
<polyline points="1994.6,538.2 1993,542 2002.6,546.8 2057,558 2063.4,566 2047.4,577.2 2023.4,588.5 1999.4,620.5 1996.2,644.5 1996.2,668.5 1985,714 1978.6,759.1 1975.4,804.6 1972.2,849.7 1969.9,895.2 1969,940.7 1968,986.2" fill="none" stroke="#000" stroke-width="7.2" stroke-linejoin="miter" stroke-miterlimit="5" clip-path="url(#re)"/>
<polyline points="2002.6,538.8 2012.2,543.6 2114.7,554.8 2172.3,566 2140.3,583.6 2092.2,601.3 2015.4,622.1 1996.2,641.3 1985,668.5 1980.2,714 1978.6,759.1 1977.6,804.6 1977,849.7 1976.3,895.2 1976,940.7 1975.4,986.2" fill="none" stroke="#FF0000" stroke-width="7.2" stroke-linejoin="miter" stroke-miterlimit="5" clip-path="url(#re)"/>
<polyline points="2001,538.2 2001,542 2060.2,554.8 2119.5,567 2105,578.8 1999.4,622.1 1991.4,644.5 1985,668.5 1976.3,714 1974.7,759.1 1974.7,804.6 1974.7,849.7 1974.7,895.2 1974.7,940.7 1973.8,986.2" fill="none" stroke="#00FF00" stroke-width="7.2" stroke-linejoin="miter" stroke-miterlimit="5" clip-path="url(#re)"/>
<path d="M1874 1053.3V1506.9 M1922.1 1053.3V1506.9 M1970.1 1053.3V1506.9 M2018.1 1053.3V1506.9 M2066.2 1053.3V1506.9 M2114.2 1053.3V1506.9 M2162.2 1053.3V1506.9 M2210.2 1053.3V1506.9 M2258.3 1053.3V1506.9 M1826 1098.7H2306.3 M1826 1144H2306.3 M1826 1189.4H2306.3 M1826 1234.7H2306.3 M1826 1280.1H2306.3 M1826 1325.5H2306.3 M1826 1370.8H2306.3 M1826 1416.2H2306.3 M1826 1461.5H2306.3" stroke="#000" stroke-width="2.8" stroke-dasharray="4.4 5.4" stroke-dashoffset="0.8" fill="none"/>
<polyline points="2091.6,1058.8 1985,1067.5 2177.1,1076.4 2130.7,1098.2 2194.7,1109.4 2212.3,1121.3 2114.7,1167.1 2161.1,1189.1 2176.1,1234.3 2149.9,1279.8 2141.9,1324.9 2076.2,1370.4 2067.3,1415.9 2070.5,1461.3 2093.8,1507.1" fill="none" stroke="#000" stroke-width="7.6" stroke-linejoin="miter" stroke-miterlimit="5" clip-path="url(#rf)"/>
<text transform="translate(2061.155 424) scale(0.958 1)" font-size="25.561" font-weight="bold">ARGO_mean_T</text>
<path d="M2244.8 416.4H2293.9" stroke="#FF0000" stroke-width="7.2" fill="none"/>
<text transform="translate(2044.405 448.3) scale(0.932 1)" font-size="25.408" font-weight="bold">HYCOM_mean_T</text>
<path d="M2244.8 441.2H2293.9" stroke="#000" stroke-width="7.2" fill="none"/>
<text transform="translate(2107.901 915.2) scale(0.905 1)" font-size="26.48" font-weight="bold">RMS_DIFF</text>
<path d="M2240.9 907.8H2293.3" stroke="#00FF00" stroke-width="7.2" fill="none"/>
<text transform="translate(2087.072 941.5) scale(0.86 1)" font-size="26.48" font-weight="bold">ARGO_STDV</text>
<path d="M2240.9 934.1H2293.3" stroke="#FF0000" stroke-width="7.2" fill="none"/>
<text transform="translate(2067.224 967.4) scale(0.847 1)" font-size="26.633" font-weight="bold">HYCOM_STDV</text>
<path d="M2240.9 960H2293.3" stroke="#000" stroke-width="7.2" fill="none"/>
<text transform="translate(2063.91 1488.8) scale(0.823 1)" font-size="26.48" font-weight="bold">CORRELATION</text>
<path d="M2241 1481H2293.3" stroke="#000" stroke-width="7.2" fill="none"/>
<path d="M1826 57.3h6 M2306.3 57.3h-6 M1826 102.6h6 M2306.3 102.6h-6 M1826 148h6 M2306.3 148h-6 M1826 193.4h6 M2306.3 193.4h-6 M1826 238.8h6 M2306.3 238.8h-6 M1826 284.1h6 M2306.3 284.1h-6 M1826 329.5h6 M2306.3 329.5h-6 M1826 374.9h6 M2306.3 374.9h-6 M1826 420.2h6 M2306.3 420.2h-6 M1857 11.9v6 M1857 465.6v-6 M1888 11.9v6 M1888 465.6v-6 M1919 11.9v6 M1919 465.6v-6 M1950 11.9v6 M1950 465.6v-6 M1981 11.9v6 M1981 465.6v-6 M2012 11.9v6 M2012 465.6v-6 M2043 11.9v6 M2043 465.6v-6 M2074 11.9v6 M2074 465.6v-6 M2105 11.9v6 M2105 465.6v-6 M2136 11.9v6 M2136 465.6v-6 M2167 11.9v6 M2167 465.6v-6 M2198 11.9v6 M2198 465.6v-6 M2229 11.9v6 M2229 465.6v-6 M2260 11.9v6 M2260 465.6v-6 M2291 11.9v6 M2291 465.6v-6" stroke="#000" stroke-width="2.8" fill="none"/>
<rect x="1826" y="11.9" width="480.3" height="453.7" fill="none" stroke="#000" stroke-width="3.5"/>
<path d="M1826 577.7h6 M2306.3 577.7h-6 M1826 623h6 M2306.3 623h-6 M1826 668.4h6 M2306.3 668.4h-6 M1826 713.7h6 M2306.3 713.7h-6 M1826 759.1h6 M2306.3 759.1h-6 M1826 804.5h6 M2306.3 804.5h-6 M1826 849.8h6 M2306.3 849.8h-6 M1826 895.2h6 M2306.3 895.2h-6 M1826 940.5h6 M2306.3 940.5h-6 M1860.3 532.3v6 M1860.3 985.9v-6 M1894.6 532.3v6 M1894.6 985.9v-6 M1928.9 532.3v6 M1928.9 985.9v-6 M1963.2 532.3v6 M1963.2 985.9v-6 M1997.5 532.3v6 M1997.5 985.9v-6 M2031.9 532.3v6 M2031.9 985.9v-6 M2066.2 532.3v6 M2066.2 985.9v-6 M2100.5 532.3v6 M2100.5 985.9v-6 M2134.8 532.3v6 M2134.8 985.9v-6 M2169.1 532.3v6 M2169.1 985.9v-6 M2203.4 532.3v6 M2203.4 985.9v-6 M2237.7 532.3v6 M2237.7 985.9v-6 M2272 532.3v6 M2272 985.9v-6" stroke="#000" stroke-width="2.8" fill="none"/>
<rect x="1826" y="532.3" width="480.3" height="453.6" fill="none" stroke="#000" stroke-width="3.5"/>
<path d="M1826 1098.7h6 M2306.3 1098.7h-6 M1826 1144h6 M2306.3 1144h-6 M1826 1189.4h6 M2306.3 1189.4h-6 M1826 1234.7h6 M2306.3 1234.7h-6 M1826 1280.1h6 M2306.3 1280.1h-6 M1826 1325.5h6 M2306.3 1325.5h-6 M1826 1370.8h6 M2306.3 1370.8h-6 M1826 1416.2h6 M2306.3 1416.2h-6 M1826 1461.5h6 M2306.3 1461.5h-6 M1874 1053.3v6 M1874 1506.9v-6 M1922.1 1053.3v6 M1922.1 1506.9v-6 M1970.1 1053.3v6 M1970.1 1506.9v-6 M2018.1 1053.3v6 M2018.1 1506.9v-6 M2066.2 1053.3v6 M2066.2 1506.9v-6 M2114.2 1053.3v6 M2114.2 1506.9v-6 M2162.2 1053.3v6 M2162.2 1506.9v-6 M2210.2 1053.3v6 M2210.2 1506.9v-6 M2258.3 1053.3v6 M2258.3 1506.9v-6" stroke="#000" stroke-width="2.8" fill="none"/>
<rect x="1826" y="1053.3" width="480.3" height="453.6" fill="none" stroke="#000" stroke-width="3.5"/>
<text transform="translate(1805.918 496.724) scale(1.16 1)" font-size="27.635" font-weight="bold" stroke="#000" stroke-width="0.5">2.0</text>
<text transform="translate(1867.929 496.724) scale(1.162 1)" font-size="27.635" font-weight="bold" stroke="#000" stroke-width="0.5">6.0</text>
<text transform="translate(1923.641 496.724) scale(1.112 1)" font-size="27.635" font-weight="bold" stroke="#000" stroke-width="0.5">10.0</text>
<text transform="translate(1985.336 496.724) scale(1.114 1)" font-size="27.635" font-weight="bold" stroke="#000" stroke-width="0.5">14.0</text>
<text transform="translate(2047.227 496.724) scale(1.119 1)" font-size="27.635" font-weight="bold" stroke="#000" stroke-width="0.5">18.0</text>
<text transform="translate(2108.047 496.724) scale(1.133 1)" font-size="27.635" font-weight="bold" stroke="#000" stroke-width="0.5">22.0</text>
<text transform="translate(2169.738 496.724) scale(1.142 1)" font-size="27.635" font-weight="bold" stroke="#000" stroke-width="0.5">26.0</text>
<text transform="translate(2231.739 496.724) scale(1.146 1)" font-size="27.635" font-weight="bold" stroke="#000" stroke-width="0.5">30.0</text>
<text transform="translate(1795.169 1020.191) scale(1.112 1)" font-size="30.887" font-weight="bold" stroke="#000" stroke-width="0.5">&#8722;2.0</text>
<text transform="translate(1863.763 1020.191) scale(1.115 1)" font-size="30.887" font-weight="bold" stroke="#000" stroke-width="0.5">&#8722;1.0</text>
<text transform="translate(1942.244 1020.191) scale(1.109 1)" font-size="30.887" font-weight="bold" stroke="#000" stroke-width="0.5">0.0</text>
<text transform="translate(2011.439 1020.191) scale(1.077 1)" font-size="30.887" font-weight="bold" stroke="#000" stroke-width="0.5">1.0</text>
<text transform="translate(2078.616 1020.191) scale(1.12 1)" font-size="30.887" font-weight="bold" stroke="#000" stroke-width="0.5">2.0</text>
<text transform="translate(2147.329 1020.191) scale(1.123 1)" font-size="30.887" font-weight="bold" stroke="#000" stroke-width="0.5">3.0</text>
<text transform="translate(2216.147 1020.191) scale(1.101 1)" font-size="30.887" font-weight="bold" stroke="#000" stroke-width="0.5">4.0</text>
<text transform="translate(2284.019 1020.191) scale(1.118 1)" font-size="30.887" font-weight="bold" stroke="#000" stroke-width="0.5">5.0</text>
<text transform="translate(1796.882 1540.999) scale(1.102 1)" font-size="30.148" font-weight="bold" stroke="#000" stroke-width="0.5">0.00</text>
<text transform="translate(1893.082 1540.999) scale(1.102 1)" font-size="30.148" font-weight="bold" stroke="#000" stroke-width="0.5">0.20</text>
<text transform="translate(1989.082 1540.999) scale(1.102 1)" font-size="30.148" font-weight="bold" stroke="#000" stroke-width="0.5">0.40</text>
<text transform="translate(2085.388 1540.999) scale(1.096 1)" font-size="30.148" font-weight="bold" stroke="#000" stroke-width="0.5">0.60</text>
<text transform="translate(2181.382 1540.999) scale(1.102 1)" font-size="30.148" font-weight="bold" stroke="#000" stroke-width="0.5">0.80</text>
<text transform="translate(2278.201 1540.999) scale(1.119 1)" font-size="30.148" font-weight="bold" stroke="#000" stroke-width="0.5">1.00</text>
</svg>
</body></html>
